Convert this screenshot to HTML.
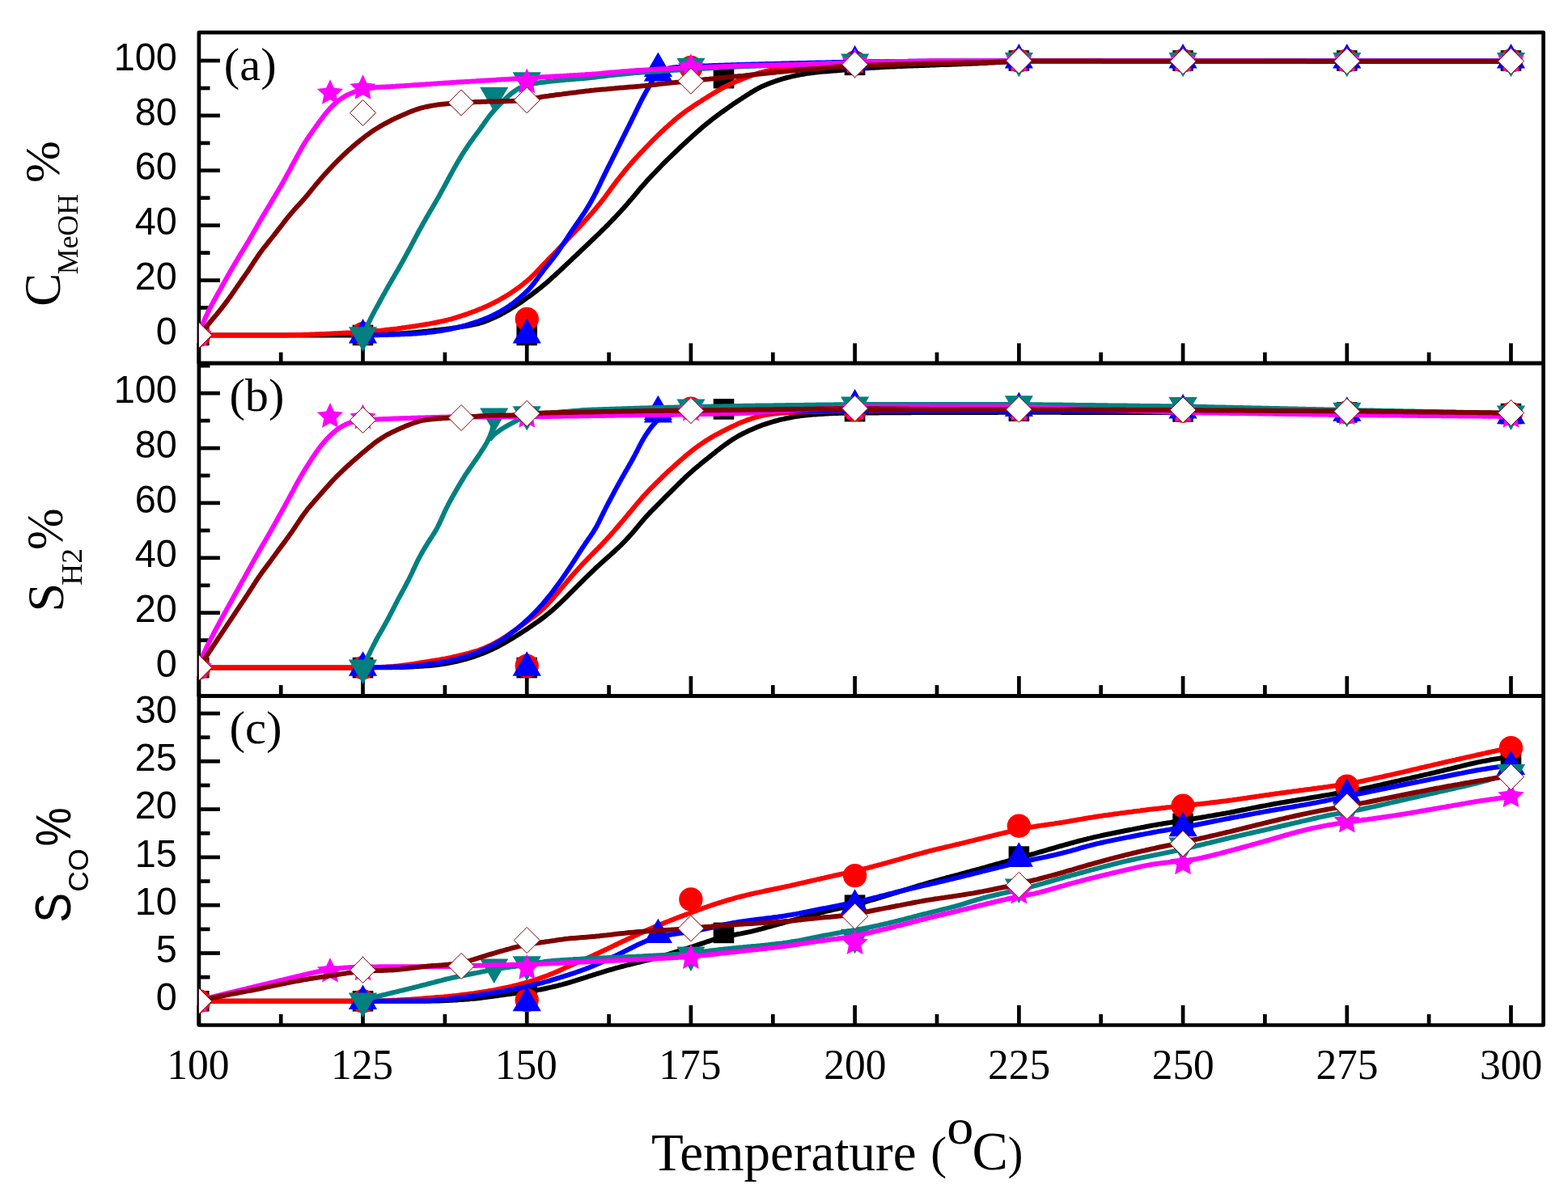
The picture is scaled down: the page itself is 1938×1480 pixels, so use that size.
<!DOCTYPE html>
<html><head><meta charset="utf-8"><title>Chart</title>
<style>html,body{margin:0;padding:0;background:#fff;width:1938px;height:1480px;overflow:hidden}svg{display:block}</style>
</head><body>
<svg width="1938" height="1480" viewBox="0 0 1938 1480">
<rect width="1938" height="1480" fill="#fff"/>
<defs>
<clipPath id="ca"><rect x="245.9" y="40.2" width="1661.7" height="408.8"/></clipPath>
<clipPath id="cb"><rect x="245.9" y="449.1" width="1661.7" height="411.6"/></clipPath>
<clipPath id="cc"><rect x="245.9" y="860.6" width="1661.7" height="406.9"/></clipPath>
</defs>
<rect x="245.9" y="40.2" width="1661.7" height="408.8" fill="none" stroke="#000" stroke-linejoin="round" stroke-width="4.7"/>
<line x1="245.8" y1="449.1" x2="245.8" y2="424.4" stroke="#000" stroke-width="4.7"/>
<line x1="347.2" y1="449.1" x2="347.2" y2="435.6" stroke="#000" stroke-width="4.7"/>
<line x1="448.5" y1="449.1" x2="448.5" y2="424.4" stroke="#000" stroke-width="4.7"/>
<line x1="549.9" y1="449.1" x2="549.9" y2="435.6" stroke="#000" stroke-width="4.7"/>
<line x1="651.2" y1="449.1" x2="651.2" y2="424.4" stroke="#000" stroke-width="4.7"/>
<line x1="752.6" y1="449.1" x2="752.6" y2="435.6" stroke="#000" stroke-width="4.7"/>
<line x1="853.9" y1="449.1" x2="853.9" y2="424.4" stroke="#000" stroke-width="4.7"/>
<line x1="955.3" y1="449.1" x2="955.3" y2="435.6" stroke="#000" stroke-width="4.7"/>
<line x1="1056.6" y1="449.1" x2="1056.6" y2="424.4" stroke="#000" stroke-width="4.7"/>
<line x1="1158" y1="449.1" x2="1158" y2="435.6" stroke="#000" stroke-width="4.7"/>
<line x1="1259.4" y1="449.1" x2="1259.4" y2="424.4" stroke="#000" stroke-width="4.7"/>
<line x1="1360.7" y1="449.1" x2="1360.7" y2="435.6" stroke="#000" stroke-width="4.7"/>
<line x1="1462.1" y1="449.1" x2="1462.1" y2="424.4" stroke="#000" stroke-width="4.7"/>
<line x1="1563.4" y1="449.1" x2="1563.4" y2="435.6" stroke="#000" stroke-width="4.7"/>
<line x1="1664.8" y1="449.1" x2="1664.8" y2="424.4" stroke="#000" stroke-width="4.7"/>
<line x1="1766.1" y1="449.1" x2="1766.1" y2="435.6" stroke="#000" stroke-width="4.7"/>
<line x1="1867.5" y1="449.1" x2="1867.5" y2="424.4" stroke="#000" stroke-width="4.7"/>
<line x1="245.9" y1="414.4" x2="271.9" y2="414.4" stroke="#000" stroke-width="4.7"/>
<line x1="245.9" y1="380.5" x2="259.5" y2="380.5" stroke="#000" stroke-width="4.7"/>
<line x1="245.9" y1="346.6" x2="271.9" y2="346.6" stroke="#000" stroke-width="4.7"/>
<line x1="245.9" y1="312.6" x2="259.5" y2="312.6" stroke="#000" stroke-width="4.7"/>
<line x1="245.9" y1="278.7" x2="271.9" y2="278.7" stroke="#000" stroke-width="4.7"/>
<line x1="245.9" y1="244.7" x2="259.5" y2="244.7" stroke="#000" stroke-width="4.7"/>
<line x1="245.9" y1="210.8" x2="271.9" y2="210.8" stroke="#000" stroke-width="4.7"/>
<line x1="245.9" y1="176.9" x2="259.5" y2="176.9" stroke="#000" stroke-width="4.7"/>
<line x1="245.9" y1="142.9" x2="271.9" y2="142.9" stroke="#000" stroke-width="4.7"/>
<line x1="245.9" y1="109" x2="259.5" y2="109" stroke="#000" stroke-width="4.7"/>
<line x1="245.9" y1="75" x2="271.9" y2="75" stroke="#000" stroke-width="4.7"/>
<rect x="245.9" y="449.1" width="1661.7" height="411.6" fill="none" stroke="#000" stroke-linejoin="round" stroke-width="4.7"/>
<line x1="245.8" y1="860.6" x2="245.8" y2="836" stroke="#000" stroke-width="4.7"/>
<line x1="347.2" y1="860.6" x2="347.2" y2="847.1" stroke="#000" stroke-width="4.7"/>
<line x1="448.5" y1="860.6" x2="448.5" y2="836" stroke="#000" stroke-width="4.7"/>
<line x1="549.9" y1="860.6" x2="549.9" y2="847.1" stroke="#000" stroke-width="4.7"/>
<line x1="651.2" y1="860.6" x2="651.2" y2="836" stroke="#000" stroke-width="4.7"/>
<line x1="752.6" y1="860.6" x2="752.6" y2="847.1" stroke="#000" stroke-width="4.7"/>
<line x1="853.9" y1="860.6" x2="853.9" y2="836" stroke="#000" stroke-width="4.7"/>
<line x1="955.3" y1="860.6" x2="955.3" y2="847.1" stroke="#000" stroke-width="4.7"/>
<line x1="1056.6" y1="860.6" x2="1056.6" y2="836" stroke="#000" stroke-width="4.7"/>
<line x1="1158" y1="860.6" x2="1158" y2="847.1" stroke="#000" stroke-width="4.7"/>
<line x1="1259.4" y1="860.6" x2="1259.4" y2="836" stroke="#000" stroke-width="4.7"/>
<line x1="1360.7" y1="860.6" x2="1360.7" y2="847.1" stroke="#000" stroke-width="4.7"/>
<line x1="1462.1" y1="860.6" x2="1462.1" y2="836" stroke="#000" stroke-width="4.7"/>
<line x1="1563.4" y1="860.6" x2="1563.4" y2="847.1" stroke="#000" stroke-width="4.7"/>
<line x1="1664.8" y1="860.6" x2="1664.8" y2="836" stroke="#000" stroke-width="4.7"/>
<line x1="1766.1" y1="860.6" x2="1766.1" y2="847.1" stroke="#000" stroke-width="4.7"/>
<line x1="1867.5" y1="860.6" x2="1867.5" y2="836" stroke="#000" stroke-width="4.7"/>
<line x1="245.9" y1="825.6" x2="271.9" y2="825.6" stroke="#000" stroke-width="4.7"/>
<line x1="245.9" y1="791.6" x2="259.5" y2="791.6" stroke="#000" stroke-width="4.7"/>
<line x1="245.9" y1="757.7" x2="271.9" y2="757.7" stroke="#000" stroke-width="4.7"/>
<line x1="245.9" y1="723.8" x2="259.5" y2="723.8" stroke="#000" stroke-width="4.7"/>
<line x1="245.9" y1="689.8" x2="271.9" y2="689.8" stroke="#000" stroke-width="4.7"/>
<line x1="245.9" y1="655.9" x2="259.5" y2="655.9" stroke="#000" stroke-width="4.7"/>
<line x1="245.9" y1="621.9" x2="271.9" y2="621.9" stroke="#000" stroke-width="4.7"/>
<line x1="245.9" y1="588" x2="259.5" y2="588" stroke="#000" stroke-width="4.7"/>
<line x1="245.9" y1="554.1" x2="271.9" y2="554.1" stroke="#000" stroke-width="4.7"/>
<line x1="245.9" y1="520.1" x2="259.5" y2="520.1" stroke="#000" stroke-width="4.7"/>
<line x1="245.9" y1="486.2" x2="271.9" y2="486.2" stroke="#000" stroke-width="4.7"/>
<line x1="245.9" y1="452.2" x2="259.5" y2="452.2" stroke="#000" stroke-width="4.7"/>
<rect x="245.9" y="860.6" width="1661.7" height="406.9" fill="none" stroke="#000" stroke-linejoin="round" stroke-width="4.7"/>
<line x1="245.8" y1="1267.5" x2="245.8" y2="1242.9" stroke="#000" stroke-width="4.7"/>
<line x1="347.2" y1="1267.5" x2="347.2" y2="1254" stroke="#000" stroke-width="4.7"/>
<line x1="448.5" y1="1267.5" x2="448.5" y2="1242.9" stroke="#000" stroke-width="4.7"/>
<line x1="549.9" y1="1267.5" x2="549.9" y2="1254" stroke="#000" stroke-width="4.7"/>
<line x1="651.2" y1="1267.5" x2="651.2" y2="1242.9" stroke="#000" stroke-width="4.7"/>
<line x1="752.6" y1="1267.5" x2="752.6" y2="1254" stroke="#000" stroke-width="4.7"/>
<line x1="853.9" y1="1267.5" x2="853.9" y2="1242.9" stroke="#000" stroke-width="4.7"/>
<line x1="955.3" y1="1267.5" x2="955.3" y2="1254" stroke="#000" stroke-width="4.7"/>
<line x1="1056.6" y1="1267.5" x2="1056.6" y2="1242.9" stroke="#000" stroke-width="4.7"/>
<line x1="1158" y1="1267.5" x2="1158" y2="1254" stroke="#000" stroke-width="4.7"/>
<line x1="1259.4" y1="1267.5" x2="1259.4" y2="1242.9" stroke="#000" stroke-width="4.7"/>
<line x1="1360.7" y1="1267.5" x2="1360.7" y2="1254" stroke="#000" stroke-width="4.7"/>
<line x1="1462.1" y1="1267.5" x2="1462.1" y2="1242.9" stroke="#000" stroke-width="4.7"/>
<line x1="1563.4" y1="1267.5" x2="1563.4" y2="1254" stroke="#000" stroke-width="4.7"/>
<line x1="1664.8" y1="1267.5" x2="1664.8" y2="1242.9" stroke="#000" stroke-width="4.7"/>
<line x1="1766.1" y1="1267.5" x2="1766.1" y2="1254" stroke="#000" stroke-width="4.7"/>
<line x1="1867.5" y1="1267.5" x2="1867.5" y2="1242.9" stroke="#000" stroke-width="4.7"/>
<line x1="245.9" y1="1237.8" x2="271.9" y2="1237.8" stroke="#000" stroke-width="4.7"/>
<line x1="245.9" y1="1208.2" x2="259.5" y2="1208.2" stroke="#000" stroke-width="4.7"/>
<line x1="245.9" y1="1178.5" x2="271.9" y2="1178.5" stroke="#000" stroke-width="4.7"/>
<line x1="245.9" y1="1148.9" x2="259.5" y2="1148.9" stroke="#000" stroke-width="4.7"/>
<line x1="245.9" y1="1119.2" x2="271.9" y2="1119.2" stroke="#000" stroke-width="4.7"/>
<line x1="245.9" y1="1089.6" x2="259.5" y2="1089.6" stroke="#000" stroke-width="4.7"/>
<line x1="245.9" y1="1059.9" x2="271.9" y2="1059.9" stroke="#000" stroke-width="4.7"/>
<line x1="245.9" y1="1030.3" x2="259.5" y2="1030.3" stroke="#000" stroke-width="4.7"/>
<line x1="245.9" y1="1000.6" x2="271.9" y2="1000.6" stroke="#000" stroke-width="4.7"/>
<line x1="245.9" y1="971" x2="259.5" y2="971" stroke="#000" stroke-width="4.7"/>
<line x1="245.9" y1="941.3" x2="271.9" y2="941.3" stroke="#000" stroke-width="4.7"/>
<line x1="245.9" y1="911.7" x2="259.5" y2="911.7" stroke="#000" stroke-width="4.7"/>
<line x1="245.9" y1="882.1" x2="271.9" y2="882.1" stroke="#000" stroke-width="4.7"/>
<g clip-path="url(#ca)">
<path d="M246 414.4L248.5 414.5 251 414.4 253.5 414.4 256 414.4 258.5 414.5 261 414.4 263.5 414.5 266 414.5 268.5 414.4 271 414.5 273.5 414.4 276 414.4 278.5 414.4 281 414.4 283.5 414.4 286 414.4 288.5 414.4 291 414.4 293.5 414.4 296 414.4 298.5 414.4 301 414.4 303.6 414.4 306.1 414.4 308.6 414.4 311.1 414.4 313.6 414.4 316.1 414.4 318.6 414.4 321.1 414.4 323.6 414.4 326.1 414.4 328.6 414.4 331.1 414.4 333.6 414.4 336.1 414.4 338.6 414.4 341.1 414.4 343.6 414.4 346.1 414.4 348.6 414.4 351.1 414.4 353.6 414.4 356.1 414.4 358.6 414.4 361.1 414.4 363.6 414.4 366.1 414.4 368.6 414.4 371.1 414.4 373.6 414.4 376.1 414.4 378.6 414.4 381.1 414.4 383.6 414.4 386.1 414.4 388.6 414.4 391.1 414.4 393.6 414.4 396.1 414.4 398.6 414.4 401.1 414.4 403.6 414.4 406.1 414.4 408.6 414.4 411.1 414.4 413.6 414.4 416.1 414.4 418.7 414.4 421.2 414.4 423.7 414.4 426.2 414.4 428.7 414.4 431.2 414.4 433.7 414.4 436.2 414.4 438.7 414.4 441.2 414.3 443.7 414.3 446.2 414.2 448.7 414.2 451.2 414.1 453.7 414 456.2 414 458.7 413.9 461.2 413.8 463.7 413.8 466.2 413.7 468.7 413.6 471.2 413.5 473.7 413.4 476.2 413.3 478.7 413.2 481.2 413.1 483.7 413 486.2 412.8 488.7 412.7 491.2 412.5 493.7 412.4 496.2 412.2 498.7 412.1 501.2 411.9 503.7 411.7 506.2 411.5 508.6 411.4 511.1 411.2 513.6 411 516.1 410.7 518.6 410.5 521.1 410.3 523.6 410 526.1 409.7 528.6 409.5 531.1 409.2 533.5 408.9 536 408.6 538.5 408.3 541 408.1 543.5 407.8 546 407.5 548.5 407.2 550.9 406.9 553.4 406.6 555.9 406.2 558.4 405.9 560.9 405.5 563.3 405.2 565.8 404.8 568.3 404.4 570.7 404 573.2 403.6 575.7 403.2 578.2 402.8 580.6 402.4 583.1 401.9 585.5 401.4 587.9 400.9 590.3 400.3 592.7 399.6 595.1 398.9 597.5 398.1 599.8 397.3 602.1 396.4 604.4 395.4 606.7 394.5 609 393.5 611.3 392.4 613.6 391.4 615.8 390.3 618 389.2 620.3 388 622.4 386.8 624.6 385.6 626.8 384.3 629 383.1 631.1 381.8 633.2 380.5 635.4 379.2 637.5 377.8 639.6 376.5 641.7 375.1 643.7 373.7 645.8 372.3 647.8 370.9 649.9 369.4 651.9 367.9 653.9 366.5 655.9 365 657.9 363.5 659.9 362 661.9 360.5 663.9 359 665.9 357.4 667.9 355.9 669.8 354.3 671.7 352.7 673.7 351.1 675.6 349.5 677.4 347.9 679.3 346.2 681.2 344.5 683 342.8 684.9 341.2 686.7 339.5 688.5 337.8 690.4 336.1 692.2 334.4 694.1 332.7 695.9 331 697.7 329.3 699.5 327.5 701.4 325.8 703.2 324.1 705 322.4 706.8 320.7 708.6 318.9 710.4 317.2 712.3 315.5 714.1 313.8 715.9 312.1 717.7 310.3 719.5 308.6 721.3 306.9 723.1 305.2 725 303.4 726.8 301.7 728.6 300 730.4 298.3 732.2 296.5 734 294.8 735.8 293.1 737.6 291.4 739.5 289.6 741.3 287.9 743 286.2 744.8 284.4 746.6 282.6 748.4 280.9 750.1 279.1 751.9 277.3 753.6 275.5 755.4 273.7 757.1 271.9 758.8 270.1 760.5 268.3 762.3 266.5 764 264.6 765.7 262.8 767.4 261 769.1 259.1 770.8 257.3 772.4 255.4 774.1 253.5 775.7 251.6 777.3 249.7 779 247.8 780.6 245.9 782.2 244 783.8 242.1 785.4 240.2 787 238.3 788.6 236.3 790.2 234.4 791.8 232.5 793.5 230.6 795.1 228.7 796.8 226.9 798.4 225 800.1 223.1 801.8 221.3 803.5 219.5 805.2 217.6 806.9 215.8 808.7 214 810.4 212.2 812.1 210.4 813.9 208.6 815.6 206.8 817.3 205 819.1 203.2 820.8 201.4 822.6 199.7 824.4 197.9 826.2 196.1 828 194.4 829.8 192.7 831.6 190.9 833.4 189.2 835.2 187.5 837 185.8 838.8 184 840.6 182.3 842.5 180.6 844.3 178.9 846.1 177.2 848 175.5 849.8 173.8 851.7 172.1 853.5 170.4 855.4 168.7 857.2 167.1 859.1 165.4 860.9 163.7 862.8 162.1 864.7 160.4 866.6 158.8 868.5 157.1 870.4 155.5 872.3 153.9 874.2 152.3 876.2 150.8 878.2 149.2 880.1 147.7 882.1 146.2 884.1 144.7 886.1 143.2 888.1 141.7 890.1 140.2 892.1 138.7 894.2 137.2 896.2 135.8 898.2 134.3 900.3 132.9 902.3 131.4 904.4 130 906.4 128.6 908.5 127.2 910.6 125.8 912.7 124.4 914.8 123 916.9 121.7 919 120.3 921.1 119 923.2 117.6 925.3 116.3 927.4 114.9 929.5 113.6 931.7 112.4 933.8 111.1 936 109.9 938.2 108.7 940.4 107.6 942.7 106.6 945 105.5 947.3 104.6 949.6 103.6 951.9 102.7 954.2 101.9 956.6 101 958.9 100.2 961.3 99.4 963.7 98.6 966.1 97.9 968.5 97.2 970.9 96.5 973.3 95.9 975.7 95.3 978.1 94.7 980.6 94.1 983 93.5 985.5 93 987.9 92.5 990.4 92.1 992.8 91.7 995.3 91.3 997.8 90.9 1000.2 90.5 1002.7 90.2 1005.2 89.9 1007.7 89.6 1010.2 89.3 1012.7 89.1 1015.1 88.8 1017.6 88.6 1020.1 88.4 1022.6 88.2 1025.1 87.9 1027.6 87.8 1030.1 87.6 1032.6 87.4 1035.1 87.2 1037.6 87 1040.1 86.8 1042.6 86.6 1045.1 86.4 1047.6 86.2 1050.1 86 1052.6 85.8 1055 85.6 1057.5 85.3 1060 85.1 1062.5 84.9 1065 84.7 1067.5 84.5 1070 84.3 1072.5 84.2 1075 84 1077.5 83.8 1080 83.7 1082.5 83.5 1085 83.4 1087.5 83.2 1090 83.1 1092.5 83 1095 82.8 1097.5 82.7 1100 82.6 1102.5 82.5 1105 82.4 1107.5 82.2 1110 82.1 1112.5 82 1115 81.9 1117.5 81.8 1120 81.7 1122.5 81.6 1125 81.5 1127.5 81.4 1130 81.3 1132.5 81.2 1135 81.2 1137.5 81.1 1140 81 1142.5 80.9 1145 80.8 1147.5 80.7 1150 80.6 1152.5 80.5 1155 80.4 1157.5 80.3 1160 80.2 1162.5 80.1 1165 80 1167.5 80 1170 79.9 1172.5 79.8 1175 79.7 1177.5 79.6 1180 79.5 1182.5 79.4 1185 79.3 1187.5 79.2 1190 79.1 1192.5 79 1195 78.9 1197.5 78.8 1200 78.7 1202.5 78.6 1205 78.5 1207.5 78.4 1210 78.2 1212.5 78.1 1215 78 1217.5 77.9 1220 77.8 1222.5 77.6 1225 77.5 1227.5 77.4 1230 77.2 1232.5 77.1 1235 77 1237.5 76.8 1240 76.7 1242.5 76.6 1245 76.4 1247.5 76.3 1250 76.2 1252.5 76.1 1255 76 1257.5 75.9 1260 75.8 1262.5 75.7 1265 75.7 1267.5 75.6 1270 75.6 1272.5 75.6 1275 75.6 1277.5 75.6 1280 75.6 1282.5 75.6 1285 75.6 1287.5 75.6 1290 75.6 1292.5 75.6 1295 75.6 1297.5 75.6 1300 75.6 1302.5 75.6 1305 75.6 1307.5 75.6 1310 75.6 1312.5 75.5 1315 75.5 1317.5 75.5 1320 75.5 1322.5 75.5 1325 75.5 1327.5 75.5 1330 75.5 1332.5 75.5 1335 75.5 1337.5 75.5 1340 75.5 1342.5 75.5 1345 75.5 1347.5 75.5 1350 75.5 1352.5 75.5 1355 75.5 1357.6 75.5 1360.1 75.5 1362.6 75.5 1365.1 75.5 1367.6 75.5 1370.1 75.5 1372.6 75.5 1375.1 75.5 1377.6 75.5 1380.1 75.5 1382.6 75.5 1385.1 75.5 1387.6 75.5 1390.1 75.5 1392.6 75.5 1395.1 75.5 1397.6 75.5 1400.1 75.5 1402.6 75.5 1405.1 75.5 1407.6 75.5 1410.1 75.5 1412.6 75.4 1415.1 75.4 1417.6 75.4 1420.1 75.4 1422.6 75.4 1425.1 75.4 1427.6 75.4 1430.1 75.4 1432.6 75.4 1435.1 75.4 1437.6 75.4 1440.1 75.4 1442.6 75.4 1445.1 75.4 1447.6 75.4 1450.1 75.4 1452.6 75.4 1455.1 75.4 1457.6 75.4 1460.1 75.4 1462.6 75.4 1465.1 75.4 1467.6 75.4 1470.1 75.4 1472.7 75.4 1475.2 75.4 1477.7 75.4 1480.2 75.4 1482.7 75.4 1485.2 75.4 1487.7 75.4 1490.2 75.4 1492.7 75.4 1495.2 75.4 1497.7 75.4 1500.2 75.4 1502.7 75.4 1505.2 75.4 1507.7 75.4 1510.2 75.4 1512.7 75.4 1515.2 75.4 1517.7 75.4 1520.2 75.4 1522.7 75.4 1525.2 75.4 1527.7 75.4 1530.2 75.4 1532.7 75.4 1535.2 75.4 1537.7 75.4 1540.2 75.4 1542.7 75.4 1545.2 75.4 1547.7 75.4 1550.2 75.4 1552.7 75.4 1555.2 75.4 1557.7 75.4 1560.2 75.4 1562.7 75.4 1565.2 75.5 1567.7 75.5 1570.2 75.5 1572.7 75.5 1575.2 75.5 1577.7 75.5 1580.2 75.5 1582.7 75.5 1585.3 75.5 1587.8 75.5 1590.3 75.5 1592.8 75.5 1595.3 75.5 1597.8 75.5 1600.3 75.5 1602.8 75.5 1605.3 75.5 1607.8 75.5 1610.3 75.5 1612.8 75.5 1615.3 75.5 1617.8 75.5 1620.3 75.5 1622.8 75.5 1625.3 75.5 1627.8 75.5 1630.3 75.5 1632.8 75.5 1635.3 75.5 1637.8 75.5 1640.3 75.5 1642.8 75.5 1645.3 75.5 1647.8 75.5 1650.3 75.5 1652.8 75.5 1655.3 75.5 1657.8 75.5 1660.3 75.5 1662.8 75.5 1665.3 75.5 1667.8 75.5 1670.3 75.5 1672.8 75.5 1675.3 75.5 1677.8 75.5 1680.3 75.5 1682.8 75.5 1685.3 75.5 1687.8 75.5 1690.3 75.5 1692.8 75.5 1695.3 75.5 1697.9 75.5 1700.4 75.5 1702.9 75.5 1705.4 75.5 1707.9 75.5 1710.4 75.5 1712.9 75.5 1715.4 75.5 1717.9 75.5 1720.4 75.5 1722.9 75.5 1725.4 75.5 1727.9 75.5 1730.4 75.5 1732.9 75.5 1735.4 75.5 1737.9 75.5 1740.4 75.5 1742.9 75.5 1745.4 75.5 1747.9 75.5 1750.4 75.5 1752.9 75.5 1755.4 75.5 1757.9 75.5 1760.4 75.5 1762.9 75.5 1765.4 75.5 1767.9 75.5 1770.4 75.5 1772.9 75.5 1775.4 75.5 1777.9 75.5 1780.4 75.5 1782.9 75.5 1785.4 75.5 1787.9 75.5 1790.4 75.5 1792.9 75.5 1795.4 75.5 1797.9 75.5 1800.4 75.5 1802.9 75.5 1805.4 75.5 1807.9 75.5 1810.4 75.5 1813 75.5 1815.5 75.5 1818 75.5 1820.5 75.5 1823 75.5 1825.5 75.5 1828 75.5 1830.5 75.5 1833 75.5 1835.5 75.5 1838 75.5 1840.5 75.5 1843 75.5 1845.5 75.5 1848 75.5 1850.5 75.5 1853 75.5 1855.5 75.5 1858 75.5 1860.5 75.5 1863 75.5 1865.5 75.5 1868 75.5" fill="none" stroke="#000000" stroke-width="6" stroke-linejoin="round" stroke-linecap="butt"/>
<rect x="233" y="401.6" width="25.6" height="25.6" fill="#000"/>
<rect x="435.7" y="401.6" width="25.6" height="25.6" fill="#000"/>
<rect x="638.4" y="401.6" width="25.6" height="25.6" fill="#000"/>
<rect x="881.7" y="83.8" width="25.6" height="25.6" fill="#000"/>
<rect x="1043.8" y="67.5" width="25.6" height="25.6" fill="#000"/>
<rect x="1246.6" y="62.2" width="25.6" height="25.6" fill="#000"/>
<rect x="1449.3" y="62.2" width="25.6" height="25.6" fill="#000"/>
<rect x="1652" y="62.2" width="25.6" height="25.6" fill="#000"/>
<rect x="1854.7" y="62.2" width="25.6" height="25.6" fill="#000"/>
<path d="M246 414.4L248.5 414.4 251 414.4 253.5 414.4 256 414.4 258.5 414.4 261 414.4 263.5 414.4 266 414.4 268.5 414.4 271 414.4 273.5 414.4 276 414.4 278.5 414.4 281 414.4 283.5 414.4 286 414.4 288.5 414.4 291 414.4 293.5 414.4 296 414.4 298.5 414.4 301 414.4 303.5 414.4 306 414.4 308.5 414.4 311 414.4 313.5 414.4 316 414.4 318.5 414.4 321 414.4 323.5 414.4 326 414.4 328.5 414.4 331 414.4 333.5 414.4 336 414.4 338.5 414.4 341 414.4 343.5 414.4 346 414.4 348.5 414.4 351 414.4 353.5 414.4 356 414.3 358.5 414.3 361 414.3 363.5 414.2 366 414.1 368.5 414.1 371 414 373.5 413.9 376 413.8 378.5 413.7 381 413.7 383.5 413.6 386 413.5 388.5 413.4 391 413.3 393.5 413.2 396 413.1 398.5 413 401 412.9 403.5 412.8 406 412.7 408.5 412.6 411 412.4 413.5 412.3 416 412.2 418.5 412.1 421 411.9 423.5 411.8 426 411.7 428.5 411.5 431 411.4 433.5 411.3 436 411.1 438.5 411 441 410.8 443.5 410.7 446 410.5 448.5 410.4 451 410.2 453.4 410.1 455.9 409.9 458.4 409.7 460.9 409.5 463.4 409.3 465.9 409.1 468.4 408.9 470.9 408.7 473.4 408.4 475.9 408.1 478.3 407.8 480.8 407.6 483.3 407.3 485.8 407 488.3 406.7 490.8 406.4 493.2 406 495.7 405.7 498.2 405.3 500.7 405 503.1 404.6 505.6 404.3 508.1 403.9 510.6 403.5 513 403.2 515.5 402.8 518 402.4 520.4 402 522.9 401.6 525.4 401.2 527.9 400.8 530.3 400.4 532.8 399.9 535.2 399.5 537.7 399 540.1 398.5 542.6 398 545 397.5 547.5 397 549.9 396.4 552.3 395.8 554.8 395.2 557.2 394.6 559.6 393.9 562 393.2 564.4 392.5 566.7 391.7 569.1 391 571.5 390.2 573.9 389.4 576.2 388.6 578.6 387.8 580.9 386.9 583.3 386 585.6 385.2 588 384.3 590.3 383.3 592.6 382.4 594.9 381.5 597.2 380.5 599.5 379.5 601.8 378.5 604.1 377.5 606.3 376.4 608.6 375.3 610.8 374.2 613 373 615.2 371.8 617.4 370.6 619.6 369.4 621.7 368.2 623.9 366.9 626 365.6 628.2 364.3 630.3 363 632.3 361.6 634.4 360.2 636.4 358.8 638.5 357.3 640.5 355.8 642.5 354.3 644.5 352.8 646.5 351.3 648.4 349.7 650.3 348.2 652.2 346.6 654.1 344.9 656 343.2 657.8 341.5 659.5 339.8 661.3 338 663 336.2 664.7 334.4 666.5 332.6 668.2 330.7 669.9 328.9 671.6 327.1 673.3 325.3 675.1 323.5 676.8 321.7 678.5 319.9 680.3 318.1 682 316.3 683.8 314.5 685.5 312.8 687.3 311 689 309.2 690.8 307.4 692.5 305.6 694.2 303.8 695.9 301.9 697.6 300.1 699.4 298.3 701.1 296.5 702.8 294.7 704.5 292.8 706.2 291 707.9 289.2 709.6 287.4 711.3 285.5 713.1 283.7 714.8 281.9 716.5 280.1 718.2 278.2 719.9 276.4 721.6 274.6 723.3 272.7 724.9 270.9 726.6 269 728.3 267.1 729.9 265.3 731.6 263.4 733.2 261.5 734.8 259.6 736.4 257.7 738 255.7 739.6 253.8 741.2 251.9 742.8 249.9 744.3 248 745.8 246 747.4 244 748.9 242 750.3 240 751.8 238 753.3 236 754.7 233.9 756.2 231.9 757.7 229.9 759.2 227.9 760.7 225.9 762.2 223.9 763.7 221.9 765.3 220 766.8 218 768.4 216 770 214.1 771.5 212.2 773.1 210.2 774.7 208.3 776.3 206.4 777.9 204.5 779.5 202.6 781.2 200.7 782.8 198.8 784.5 196.9 786.2 195.1 787.9 193.3 789.6 191.4 791.3 189.6 793 187.8 794.8 186 796.5 184.2 798.2 182.4 800 180.6 801.7 178.8 803.4 177 805.2 175.2 806.9 173.4 808.7 171.7 810.5 169.9 812.3 168.1 814 166.4 815.8 164.7 817.7 162.9 819.5 161.2 821.3 159.5 823.1 157.8 825 156.2 826.8 154.5 828.7 152.8 830.6 151.2 832.5 149.5 834.4 147.9 836.3 146.3 838.2 144.7 840.2 143.1 842.1 141.6 844.1 140.1 846.1 138.6 848.1 137.1 850.2 135.7 852.2 134.3 854.3 132.9 856.4 131.5 858.5 130.1 860.6 128.7 862.7 127.4 864.8 126 866.9 124.7 869 123.3 871.1 122 873.2 120.7 875.3 119.3 877.5 118 879.6 116.7 881.7 115.4 883.9 114.2 886 112.9 888.2 111.6 890.4 110.4 892.5 109.2 894.7 108 896.9 106.8 899.2 105.7 901.4 104.6 903.7 103.6 906 102.6 908.3 101.6 910.6 100.6 912.9 99.6 915.2 98.7 917.5 97.7 919.8 96.8 922.1 95.9 924.5 95 926.8 94.1 929.2 93.3 931.5 92.4 933.9 91.6 936.2 90.9 938.6 90.1 941 89.5 943.4 88.8 945.9 88.2 948.3 87.7 950.7 87.1 953.2 86.7 955.6 86.2 958.1 85.8 960.6 85.3 963 85 965.5 84.6 968 84.3 970.5 84.1 972.9 83.8 975.4 83.6 977.9 83.4 980.4 83.2 982.9 83 985.4 82.8 987.9 82.7 990.4 82.5 992.9 82.4 995.4 82.2 997.9 82.1 1000.4 81.9 1002.9 81.8 1005.4 81.7 1007.9 81.6 1010.4 81.4 1012.9 81.3 1015.4 81.2 1017.9 81.1 1020.4 80.9 1022.9 80.8 1025.3 80.7 1027.8 80.6 1030.3 80.4 1032.8 80.3 1035.3 80.2 1037.8 80.1 1040.3 80 1042.8 79.9 1045.3 79.8 1047.8 79.7 1050.3 79.6 1052.8 79.5 1055.3 79.4 1057.8 79.3 1060.3 79.2 1062.8 79.1 1065.3 79.1 1067.8 79 1070.3 78.9 1072.8 78.8 1075.3 78.7 1077.8 78.6 1080.3 78.5 1082.8 78.4 1085.3 78.3 1087.8 78.2 1090.3 78.2 1092.8 78.1 1095.3 78 1097.8 77.9 1100.3 77.8 1102.8 77.8 1105.3 77.7 1107.8 77.7 1110.3 77.6 1112.8 77.5 1115.3 77.5 1117.8 77.4 1120.3 77.4 1122.8 77.3 1125.3 77.3 1127.8 77.2 1130.3 77.2 1132.8 77.1 1135.3 77.1 1137.8 77 1140.3 77 1142.8 76.9 1145.3 76.9 1147.8 76.8 1150.3 76.8 1152.8 76.7 1155.3 76.7 1157.8 76.6 1160.3 76.6 1162.8 76.5 1165.3 76.5 1167.8 76.4 1170.3 76.4 1172.8 76.4 1175.3 76.3 1177.8 76.3 1180.3 76.2 1182.8 76.2 1185.3 76.2 1187.8 76.1 1190.3 76.1 1192.8 76.1 1195.3 76.1 1197.8 76 1200.3 76 1202.8 76 1205.3 76 1207.8 76 1210.3 75.9 1212.8 75.9 1215.3 75.9 1217.8 75.9 1220.3 75.8 1222.8 75.8 1225.3 75.8 1227.8 75.8 1230.3 75.8 1232.8 75.7 1235.3 75.7 1237.8 75.7 1240.3 75.7 1242.8 75.7 1245.3 75.6 1247.8 75.6 1250.3 75.6 1252.8 75.6 1255.3 75.6 1257.8 75.5 1260.3 75.5 1262.8 75.5 1265.3 75.5 1267.8 75.5 1270.3 75.5 1272.8 75.5 1275.3 75.5 1277.8 75.5 1280.3 75.5 1282.8 75.5 1285.3 75.5 1287.8 75.5 1290.3 75.5 1292.8 75.5 1295.3 75.5 1297.8 75.5 1300.3 75.5 1302.8 75.5 1305.3 75.5 1307.8 75.5 1310.4 75.5 1312.9 75.5 1315.4 75.5 1317.9 75.5 1320.4 75.5 1322.9 75.5 1325.4 75.5 1327.9 75.5 1330.4 75.5 1332.9 75.5 1335.4 75.5 1337.9 75.5 1340.4 75.5 1342.9 75.5 1345.4 75.5 1347.9 75.5 1350.4 75.5 1352.9 75.5 1355.4 75.5 1357.9 75.5 1360.4 75.5 1362.9 75.5 1365.4 75.5 1367.9 75.5 1370.4 75.5 1372.9 75.5 1375.4 75.5 1377.9 75.5 1380.4 75.5 1382.9 75.5 1385.4 75.5 1387.9 75.5 1390.4 75.5 1392.9 75.5 1395.4 75.5 1397.9 75.5 1400.4 75.5 1402.9 75.5 1405.4 75.5 1407.9 75.5 1410.4 75.5 1412.9 75.5 1415.4 75.5 1417.9 75.5 1420.4 75.5 1422.9 75.5 1425.4 75.5 1427.9 75.5 1430.4 75.5 1432.9 75.5 1435.4 75.5 1437.9 75.5 1440.4 75.5 1442.9 75.5 1445.4 75.5 1447.9 75.5 1450.4 75.5 1452.9 75.5 1455.4 75.5 1457.9 75.5 1460.4 75.5 1462.9 75.5 1465.4 75.5 1467.9 75.5 1470.4 75.5 1472.9 75.5 1475.4 75.5 1477.9 75.5 1480.4 75.5 1482.9 75.5 1485.4 75.5 1487.9 75.5 1490.4 75.5 1492.9 75.5 1495.4 75.5 1497.9 75.5 1500.4 75.5 1502.9 75.5 1505.4 75.5 1507.9 75.5 1510.4 75.5 1512.9 75.5 1515.4 75.5 1517.9 75.5 1520.4 75.5 1522.9 75.5 1525.4 75.5 1527.9 75.5 1530.4 75.5 1532.9 75.5 1535.4 75.5 1537.9 75.5 1540.4 75.5 1542.9 75.5 1545.4 75.5 1547.9 75.5 1550.4 75.5 1552.9 75.5 1555.4 75.5 1557.9 75.5 1560.4 75.5 1562.9 75.5 1565.4 75.5 1567.9 75.5 1570.4 75.5 1572.9 75.5 1575.4 75.5 1577.9 75.5 1580.4 75.5 1582.9 75.5 1585.4 75.5 1587.9 75.5 1590.4 75.5 1592.9 75.5 1595.4 75.5 1597.9 75.5 1600.4 75.5 1602.9 75.5 1605.4 75.5 1607.9 75.5 1610.4 75.5 1612.9 75.5 1615.4 75.5 1617.9 75.5 1620.4 75.5 1622.9 75.5 1625.4 75.5 1627.9 75.5 1630.4 75.5 1632.9 75.5 1635.4 75.5 1637.9 75.5 1640.4 75.5 1642.9 75.5 1645.4 75.5 1647.9 75.5 1650.4 75.5 1652.9 75.5 1655.4 75.5 1657.9 75.5 1660.4 75.5 1662.9 75.5 1665.4 75.5 1667.9 75.5 1670.4 75.5 1672.9 75.5 1675.4 75.5 1677.9 75.5 1680.4 75.5 1683 75.5 1685.5 75.5 1688 75.5 1690.5 75.5 1693 75.5 1695.5 75.5 1698 75.5 1700.5 75.5 1703 75.5 1705.5 75.5 1708 75.5 1710.5 75.5 1713 75.5 1715.5 75.5 1718 75.5 1720.5 75.5 1723 75.5 1725.5 75.5 1728 75.5 1730.5 75.5 1733 75.5 1735.5 75.5 1738 75.5 1740.5 75.5 1743 75.5 1745.5 75.5 1748 75.5 1750.5 75.5 1753 75.5 1755.5 75.5 1758 75.5 1760.5 75.5 1763 75.5 1765.5 75.5 1768 75.5 1770.5 75.5 1773 75.5 1775.5 75.5 1778 75.5 1780.5 75.5 1783 75.5 1785.5 75.5 1788 75.5 1790.5 75.5 1793 75.5 1795.5 75.5 1798 75.5 1800.5 75.5 1803 75.5 1805.5 75.5 1808 75.5 1810.5 75.5 1813 75.5 1815.5 75.5 1818 75.5 1820.5 75.5 1823 75.5 1825.5 75.5 1828 75.5 1830.5 75.5 1833 75.5 1835.5 75.5 1838 75.5 1840.5 75.5 1843 75.5 1845.5 75.5 1848 75.5 1850.5 75.5 1853 75.5 1855.5 75.5 1858 75.5 1860.5 75.5 1863 75.5 1865.5 75.5 1868 75.5" fill="none" stroke="#FF0000" stroke-width="6" stroke-linejoin="round" stroke-linecap="butt"/>
<circle cx="245.8" cy="414.4" r="14.7" fill="#F00"/>
<circle cx="448.5" cy="412.8" r="14.7" fill="#F00"/>
<circle cx="651.2" cy="394.4" r="14.7" fill="#F00"/>
<circle cx="853.9" cy="83.5" r="14.7" fill="#F00"/>
<circle cx="1056.6" cy="77.1" r="14.7" fill="#F00"/>
<circle cx="1259.4" cy="75" r="14.7" fill="#F00"/>
<circle cx="1462.1" cy="75" r="14.7" fill="#F00"/>
<circle cx="1664.8" cy="75" r="14.7" fill="#F00"/>
<circle cx="1867.5" cy="75" r="14.7" fill="#F00"/>
<path d="M448.7 414.4L451.2 414.4 453.7 414.4 456.2 414.4 458.7 414.4 461.2 414.3 463.7 414.3 466.2 414.2 468.7 414.2 471.2 414.1 473.7 414 476.2 414 478.7 413.9 481.2 413.8 483.7 413.7 486.2 413.7 488.7 413.6 491.2 413.5 493.7 413.4 496.3 413.3 498.8 413.2 501.3 413.1 503.8 413 506.3 412.9 508.8 412.7 511.3 412.6 513.7 412.4 516.2 412.2 518.7 412 521.2 411.8 523.7 411.6 526.2 411.4 528.7 411.1 531.2 410.8 533.7 410.5 536.2 410.2 538.6 409.9 541.1 409.5 543.6 409.2 546.1 408.8 548.5 408.3 551 407.9 553.4 407.5 555.9 407 558.3 406.5 560.8 405.9 563.2 405.4 565.7 404.8 568.1 404.2 570.5 403.6 572.9 402.9 575.3 402.3 577.8 401.6 580.2 400.9 582.5 400.1 584.9 399.4 587.3 398.6 589.7 397.8 592 397 594.4 396.1 596.7 395.2 599.1 394.3 601.4 393.4 603.7 392.4 605.9 391.4 608.2 390.4 610.4 389.3 612.7 388.1 614.9 387 617.1 385.8 619.3 384.6 621.4 383.3 623.6 382 625.7 380.7 627.8 379.4 629.9 378 631.9 376.5 633.9 375.1 635.9 373.5 637.8 372 639.7 370.4 641.7 368.8 643.6 367.2 645.4 365.5 647.3 363.9 649.1 362.2 650.9 360.4 652.7 358.7 654.4 356.9 656 355 657.6 353.1 659.2 351.2 660.7 349.2 662.2 347.2 663.7 345.2 665.2 343.2 666.6 341.1 668.1 339.1 669.6 337.1 671.1 335.1 672.7 333.1 674.2 331.2 675.8 329.2 677.3 327.3 678.9 325.3 680.4 323.4 682 321.4 683.5 319.4 685 317.4 686.5 315.4 688 313.4 689.5 311.4 690.9 309.3 692.3 307.3 693.7 305.2 695.1 303.1 696.5 301 697.9 299 699.3 296.9 700.7 294.8 702.1 292.7 703.4 290.6 704.8 288.5 706.2 286.4 707.6 284.3 709 282.3 710.4 280.2 711.8 278.1 713.2 276.1 714.7 274 716.1 272 717.5 269.9 718.9 267.8 720.3 265.8 721.7 263.7 723.1 261.6 724.4 259.5 725.7 257.3 727 255.2 728.3 253.1 729.6 250.9 730.8 248.7 732 246.5 733.2 244.3 734.4 242.1 735.5 239.9 736.7 237.7 737.8 235.4 738.9 233.2 740 230.9 741.1 228.7 742.1 226.4 743.2 224.2 744.3 221.9 745.4 219.7 746.5 217.4 747.6 215.2 748.7 212.9 749.8 210.7 750.9 208.4 752 206.2 753.2 203.9 754.3 201.7 755.4 199.5 756.5 197.2 757.6 195 758.8 192.7 759.9 190.5 761 188.3 762.1 186 763.2 183.8 764.3 181.6 765.5 179.3 766.6 177.1 767.7 174.8 768.8 172.6 769.9 170.4 771.1 168.1 772.2 165.9 773.3 163.6 774.4 161.4 775.5 159.2 776.7 156.9 777.8 154.7 778.9 152.4 780 150.2 781.1 147.9 782.2 145.7 783.3 143.5 784.4 141.2 785.5 138.9 786.6 136.7 787.7 134.4 788.8 132.2 789.9 129.9 791 127.7 792.1 125.5 793.3 123.2 794.4 121 795.6 118.8 796.8 116.6 798 114.4 799.2 112.3 800.4 110.1 801.7 107.9 802.9 105.7 804.1 103.5 805.3 101.4 806.6 99.2 807.9 97.2 809.3 95.2 810.8 93.3 812.4 91.6 814.1 90 816 88.6 817.9 87.4 820 86.4 822.2 85.6 824.5 84.9 826.8 84.4 829.3 83.9 831.7 83.6 834.2 83.3 836.6 83.1 839.1 82.9 841.6 82.7 844.1 82.6 846.6 82.4 849.1 82.3 851.6 82.2 854.1 82.1 856.6 82 859.1 81.9 861.6 81.8 864.1 81.7 866.6 81.6 869.1 81.6 871.6 81.5 874.1 81.4 876.6 81.3 879.1 81.2 881.6 81.1 884.1 81 886.6 80.9 889.1 80.8 891.6 80.8 894.1 80.7 896.7 80.6 899.2 80.5 901.7 80.4 904.2 80.3 906.7 80.3 909.2 80.2 911.7 80.1 914.2 80 916.7 79.9 919.2 79.9 921.7 79.8 924.2 79.7 926.7 79.7 929.2 79.6 931.7 79.5 934.2 79.5 936.7 79.4 939.2 79.3 941.7 79.3 944.2 79.2 946.7 79.1 949.2 79.1 951.7 79 954.2 78.9 956.7 78.9 959.2 78.8 961.7 78.7 964.2 78.7 966.7 78.6 969.2 78.5 971.7 78.5 974.2 78.4 976.7 78.3 979.2 78.3 981.7 78.2 984.2 78.2 986.7 78.1 989.2 78.1 991.8 78 994.3 77.9 996.8 77.9 999.3 77.8 1001.8 77.8 1004.3 77.7 1006.8 77.7 1009.3 77.6 1011.8 77.5 1014.3 77.5 1016.8 77.4 1019.3 77.4 1021.8 77.3 1024.3 77.3 1026.8 77.2 1029.3 77.1 1031.8 77.1 1034.3 77 1036.8 77 1039.3 76.9 1041.8 76.9 1044.3 76.8 1046.8 76.7 1049.3 76.7 1051.8 76.6 1054.3 76.6 1056.8 76.6 1059.3 76.5 1061.8 76.5 1064.3 76.4 1066.8 76.4 1069.3 76.4 1071.9 76.4 1074.4 76.3 1076.9 76.3 1079.4 76.3 1081.9 76.3 1084.4 76.2 1086.9 76.2 1089.4 76.2 1091.9 76.2 1094.4 76.1 1096.9 76.1 1099.4 76.1 1101.9 76.1 1104.4 76 1106.9 76 1109.4 76 1111.9 76 1114.4 75.9 1116.9 75.9 1119.4 75.9 1121.9 75.9 1124.4 75.8 1126.9 75.8 1129.4 75.8 1131.9 75.8 1134.4 75.7 1136.9 75.7 1139.4 75.7 1141.9 75.7 1144.5 75.7 1147 75.6 1149.5 75.6 1152 75.6 1154.5 75.6 1157 75.5 1159.5 75.5 1162 75.5 1164.5 75.5 1167 75.5 1169.5 75.5 1172 75.5 1174.5 75.5 1177 75.5 1179.5 75.5 1182 75.5 1184.5 75.5 1187 75.4 1189.5 75.4 1192 75.4 1194.5 75.4 1197 75.4 1199.5 75.4 1202 75.4 1204.5 75.4 1207 75.4 1209.5 75.4 1212 75.4 1214.6 75.4 1217.1 75.4 1219.6 75.4 1222.1 75.4 1224.6 75.4 1227.1 75.4 1229.6 75.4 1232.1 75.4 1234.6 75.4 1237.1 75.3 1239.6 75.3 1242.1 75.3 1244.6 75.3 1247.1 75.3 1249.6 75.3 1252.1 75.3 1254.6 75.3 1257.1 75.3 1259.6 75.3 1262.1 75.3 1264.6 75.3 1267.1 75.3 1269.6 75.3 1272.1 75.3 1274.6 75.3 1277.1 75.3 1279.6 75.3 1282.2 75.3 1284.7 75.3 1287.2 75.3 1289.7 75.3 1292.2 75.3 1294.7 75.3 1297.2 75.3 1299.7 75.3 1302.2 75.3 1304.7 75.3 1307.2 75.3 1309.7 75.3 1312.2 75.3 1314.7 75.3 1317.2 75.3 1319.7 75.3 1322.2 75.3 1324.7 75.3 1327.2 75.3 1329.7 75.3 1332.2 75.3 1334.7 75.3 1337.2 75.3 1339.7 75.3 1342.2 75.3 1344.7 75.3 1347.2 75.3 1349.7 75.3 1352.3 75.3 1354.8 75.3 1357.3 75.3 1359.8 75.3 1362.3 75.3 1364.8 75.3 1367.3 75.3 1369.8 75.3 1372.3 75.3 1374.8 75.3 1377.3 75.3 1379.8 75.3 1382.3 75.3 1384.8 75.3 1387.3 75.3 1389.8 75.3 1392.3 75.3 1394.8 75.3 1397.3 75.3 1399.8 75.3 1402.3 75.3 1404.8 75.3 1407.3 75.3 1409.8 75.3 1412.3 75.3 1414.8 75.3 1417.3 75.3 1419.9 75.3 1422.4 75.3 1424.9 75.3 1427.4 75.3 1429.9 75.3 1432.4 75.3 1434.9 75.3 1437.4 75.3 1439.9 75.3 1442.4 75.3 1444.9 75.3 1447.4 75.3 1449.9 75.3 1452.4 75.3 1454.9 75.3 1457.4 75.3 1459.9 75.3 1462.4 75.3 1464.9 75.3 1467.4 75.3 1469.9 75.3 1472.4 75.3 1474.9 75.3 1477.4 75.3 1479.9 75.3 1482.4 75.3 1484.9 75.3 1487.4 75.3 1490 75.3 1492.5 75.3 1495 75.3 1497.5 75.3 1500 75.3 1502.5 75.3 1505 75.3 1507.5 75.3 1510 75.3 1512.5 75.3 1515 75.3 1517.5 75.3 1520 75.3 1522.5 75.3 1525 75.3 1527.5 75.3 1530 75.3 1532.5 75.3 1535 75.3 1537.5 75.3 1540 75.3 1542.5 75.3 1545 75.3 1547.5 75.3 1550 75.3 1552.5 75.3 1555 75.3 1557.6 75.3 1560.1 75.3 1562.6 75.3 1565.1 75.4 1567.6 75.4 1570.1 75.4 1572.6 75.4 1575.1 75.4 1577.6 75.4 1580.1 75.4 1582.6 75.4 1585.1 75.4 1587.6 75.4 1590.1 75.4 1592.6 75.4 1595.1 75.4 1597.6 75.4 1600.1 75.4 1602.6 75.4 1605.1 75.4 1607.6 75.4 1610.1 75.4 1612.6 75.4 1615.1 75.4 1617.6 75.4 1620.1 75.4 1622.6 75.4 1625.1 75.4 1627.7 75.4 1630.2 75.4 1632.7 75.4 1635.2 75.4 1637.7 75.4 1640.2 75.4 1642.7 75.4 1645.2 75.4 1647.7 75.4 1650.2 75.4 1652.7 75.4 1655.2 75.4 1657.7 75.4 1660.2 75.4 1662.7 75.4 1665.2 75.4 1667.7 75.4 1670.2 75.4 1672.7 75.4 1675.2 75.4 1677.7 75.4 1680.2 75.4 1682.7 75.4 1685.2 75.4 1687.7 75.4 1690.2 75.4 1692.7 75.4 1695.2 75.4 1697.8 75.4 1700.3 75.4 1702.8 75.4 1705.3 75.4 1707.8 75.4 1710.3 75.4 1712.8 75.4 1715.3 75.4 1717.8 75.4 1720.3 75.4 1722.8 75.4 1725.3 75.4 1727.8 75.4 1730.3 75.4 1732.8 75.4 1735.3 75.4 1737.8 75.4 1740.3 75.4 1742.8 75.4 1745.3 75.4 1747.8 75.4 1750.3 75.4 1752.8 75.4 1755.3 75.4 1757.8 75.4 1760.3 75.4 1762.8 75.4 1765.4 75.4 1767.9 75.4 1770.4 75.4 1772.9 75.4 1775.4 75.4 1777.9 75.4 1780.4 75.4 1782.9 75.4 1785.4 75.4 1787.9 75.4 1790.4 75.4 1792.9 75.4 1795.4 75.4 1797.9 75.4 1800.4 75.4 1802.9 75.4 1805.4 75.4 1807.9 75.4 1810.4 75.4 1812.9 75.4 1815.4 75.4 1817.9 75.4 1820.4 75.4 1822.9 75.4 1825.4 75.4 1827.9 75.4 1830.4 75.4 1832.9 75.4 1835.5 75.4 1838 75.4 1840.5 75.4 1843 75.4 1845.5 75.4 1848 75.4 1850.5 75.4 1853 75.4 1855.5 75.4 1858 75.4 1860.5 75.4 1863 75.4 1865.5 75.4 1868 75.4" fill="none" stroke="#0000FF" stroke-width="6" stroke-linejoin="round" stroke-linecap="butt"/>
<polygon points="448.5,394.1 466.1,424.6 430.9,424.6" fill="#00F"/>
<polygon points="651.2,394.1 668.8,424.6 633.6,424.6" fill="#00F"/>
<polygon points="813.4,70 831,100.5 795.8,100.5" fill="#00F"/>
<polygon points="813.4,64.6 831,95 795.8,95" fill="#00F"/>
<polygon points="1056.6,56.1 1074.2,86.6 1039.1,86.6" fill="#00F"/>
<polygon points="1259.4,54.1 1276.9,84.5 1241.8,84.5" fill="#00F"/>
<polygon points="1462.1,54.1 1479.7,84.5 1444.5,84.5" fill="#00F"/>
<polygon points="1664.8,54.1 1682.4,84.5 1647.2,84.5" fill="#00F"/>
<polygon points="1867.5,54.1 1885.1,84.5 1849.9,84.5" fill="#00F"/>
<path d="M448.7 414.4L449.7 412.2 450.7 409.9 451.8 407.6 452.8 405.3 453.8 403 454.8 400.8 455.9 398.5 457 396.3 458.1 394 459.2 391.8 460.3 389.6 461.5 387.3 462.7 385.1 463.9 382.9 465.1 380.7 466.3 378.5 467.5 376.4 468.7 374.2 469.9 372 471.1 369.8 472.3 367.6 473.5 365.4 474.8 363.2 476 361.1 477.2 358.9 478.4 356.7 479.6 354.5 480.9 352.3 482.1 350.2 483.4 348 484.6 345.8 485.9 343.7 487.1 341.5 488.4 339.3 489.6 337.2 490.9 335 492.2 332.9 493.4 330.7 494.6 328.5 495.9 326.3 497.1 324.2 498.3 322 499.5 319.8 500.7 317.6 501.9 315.4 503.1 313.2 504.3 311 505.5 308.8 506.7 306.6 507.9 304.4 509 302.2 510.2 300 511.4 297.8 512.5 295.6 513.7 293.4 514.9 291.1 516.1 288.9 517.2 286.7 518.4 284.5 519.6 282.4 520.9 280.2 522.1 278 523.3 275.8 524.5 273.6 525.8 271.5 527 269.3 528.3 267.1 529.5 265 530.8 262.8 532 260.6 533.3 258.5 534.6 256.3 535.8 254.2 537.1 252 538.4 249.9 539.6 247.7 540.9 245.5 542.1 243.4 543.3 241.2 544.5 239 545.7 236.8 546.9 234.6 548.1 232.4 549.3 230.2 550.5 228 551.7 225.8 552.9 223.6 554 221.4 555.2 219.2 556.4 217 557.6 214.8 558.8 212.6 560 210.4 561.2 208.2 562.5 206 563.7 203.9 564.9 201.7 566.2 199.5 567.4 197.4 568.7 195.2 570 193.1 571.3 191 572.7 188.8 574 186.8 575.4 184.7 576.8 182.6 578.2 180.5 579.6 178.5 581 176.4 582.5 174.4 584 172.4 585.4 170.3 586.9 168.3 588.4 166.3 589.9 164.3 591.4 162.3 592.9 160.3 594.3 158.3 595.8 156.2 597.2 154.2 598.6 152.1 600.1 150.1 601.5 148.1 603 146 604.5 144 606 142.1 607.6 140.1 609.2 138.2 610.8 136.4 612.5 134.5 614.2 132.7 615.9 130.9 617.7 129.1 619.4 127.4 621.2 125.6 623 123.8 624.8 122.1 626.6 120.4 628.4 118.7 630.3 117.1 632.2 115.5 634.2 114 636.2 112.5 638.2 111.2 640.3 109.9 642.5 108.7 644.7 107.7 646.9 106.8 649.2 106 651.6 105.2 654 104.6 656.4 104.1 658.8 103.6 661.3 103.1 663.7 102.7 666.2 102.3 668.7 102 671.2 101.7 673.6 101.4 676.1 101.1 678.6 100.8 681.1 100.5 683.6 100.3 686.1 100 688.5 99.7 691 99.5 693.5 99.3 696 99 698.5 98.8 701 98.6 703.5 98.4 706 98.2 708.5 98 711 97.8 713.5 97.6 715.9 97.4 718.4 97.1 720.9 96.9 723.4 96.7 725.9 96.5 728.4 96.2 730.9 96 733.4 95.7 735.9 95.4 738.3 95.1 740.8 94.8 743.3 94.5 745.8 94.2 748.3 93.9 750.8 93.6 753.2 93.3 755.7 93 758.2 92.8 760.7 92.5 763.2 92.2 765.7 92 768.2 91.7 770.6 91.5 773.1 91.3 775.6 91 778.1 90.8 780.6 90.6 783.1 90.3 785.6 90.1 788.1 89.9 790.6 89.7 793.1 89.5 795.5 89.3 798 89.1 800.5 88.9 803 88.7 805.5 88.5 808 88.4 810.5 88.2 813 88 815.5 87.9 818 87.7 820.5 87.6 823 87.4 825.5 87.3 828 87.1 830.5 87 833 86.8 835.5 86.7 838 86.6 840.5 86.4 843 86.3 845.5 86.1 848 86 850.4 85.8 852.9 85.7 855.4 85.5 857.9 85.4 860.4 85.3 862.9 85.1 865.4 85 867.9 84.8 870.4 84.7 872.9 84.6 875.4 84.4 877.9 84.3 880.4 84.1 882.9 84 885.4 83.9 887.9 83.7 890.4 83.6 892.9 83.5 895.4 83.3 897.9 83.2 900.4 83.1 902.9 82.9 905.4 82.8 907.9 82.7 910.4 82.5 912.9 82.4 915.4 82.3 917.9 82.2 920.4 82.1 922.9 82 925.4 81.9 927.9 81.8 930.4 81.8 932.9 81.7 935.4 81.6 937.9 81.5 940.4 81.4 942.9 81.3 945.4 81.2 947.9 81.2 950.4 81.1 952.9 81 955.4 80.9 957.9 80.8 960.4 80.7 962.8 80.7 965.3 80.6 967.8 80.5 970.3 80.4 972.8 80.3 975.3 80.2 977.8 80.2 980.3 80.1 982.8 80 985.3 79.9 987.8 79.8 990.3 79.7 992.8 79.7 995.3 79.6 997.8 79.5 1000.3 79.4 1002.8 79.3 1005.3 79.2 1007.8 79.2 1010.3 79.1 1012.8 79 1015.3 78.9 1017.8 78.8 1020.3 78.7 1022.8 78.6 1025.3 78.6 1027.8 78.5 1030.3 78.4 1032.8 78.3 1035.3 78.2 1037.8 78.1 1040.3 78.1 1042.8 78 1045.3 77.9 1047.8 77.8 1050.3 77.7 1052.8 77.7 1055.3 77.6 1057.8 77.5 1060.3 77.5 1062.8 77.4 1065.3 77.4 1067.8 77.3 1070.3 77.3 1072.8 77.2 1075.3 77.2 1077.8 77.1 1080.3 77.1 1082.8 77 1085.3 77 1087.8 76.9 1090.3 76.9 1092.8 76.8 1095.3 76.8 1097.8 76.7 1100.3 76.7 1102.8 76.7 1105.3 76.6 1107.8 76.6 1110.3 76.5 1112.8 76.5 1115.3 76.4 1117.8 76.4 1120.3 76.3 1122.8 76.3 1125.3 76.2 1127.8 76.2 1130.3 76.1 1132.8 76.1 1135.3 76.1 1137.8 76 1140.3 76 1142.8 75.9 1145.3 75.9 1147.8 75.8 1150.3 75.8 1152.8 75.7 1155.3 75.7 1157.8 75.7 1160.3 75.7 1162.8 75.6 1165.3 75.6 1167.8 75.6 1170.3 75.6 1172.8 75.6 1175.3 75.6 1177.8 75.5 1180.3 75.5 1182.8 75.5 1185.3 75.5 1187.8 75.5 1190.3 75.5 1192.8 75.5 1195.3 75.5 1197.8 75.5 1200.3 75.5 1202.8 75.5 1205.3 75.5 1207.8 75.5 1210.3 75.4 1212.8 75.4 1215.3 75.4 1217.8 75.4 1220.3 75.4 1222.8 75.4 1225.3 75.4 1227.8 75.4 1230.3 75.4 1232.8 75.4 1235.3 75.4 1237.8 75.4 1240.3 75.4 1242.8 75.4 1245.3 75.3 1247.8 75.3 1250.3 75.3 1252.8 75.3 1255.4 75.3 1257.9 75.3 1260.4 75.3 1262.9 75.3 1265.4 75.3 1267.9 75.3 1270.4 75.3 1272.9 75.3 1275.4 75.3 1277.9 75.3 1280.4 75.3 1282.9 75.3 1285.4 75.3 1287.9 75.3 1290.4 75.3 1292.9 75.3 1295.4 75.3 1297.9 75.3 1300.4 75.3 1302.9 75.3 1305.4 75.3 1307.9 75.3 1310.4 75.3 1312.9 75.3 1315.4 75.3 1317.9 75.3 1320.4 75.3 1322.9 75.3 1325.4 75.3 1327.9 75.3 1330.4 75.3 1332.9 75.3 1335.4 75.3 1337.9 75.3 1340.4 75.3 1342.9 75.3 1345.4 75.3 1347.9 75.3 1350.4 75.3 1352.9 75.3 1355.4 75.3 1357.9 75.3 1360.4 75.3 1362.9 75.3 1365.4 75.3 1367.9 75.3 1370.4 75.3 1372.9 75.3 1375.4 75.3 1377.9 75.3 1380.4 75.3 1382.9 75.3 1385.4 75.3 1387.9 75.3 1390.4 75.3 1392.9 75.3 1395.4 75.3 1397.9 75.3 1400.4 75.3 1402.9 75.3 1405.4 75.3 1407.9 75.3 1410.4 75.3 1412.9 75.3 1415.4 75.3 1417.9 75.3 1420.4 75.3 1422.9 75.3 1425.4 75.3 1427.9 75.3 1430.4 75.3 1432.9 75.3 1435.4 75.3 1437.9 75.3 1440.4 75.3 1442.9 75.3 1445.4 75.3 1447.9 75.3 1450.4 75.3 1452.9 75.3 1455.4 75.3 1457.9 75.3 1460.4 75.3 1462.9 75.3 1465.4 75.3 1467.9 75.3 1470.4 75.3 1472.9 75.3 1475.4 75.3 1477.9 75.3 1480.4 75.3 1482.9 75.3 1485.4 75.3 1487.9 75.3 1490.4 75.3 1492.9 75.3 1495.4 75.3 1497.9 75.3 1500.4 75.3 1502.9 75.3 1505.4 75.3 1507.9 75.3 1510.4 75.3 1512.9 75.3 1515.4 75.3 1517.9 75.3 1520.4 75.3 1522.9 75.3 1525.4 75.3 1527.9 75.3 1530.4 75.3 1532.9 75.3 1535.4 75.3 1537.9 75.3 1540.4 75.3 1542.9 75.3 1545.4 75.3 1547.9 75.3 1550.4 75.3 1552.9 75.3 1555.4 75.3 1557.9 75.3 1560.4 75.3 1562.9 75.3 1565.4 75.4 1567.9 75.4 1570.4 75.4 1572.9 75.4 1575.4 75.4 1577.9 75.4 1580.4 75.4 1582.9 75.4 1585.4 75.4 1587.9 75.4 1590.4 75.4 1592.9 75.4 1595.4 75.4 1597.9 75.4 1600.4 75.4 1602.9 75.4 1605.4 75.4 1607.9 75.4 1610.4 75.4 1612.9 75.4 1615.4 75.4 1617.9 75.4 1620.4 75.4 1622.9 75.4 1625.4 75.4 1627.9 75.4 1630.4 75.4 1632.9 75.4 1635.4 75.4 1637.9 75.4 1640.4 75.4 1642.9 75.4 1645.4 75.4 1647.9 75.4 1650.4 75.4 1652.9 75.4 1655.4 75.4 1657.9 75.4 1660.4 75.4 1662.9 75.4 1665.5 75.4 1668 75.4 1670.5 75.4 1673 75.4 1675.5 75.4 1678 75.4 1680.5 75.4 1683 75.4 1685.5 75.4 1688 75.4 1690.5 75.4 1693 75.4 1695.5 75.4 1698 75.4 1700.5 75.4 1703 75.4 1705.5 75.4 1708 75.4 1710.5 75.4 1713 75.4 1715.5 75.4 1718 75.4 1720.5 75.4 1723 75.4 1725.5 75.4 1728 75.4 1730.5 75.4 1733 75.4 1735.5 75.4 1738 75.4 1740.5 75.4 1743 75.4 1745.5 75.4 1748 75.4 1750.5 75.4 1753 75.4 1755.5 75.4 1758 75.4 1760.5 75.4 1763 75.4 1765.5 75.4 1768 75.4 1770.5 75.4 1773 75.4 1775.5 75.4 1778 75.4 1780.5 75.4 1783 75.4 1785.5 75.4 1788 75.4 1790.5 75.4 1793 75.4 1795.5 75.4 1798 75.4 1800.5 75.4 1803 75.4 1805.5 75.4 1808 75.4 1810.5 75.4 1813 75.4 1815.5 75.4 1818 75.4 1820.5 75.4 1823 75.4 1825.5 75.4 1828 75.4 1830.5 75.4 1833 75.4 1835.5 75.4 1838 75.4 1840.5 75.4 1843 75.4 1845.5 75.4 1848 75.4 1850.5 75.4 1853 75.4 1855.5 75.4 1858 75.4 1860.5 75.4 1863 75.4 1865.5 75.4 1868 75.4" fill="none" stroke="#008080" stroke-width="6" stroke-linejoin="round" stroke-linecap="butt"/>
<polygon points="448.5,434.8 466.1,404.3 430.9,404.3" fill="#008080"/>
<polygon points="610.7,138.1 628.3,107.7 593.1,107.7" fill="#008080"/>
<polygon points="651.2,119.8 668.8,89.3 633.6,89.3" fill="#008080"/>
<polygon points="853.9,102.1 871.5,71.7 836.4,71.7" fill="#008080"/>
<polygon points="1056.6,97 1074.2,66.6 1039.1,66.6" fill="#008080"/>
<polygon points="1259.4,95.3 1276.9,64.9 1241.8,64.9" fill="#008080"/>
<polygon points="1462.1,95.3 1479.7,64.9 1444.5,64.9" fill="#008080"/>
<polygon points="1664.8,95.3 1682.4,64.9 1647.2,64.9" fill="#008080"/>
<polygon points="1867.5,95.3 1885.1,64.9 1849.9,64.9" fill="#008080"/>
<path d="M246 414.4L246.8 412.1 247.5 409.7 248.3 407.3 249.1 404.9 249.9 402.6 250.8 400.3 251.8 397.9 252.7 395.6 253.7 393.3 254.7 391.1 255.8 388.8 256.8 386.5 257.9 384.3 259 382 260.2 379.8 261.3 377.6 262.5 375.4 263.7 373.2 264.9 371 266.1 368.8 267.3 366.6 268.5 364.4 269.7 362.3 271 360.1 272.2 357.9 273.4 355.7 274.6 353.5 275.8 351.3 277 349.1 278.3 347 279.5 344.8 280.7 342.6 281.9 340.4 283.2 338.2 284.4 336.1 285.7 333.9 286.9 331.7 288.2 329.6 289.4 327.4 290.7 325.3 292 323.1 293.3 321 294.6 318.8 295.9 316.7 297.1 314.5 298.5 312.4 299.8 310.3 301.1 308.1 302.4 306 303.7 303.9 305 301.7 306.3 299.6 307.6 297.5 308.8 295.3 310.1 293.1 311.3 291 312.6 288.8 313.8 286.6 315 284.5 316.3 282.3 317.5 280.1 318.7 277.9 320 275.7 321.2 273.6 322.5 271.4 323.7 269.3 325 267.1 326.3 264.9 327.6 262.8 328.8 260.6 330.1 258.5 331.4 256.4 332.7 254.2 334 252.1 335.3 249.9 336.6 247.8 337.8 245.6 339.1 243.5 340.4 241.3 341.7 239.2 343 237 344.2 234.9 345.5 232.7 346.8 230.6 348 228.4 349.3 226.2 350.5 224.1 351.7 221.9 352.9 219.7 354.1 217.5 355.3 215.3 356.5 213.1 357.7 210.9 358.9 208.7 360 206.5 361.2 204.3 362.4 202.1 363.6 199.9 364.8 197.7 366 195.5 367.2 193.3 368.4 191.1 369.6 188.9 370.8 186.7 372 184.5 373.3 182.4 374.5 180.2 375.8 178.1 377.1 175.9 378.5 173.8 379.8 171.7 381.2 169.7 382.6 167.6 384.1 165.5 385.5 163.5 386.9 161.5 388.4 159.4 389.8 157.4 391.3 155.3 392.8 153.3 394.2 151.3 395.7 149.3 397.2 147.3 398.7 145.3 400.2 143.3 401.7 141.3 403.3 139.4 404.9 137.5 406.6 135.6 408.2 133.7 410 131.9 411.7 130.2 413.5 128.5 415.4 126.8 417.3 125.2 419.2 123.7 421.2 122.3 423.3 120.9 425.4 119.6 427.5 118.4 429.7 117.2 432 116.2 434.2 115.2 436.5 114.3 438.9 113.4 441.2 112.7 443.6 111.9 446 111.3 448.4 110.7 450.9 110.1 453.3 109.6 455.8 109.2 458.2 108.8 460.7 108.5 463.2 108.2 465.7 108 468.1 107.8 470.6 107.7 473.1 107.5 475.6 107.4 478.1 107.3 480.6 107.2 483.1 107.1 485.6 106.9 488.1 106.8 490.6 106.6 493.1 106.5 495.6 106.3 498.1 106.2 500.6 106 503.1 105.8 505.6 105.7 508.1 105.5 510.6 105.3 513.1 105.1 515.6 105 518.1 104.8 520.6 104.6 523.1 104.4 525.6 104.3 528 104.1 530.5 103.9 533 103.7 535.5 103.6 538 103.4 540.5 103.2 543 103 545.5 102.9 548 102.7 550.5 102.5 553 102.4 555.5 102.2 558 102.1 560.5 101.9 563 101.8 565.5 101.6 568 101.5 570.5 101.3 573 101.2 575.5 101 578 100.9 580.5 100.7 583 100.6 585.5 100.4 588 100.3 590.5 100.1 593 100 595.4 99.8 597.9 99.7 600.4 99.5 602.9 99.4 605.4 99.2 607.9 99.1 610.4 98.9 612.9 98.8 615.4 98.6 617.9 98.5 620.4 98.3 622.9 98.2 625.4 98 627.9 97.9 630.4 97.7 632.9 97.6 635.4 97.4 637.9 97.3 640.4 97.1 642.9 97 645.4 96.8 647.9 96.7 650.4 96.5 652.9 96.4 655.4 96.2 657.9 96.1 660.4 95.9 662.9 95.8 665.4 95.6 667.9 95.5 670.4 95.3 672.9 95.2 675.3 95 677.8 94.9 680.3 94.7 682.8 94.6 685.3 94.4 687.8 94.3 690.3 94.2 692.8 94 695.3 93.9 697.8 93.7 700.3 93.6 702.8 93.4 705.3 93.3 707.8 93.2 710.3 93 712.8 92.9 715.3 92.7 717.8 92.6 720.3 92.4 722.8 92.3 725.3 92.1 727.8 91.9 730.3 91.8 732.8 91.6 735.3 91.4 737.8 91.2 740.3 91 742.7 90.7 745.2 90.5 747.7 90.3 750.2 90.1 752.7 89.8 755.2 89.6 757.7 89.4 760.2 89.2 762.7 89 765.2 88.8 767.7 88.5 770.2 88.3 772.6 88.2 775.1 88 777.6 87.8 780.1 87.6 782.6 87.5 785.1 87.3 787.6 87.1 790.1 87 792.6 86.8 795.1 86.7 797.6 86.5 800.1 86.4 802.6 86.2 805.1 86.1 807.6 85.9 810.1 85.7 812.6 85.6 815.1 85.5 817.6 85.3 820.1 85.2 822.6 85.1 825.1 84.9 827.6 84.8 830.1 84.7 832.6 84.6 835.1 84.5 837.6 84.4 840.1 84.3 842.6 84.2 845.1 84.1 847.6 84 850.1 83.9 852.6 83.8 855.1 83.7 857.6 83.6 860.1 83.6 862.6 83.5 865.1 83.4 867.6 83.3 870.1 83.2 872.6 83.1 875.1 83 877.6 82.8 880.1 82.7 882.6 82.6 885.1 82.5 887.6 82.4 890.1 82.3 892.6 82.2 895.1 82.1 897.6 82 900.1 81.9 902.6 81.8 905.1 81.7 907.6 81.6 910.1 81.5 912.6 81.4 915.1 81.3 917.6 81.2 920.1 81.2 922.6 81.1 925.1 81 927.6 81 930.1 80.9 932.6 80.9 935.1 80.8 937.6 80.8 940.1 80.7 942.6 80.7 945.1 80.6 947.6 80.6 950.1 80.5 952.6 80.5 955.1 80.4 957.6 80.4 960.1 80.3 962.6 80.3 965.1 80.2 967.6 80.2 970.1 80.1 972.6 80.1 975.1 80 977.6 79.9 980.1 79.9 982.6 79.8 985.1 79.7 987.6 79.7 990.1 79.6 992.6 79.5 995.1 79.4 997.6 79.4 1000.1 79.3 1002.6 79.2 1005.1 79.1 1007.6 79.1 1010.1 79 1012.6 78.9 1015.1 78.8 1017.6 78.8 1020.1 78.7 1022.6 78.6 1025.1 78.5 1027.6 78.4 1030.1 78.4 1032.6 78.3 1035.1 78.2 1037.6 78.1 1040.1 78.1 1042.6 78 1045.1 77.9 1047.6 77.8 1050.1 77.8 1052.6 77.7 1055.1 77.6 1057.6 77.6 1060.1 77.5 1062.6 77.4 1065.1 77.3 1067.6 77.3 1070.1 77.2 1072.6 77.1 1075.1 77 1077.6 77 1080.1 76.9 1082.6 76.8 1085.1 76.7 1087.6 76.7 1090.1 76.6 1092.6 76.5 1095.1 76.5 1097.6 76.4 1100.1 76.3 1102.6 76.3 1105.1 76.2 1107.6 76.1 1110.1 76.1 1112.6 76 1115.1 76 1117.6 75.9 1120.1 75.9 1122.6 75.8 1125.1 75.8 1127.6 75.7 1130.1 75.7 1132.6 75.7 1135.1 75.6 1137.6 75.6 1140.1 75.5 1142.6 75.5 1145.1 75.4 1147.6 75.4 1150.1 75.3 1152.6 75.3 1155.1 75.3 1157.6 75.3 1160.1 75.2 1162.6 75.2 1165.1 75.2 1167.6 75.2 1170.1 75.2 1172.6 75.2 1175.1 75.2 1177.6 75.2 1180.1 75.2 1182.6 75.2 1185.1 75.2 1187.6 75.2 1190.1 75.2 1192.6 75.2 1195.1 75.2 1197.6 75.2 1200.1 75.2 1202.6 75.2 1205.1 75.2 1207.6 75.2 1210.1 75.2 1212.6 75.2 1215.1 75.2 1217.6 75.2 1220.1 75.2 1222.6 75.2 1225.1 75.2 1227.6 75.2 1230.1 75.2 1232.6 75.2 1235.1 75.2 1237.6 75.2 1240.2 75.2 1242.7 75.2 1245.2 75.2 1247.7 75.2 1250.2 75.2 1252.7 75.2 1255.2 75.2 1257.7 75.2 1260.2 75.2 1262.7 75.2 1265.2 75.2 1267.7 75.2 1270.2 75.2 1272.7 75.2 1275.2 75.2 1277.7 75.2 1280.2 75.2 1282.7 75.2 1285.2 75.2 1287.7 75.2 1290.2 75.2 1292.7 75.2 1295.2 75.2 1297.7 75.2 1300.2 75.2 1302.7 75.2 1305.2 75.2 1307.7 75.2 1310.2 75.2 1312.7 75.2 1315.2 75.2 1317.7 75.2 1320.2 75.2 1322.7 75.2 1325.2 75.2 1327.7 75.2 1330.2 75.2 1332.7 75.2 1335.2 75.2 1337.7 75.2 1340.2 75.2 1342.7 75.2 1345.2 75.2 1347.7 75.2 1350.2 75.2 1352.7 75.2 1355.2 75.2 1357.7 75.2 1360.2 75.2 1362.7 75.3 1365.2 75.3 1367.7 75.3 1370.2 75.3 1372.7 75.3 1375.2 75.3 1377.7 75.3 1380.2 75.3 1382.7 75.3 1385.2 75.3 1387.7 75.3 1390.2 75.3 1392.7 75.3 1395.2 75.3 1397.7 75.3 1400.2 75.3 1402.7 75.3 1405.2 75.3 1407.7 75.3 1410.2 75.3 1412.7 75.3 1415.2 75.3 1417.7 75.3 1420.3 75.3 1422.8 75.3 1425.3 75.3 1427.8 75.3 1430.3 75.3 1432.8 75.3 1435.3 75.3 1437.8 75.3 1440.3 75.3 1442.8 75.3 1445.3 75.3 1447.8 75.3 1450.3 75.3 1452.8 75.3 1455.3 75.3 1457.8 75.3 1460.3 75.3 1462.8 75.3 1465.3 75.3 1467.8 75.3 1470.3 75.3 1472.8 75.3 1475.3 75.3 1477.8 75.3 1480.3 75.3 1482.8 75.3 1485.3 75.3 1487.8 75.3 1490.3 75.3 1492.8 75.3 1495.3 75.3 1497.8 75.3 1500.3 75.3 1502.8 75.3 1505.3 75.3 1507.8 75.3 1510.3 75.3 1512.8 75.3 1515.3 75.3 1517.8 75.3 1520.3 75.3 1522.8 75.3 1525.3 75.3 1527.8 75.3 1530.3 75.3 1532.8 75.3 1535.3 75.3 1537.8 75.3 1540.3 75.3 1542.8 75.3 1545.3 75.3 1547.8 75.3 1550.3 75.3 1552.8 75.3 1555.3 75.3 1557.8 75.3 1560.3 75.3 1562.8 75.3 1565.3 75.4 1567.8 75.4 1570.3 75.4 1572.8 75.4 1575.3 75.4 1577.8 75.4 1580.3 75.4 1582.8 75.4 1585.3 75.4 1587.8 75.4 1590.3 75.4 1592.8 75.4 1595.3 75.4 1597.8 75.4 1600.4 75.4 1602.9 75.4 1605.4 75.4 1607.9 75.4 1610.4 75.4 1612.9 75.4 1615.4 75.4 1617.9 75.4 1620.4 75.4 1622.9 75.4 1625.4 75.4 1627.9 75.4 1630.4 75.4 1632.9 75.4 1635.4 75.4 1637.9 75.4 1640.4 75.4 1642.9 75.4 1645.4 75.4 1647.9 75.4 1650.4 75.4 1652.9 75.4 1655.4 75.4 1657.9 75.4 1660.4 75.4 1662.9 75.4 1665.4 75.4 1667.9 75.4 1670.4 75.4 1672.9 75.4 1675.4 75.4 1677.9 75.4 1680.4 75.4 1682.9 75.4 1685.4 75.4 1687.9 75.4 1690.4 75.4 1692.9 75.4 1695.4 75.4 1697.9 75.4 1700.4 75.4 1702.9 75.4 1705.4 75.4 1707.9 75.4 1710.4 75.4 1712.9 75.4 1715.4 75.4 1717.9 75.4 1720.4 75.4 1722.9 75.4 1725.4 75.4 1727.9 75.4 1730.4 75.4 1732.9 75.4 1735.4 75.4 1737.9 75.4 1740.4 75.4 1742.9 75.4 1745.4 75.4 1747.9 75.4 1750.4 75.4 1752.9 75.4 1755.4 75.4 1757.9 75.4 1760.4 75.4 1762.9 75.4 1765.4 75.4 1767.9 75.4 1770.4 75.4 1772.9 75.4 1775.4 75.4 1777.9 75.4 1780.5 75.4 1783 75.4 1785.5 75.4 1788 75.4 1790.5 75.4 1793 75.4 1795.5 75.4 1798 75.4 1800.5 75.4 1803 75.4 1805.5 75.4 1808 75.4 1810.5 75.4 1813 75.4 1815.5 75.4 1818 75.4 1820.5 75.4 1823 75.4 1825.5 75.4 1828 75.4 1830.5 75.4 1833 75.4 1835.5 75.4 1838 75.4 1840.5 75.4 1843 75.4 1845.5 75.4 1848 75.4 1850.5 75.4 1853 75.4 1855.5 75.4 1858 75.4 1860.5 75.4 1863 75.4 1865.5 75.4 1868 75.4" fill="none" stroke="#FF00FF" stroke-width="6" stroke-linejoin="round" stroke-linecap="butt"/>
<polygon points="245.8,397.6 250.6,407.8 261.9,409.2 253.6,417 255.7,428.1 245.8,422.6 235.9,428.1 238,417 229.7,409.2 241,407.8" fill="#F0F"/>
<polygon points="408,98.2 412.8,108.5 424,109.9 415.8,117.6 417.9,128.8 408,123.3 398,128.8 400.2,117.6 391.9,109.9 403.2,108.5" fill="#F0F"/>
<polygon points="448.5,92.1 453.3,102.4 464.6,103.8 456.3,111.5 458.4,122.7 448.5,117.2 438.6,122.7 440.7,111.5 432.4,103.8 443.7,102.4" fill="#F0F"/>
<polygon points="651.2,84.6 656,94.9 667.3,96.3 659,104.1 661.2,115.2 651.2,109.7 641.3,115.2 643.4,104.1 635.2,96.3 646.4,94.9" fill="#F0F"/>
<polygon points="853.9,66.3 858.8,76.6 870,78 861.7,85.7 863.9,96.9 853.9,91.4 844,96.9 846.1,85.7 837.9,78 849.1,76.6" fill="#F0F"/>
<polygon points="1056.6,59.8 1061.5,70.1 1072.7,71.5 1064.4,79.3 1066.6,90.4 1056.6,84.9 1046.7,90.4 1048.9,79.3 1040.6,71.5 1051.8,70.1" fill="#F0F"/>
<polygon points="1259.4,58.1 1264.2,68.4 1275.4,69.8 1267.2,77.6 1269.3,88.7 1259.4,83.2 1249.4,88.7 1251.6,77.6 1243.3,69.8 1254.5,68.4" fill="#F0F"/>
<polygon points="1462.1,58.1 1466.9,68.4 1478.1,69.8 1469.9,77.6 1472,88.7 1462.1,83.2 1452.1,88.7 1454.3,77.6 1446,69.8 1457.3,68.4" fill="#F0F"/>
<polygon points="1664.8,58.1 1669.6,68.4 1680.9,69.8 1672.6,77.6 1674.7,88.7 1664.8,83.2 1654.9,88.7 1657,77.6 1648.7,69.8 1660,68.4" fill="#F0F"/>
<polygon points="1867.5,58.1 1872.3,68.4 1883.6,69.8 1875.3,77.6 1877.4,88.7 1867.5,83.2 1857.6,88.7 1859.7,77.6 1851.4,69.8 1862.7,68.4" fill="#F0F"/>
<path d="M246 414.4L247.6 412.5 249.2 410.6 250.8 408.7 252.4 406.8 254 404.9 255.7 403 257.3 401.1 258.9 399.2 260.5 397.3 262.1 395.3 263.7 393.4 265.4 391.5 267 389.6 268.6 387.7 270.1 385.8 271.7 383.8 273.3 381.9 274.8 379.9 276.4 377.9 277.9 375.9 279.4 373.9 280.9 371.9 282.4 369.9 283.8 367.9 285.3 365.9 286.7 363.8 288.1 361.7 289.5 359.7 290.9 357.6 292.3 355.6 293.7 353.5 295.2 351.4 296.6 349.4 298 347.3 299.4 345.3 300.9 343.2 302.3 341.2 303.7 339.1 305.1 337.1 306.6 335 308 332.9 309.3 330.8 310.7 328.8 312.1 326.7 313.4 324.6 314.8 322.5 316.2 320.4 317.6 318.3 319 316.2 320.4 314.2 321.8 312.2 323.3 310.2 324.8 308.2 326.4 306.2 327.9 304.3 329.5 302.3 331 300.4 332.6 298.4 334.2 296.4 335.7 294.5 337.3 292.5 338.8 290.6 340.3 288.6 341.9 286.6 343.4 284.6 344.9 282.6 346.5 280.7 348 278.7 349.5 276.7 351 274.7 352.6 272.8 354.1 270.8 355.7 268.9 357.3 266.9 358.9 265 360.5 263.1 362.1 261.2 363.8 259.3 365.4 257.5 367.1 255.6 368.8 253.8 370.5 251.9 372.2 250.1 373.8 248.2 375.5 246.4 377.1 244.5 378.8 242.6 380.4 240.7 381.9 238.7 383.5 236.8 385.1 234.8 386.7 232.9 388.2 231 389.8 229 391.4 227.1 393 225.2 394.7 223.3 396.3 221.4 397.9 219.5 399.6 217.6 401.2 215.8 402.9 213.9 404.6 212.1 406.3 210.2 408 208.4 409.7 206.6 411.4 204.8 413.1 203 414.9 201.2 416.7 199.4 418.4 197.6 420.2 195.9 422 194.1 423.8 192.4 425.6 190.7 427.4 189 429.2 187.3 431.1 185.6 433 183.9 434.8 182.3 436.7 180.6 438.6 179 440.5 177.4 442.4 175.8 444.4 174.2 446.3 172.6 448.3 171.1 450.3 169.5 452.2 168 454.3 166.6 456.3 165.1 458.3 163.6 460.4 162.2 462.4 160.8 464.5 159.5 466.6 158.2 468.8 156.9 470.9 155.6 473.1 154.4 475.3 153.2 477.5 152 479.7 150.8 481.9 149.7 484.1 148.5 486.4 147.4 488.6 146.3 490.9 145.3 493.2 144.2 495.4 143.2 497.7 142.2 500 141.2 502.3 140.3 504.6 139.3 506.9 138.3 509.3 137.4 511.6 136.5 513.9 135.7 516.3 134.9 518.6 134.1 521 133.4 523.4 132.8 525.9 132.2 528.3 131.7 530.7 131.2 533.2 130.8 535.7 130.4 538.1 130 540.6 129.6 543.1 129.3 545.5 129 548 128.7 550.5 128.4 553 128.2 555.5 128 558 127.8 560.5 127.6 563 127.5 565.5 127.3 568 127.1 570.5 127 572.9 126.9 575.4 126.7 577.9 126.6 580.4 126.5 582.9 126.4 585.4 126.3 587.9 126.1 590.4 126 592.9 125.9 595.4 125.8 597.9 125.8 600.4 125.7 602.9 125.6 605.4 125.6 607.9 125.5 610.4 125.4 612.9 125.4 615.4 125.4 617.9 125.3 620.4 125.3 622.9 125.2 625.4 125.2 627.9 125.1 630.4 125 632.9 124.9 635.4 124.8 637.9 124.7 640.4 124.5 642.9 124.3 645.4 124 647.8 123.7 650.3 123.4 652.8 123 655.2 122.6 657.7 122.1 660.1 121.7 662.6 121.2 665 120.7 667.5 120.3 669.9 119.8 672.4 119.4 674.9 119 677.3 118.7 679.8 118.3 682.3 118 684.8 117.7 687.2 117.3 689.7 117 692.2 116.7 694.7 116.4 697.2 116 699.6 115.7 702.1 115.4 704.6 115.1 707.1 114.8 709.6 114.5 712 114.2 714.5 113.8 717 113.5 719.5 113.2 722 112.9 724.5 112.6 726.9 112.4 729.4 112.1 731.9 111.8 734.4 111.6 736.9 111.3 739.4 111.1 741.9 110.8 744.4 110.6 746.8 110.4 749.3 110.2 751.8 109.9 754.3 109.7 756.8 109.5 759.3 109.3 761.8 109 764.3 108.8 766.8 108.6 769.3 108.4 771.7 108.2 774.2 108 776.7 107.8 779.2 107.6 781.7 107.4 784.2 107.2 786.7 107 789.2 106.8 791.7 106.6 794.2 106.3 796.7 106.1 799.1 105.8 801.6 105.6 804.1 105.3 806.6 105 809.1 104.7 811.6 104.4 814 104.1 816.5 103.8 819 103.5 821.5 103.3 824 103 826.5 102.7 829 102.5 831.4 102.2 833.9 102 836.4 101.7 838.9 101.5 841.4 101.2 843.9 101 846.4 100.8 848.9 100.5 851.4 100.3 853.8 100 856.3 99.8 858.8 99.5 861.3 99.3 863.8 99 866.3 98.7 868.8 98.5 871.2 98.2 873.7 97.9 876.2 97.7 878.7 97.4 881.2 97.2 883.7 96.9 886.2 96.7 888.7 96.4 891.2 96.2 893.6 96 896.1 95.7 898.6 95.5 901.1 95.3 903.6 95.1 906.1 94.8 908.6 94.6 911.1 94.4 913.6 94.1 916 93.9 918.5 93.7 921 93.4 923.5 93.1 926 92.9 928.5 92.6 931 92.3 933.5 92.1 935.9 91.8 938.4 91.5 940.9 91.3 943.4 91 945.9 90.7 948.4 90.5 950.9 90.2 953.3 89.9 955.8 89.7 958.3 89.4 960.8 89.1 963.3 88.9 965.8 88.7 968.3 88.4 970.8 88.2 973.2 88 975.7 87.7 978.2 87.5 980.7 87.3 983.2 87.1 985.7 86.9 988.2 86.6 990.7 86.4 993.2 86.2 995.7 86 998.2 85.8 1000.6 85.6 1003.1 85.3 1005.6 85.1 1008.1 84.9 1010.6 84.7 1013.1 84.4 1015.6 84.2 1018.1 84 1020.6 83.7 1023.1 83.5 1025.5 83.3 1028 83 1030.5 82.8 1033 82.6 1035.5 82.4 1038 82.2 1040.5 82 1043 81.9 1045.5 81.8 1048 81.6 1050.5 81.5 1053 81.4 1055.5 81.3 1058 81.2 1060.5 81.2 1063 81.1 1065.5 81 1068 80.9 1070.5 80.8 1073 80.7 1075.5 80.6 1078 80.6 1080.5 80.5 1083 80.4 1085.5 80.3 1088 80.2 1090.5 80.2 1093 80.1 1095.5 80 1098 79.9 1100.5 79.8 1103 79.8 1105.4 79.7 1107.9 79.6 1110.4 79.5 1112.9 79.4 1115.4 79.4 1117.9 79.3 1120.4 79.2 1122.9 79.1 1125.4 79 1127.9 79 1130.4 78.9 1132.9 78.8 1135.4 78.7 1137.9 78.7 1140.4 78.6 1142.9 78.5 1145.4 78.4 1147.9 78.4 1150.4 78.3 1152.9 78.2 1155.4 78.2 1157.9 78.1 1160.4 78.1 1162.9 78 1165.4 78 1167.9 78 1170.4 77.9 1172.9 77.9 1175.4 77.9 1177.9 77.8 1180.4 77.8 1182.9 77.8 1185.4 77.7 1187.9 77.7 1190.4 77.7 1192.9 77.6 1195.4 77.6 1197.9 77.6 1200.4 77.5 1202.9 77.5 1205.4 77.5 1207.9 77.4 1210.4 77.4 1212.9 77.4 1215.4 77.3 1217.9 77.2 1220.4 77.2 1222.9 77.1 1225.4 77 1227.9 76.9 1230.4 76.8 1232.9 76.7 1235.4 76.6 1237.9 76.5 1240.4 76.4 1242.9 76.3 1245.4 76.2 1247.9 76.1 1250.4 76 1252.9 75.9 1255.4 75.9 1257.9 75.8 1260.4 75.7 1262.9 75.7 1265.4 75.7 1267.9 75.6 1270.4 75.6 1272.9 75.6 1275.4 75.6 1277.9 75.6 1280.4 75.6 1282.9 75.6 1285.4 75.6 1287.9 75.6 1290.4 75.6 1292.9 75.6 1295.4 75.6 1297.9 75.6 1300.4 75.6 1302.9 75.6 1305.4 75.6 1307.9 75.6 1310.4 75.6 1312.9 75.6 1315.4 75.6 1317.9 75.6 1320.4 75.6 1322.9 75.6 1325.4 75.6 1327.9 75.6 1330.4 75.6 1332.9 75.6 1335.4 75.6 1337.9 75.6 1340.4 75.6 1342.9 75.6 1345.4 75.6 1347.9 75.6 1350.4 75.6 1352.9 75.6 1355.4 75.6 1357.9 75.6 1360.4 75.6 1362.9 75.7 1365.4 75.7 1367.9 75.7 1370.4 75.7 1372.9 75.7 1375.4 75.7 1377.9 75.7 1380.4 75.7 1382.9 75.7 1385.4 75.7 1387.9 75.7 1390.4 75.7 1392.9 75.7 1395.4 75.7 1397.9 75.7 1400.4 75.7 1402.9 75.7 1405.4 75.7 1407.9 75.7 1410.4 75.7 1412.9 75.7 1415.4 75.7 1417.9 75.7 1420.4 75.7 1422.9 75.7 1425.4 75.7 1427.9 75.7 1430.4 75.7 1432.9 75.7 1435.4 75.7 1437.9 75.7 1440.4 75.7 1442.9 75.7 1445.4 75.7 1447.9 75.7 1450.4 75.7 1452.9 75.7 1455.4 75.7 1457.9 75.7 1460.4 75.7 1462.9 75.7 1465.4 75.7 1467.9 75.7 1470.4 75.7 1472.9 75.7 1475.4 75.7 1477.9 75.7 1480.4 75.7 1482.9 75.7 1485.4 75.7 1487.9 75.7 1490.4 75.7 1492.9 75.7 1495.4 75.7 1497.9 75.7 1500.4 75.7 1502.9 75.7 1505.4 75.7 1507.9 75.7 1510.4 75.7 1512.9 75.8 1515.4 75.8 1517.9 75.8 1520.4 75.8 1522.9 75.8 1525.4 75.8 1527.9 75.8 1530.4 75.8 1532.9 75.8 1535.4 75.8 1537.9 75.8 1540.4 75.8 1543 75.8 1545.5 75.8 1548 75.8 1550.5 75.8 1553 75.8 1555.5 75.8 1558 75.8 1560.5 75.8 1563 75.8 1565.5 75.8 1568 75.8 1570.5 75.8 1573 75.8 1575.5 75.8 1578 75.8 1580.5 75.8 1583 75.8 1585.5 75.8 1588 75.8 1590.5 75.8 1593 75.8 1595.5 75.8 1598 75.8 1600.5 75.8 1603 75.8 1605.5 75.8 1608 75.8 1610.5 75.8 1613 75.8 1615.5 75.9 1618 75.9 1620.5 75.9 1623 75.9 1625.5 75.9 1628 75.9 1630.5 75.9 1633 75.9 1635.5 75.9 1638 75.9 1640.5 75.9 1643 75.9 1645.5 75.9 1648 75.9 1650.5 75.9 1653 75.9 1655.5 75.9 1658 75.9 1660.5 75.9 1663 75.9 1665.5 75.9 1668 75.9 1670.5 75.9 1673 75.9 1675.5 75.9 1678 75.9 1680.5 75.9 1683 75.9 1685.5 75.9 1688 75.9 1690.5 75.9 1693 75.9 1695.5 75.9 1698 75.9 1700.5 75.9 1703 75.9 1705.5 75.9 1708 75.9 1710.5 75.9 1713 75.9 1715.5 75.9 1718 75.9 1720.5 75.9 1723 75.9 1725.5 75.9 1728 75.9 1730.5 75.9 1733 75.9 1735.5 75.9 1738 75.9 1740.5 75.9 1743 75.9 1745.5 75.9 1748 75.9 1750.5 75.9 1753 75.9 1755.5 75.9 1758 75.9 1760.5 75.9 1763 75.9 1765.5 75.9 1768 75.9 1770.5 75.9 1773 75.9 1775.5 75.9 1778 75.9 1780.5 75.9 1783 75.9 1785.5 75.9 1788 75.9 1790.5 75.9 1793 75.9 1795.5 75.9 1798 75.9 1800.5 75.9 1803 75.9 1805.5 75.9 1808 75.9 1810.5 75.9 1813 75.9 1815.5 75.9 1818 75.9 1820.5 75.9 1823 75.9 1825.5 75.9 1828 75.9 1830.5 75.9 1833 75.9 1835.5 75.9 1838 75.9 1840.5 75.9 1843 75.9 1845.5 75.9 1848 75.9 1850.5 75.9 1853 75.9 1855.5 75.9 1858 75.9 1860.5 75.9 1863 75.9 1865.5 75.9 1868 75.9" fill="none" stroke="#800000" stroke-width="6" stroke-linejoin="round" stroke-linecap="butt"/>
<polygon points="245.8,398.4 261.8,414.4 245.8,430.4 229.8,414.4" fill="#fff" stroke="#800000" stroke-width="1.0"/>
<polygon points="448.5,123.5 464.5,139.5 448.5,155.5 432.5,139.5" fill="#fff" stroke="#800000" stroke-width="1.0"/>
<polygon points="570.1,111 586.1,127 570.1,143 554.1,127" fill="#fff" stroke="#800000" stroke-width="1.0"/>
<polygon points="651.2,107.8 667.2,123.8 651.2,139.8 635.2,123.8" fill="#fff" stroke="#800000" stroke-width="1.0"/>
<polygon points="853.9,84.2 869.9,100.2 853.9,116.2 837.9,100.2" fill="#fff" stroke="#800000" stroke-width="1.0"/>
<polygon points="1056.6,63.8 1072.6,79.8 1056.6,95.8 1040.6,79.8" fill="#fff" stroke="#800000" stroke-width="1.0"/>
<polygon points="1259.4,59 1275.4,75 1259.4,91 1243.4,75" fill="#fff" stroke="#800000" stroke-width="1.0"/>
<polygon points="1462.1,59.7 1478.1,75.7 1462.1,91.7 1446.1,75.7" fill="#fff" stroke="#800000" stroke-width="1.0"/>
<polygon points="1664.8,59.7 1680.8,75.7 1664.8,91.7 1648.8,75.7" fill="#fff" stroke="#800000" stroke-width="1.0"/>
<polygon points="1867.5,59.7 1883.5,75.7 1867.5,91.7 1851.5,75.7" fill="#fff" stroke="#800000" stroke-width="1.0"/>
</g>
<g clip-path="url(#cb)">
<path d="M246 825.6L248.5 825.6 251 825.6 253.5 825.6 256 825.6 258.5 825.6 261 825.6 263.5 825.6 266 825.6 268.5 825.6 271 825.6 273.5 825.6 276 825.6 278.5 825.6 281 825.6 283.5 825.6 286 825.6 288.5 825.6 291 825.6 293.5 825.6 296 825.6 298.5 825.6 301 825.6 303.5 825.6 306 825.6 308.5 825.6 311 825.6 313.5 825.6 316 825.6 318.5 825.6 321 825.6 323.5 825.6 326 825.6 328.5 825.6 331 825.6 333.5 825.6 336 825.6 338.5 825.6 341 825.6 343.5 825.6 346 825.6 348.5 825.6 351 825.6 353.5 825.6 356 825.6 358.5 825.6 361 825.6 363.5 825.6 366 825.6 368.5 825.6 371 825.6 373.5 825.6 376 825.6 378.5 825.6 381 825.6 383.5 825.6 386 825.6 388.5 825.6 391 825.6 393.5 825.6 396 825.6 398.5 825.6 401 825.6 403.6 825.6 406.1 825.6 408.6 825.6 411.1 825.6 413.6 825.6 416.1 825.6 418.6 825.6 421.1 825.6 423.6 825.6 426.1 825.6 428.6 825.6 431.1 825.6 433.6 825.6 436.1 825.6 438.6 825.5 441.1 825.5 443.6 825.5 446.1 825.5 448.6 825.5 451.1 825.5 453.6 825.4 456.1 825.4 458.6 825.4 461.1 825.4 463.6 825.3 466.1 825.3 468.6 825.3 471.1 825.3 473.6 825.3 476.1 825.2 478.6 825.2 481.1 825.2 483.6 825.2 486.1 825.1 488.6 825.1 491.1 825 493.6 825 496.1 824.9 498.6 824.9 501.1 824.8 503.6 824.7 506.1 824.6 508.6 824.4 511.1 824.3 513.6 824.1 516.1 824 518.5 823.8 521 823.7 523.5 823.5 526 823.3 528.5 823.2 531 823 533.5 822.8 536 822.5 538.5 822.3 541 822 543.4 821.6 545.9 821.3 548.4 820.9 550.8 820.5 553.3 820 555.7 819.6 558.2 819.1 560.6 818.6 563.1 818.1 565.5 817.5 567.9 816.9 570.4 816.3 572.8 815.6 575.2 815 577.6 814.3 580 813.6 582.4 812.9 584.8 812.1 587.1 811.3 589.5 810.5 591.8 809.7 594.2 808.8 596.5 807.9 598.8 807 601.1 806 603.4 805 605.7 804 608 803 610.2 801.9 612.5 800.8 614.7 799.7 616.9 798.6 619.1 797.4 621.3 796.2 623.5 795 625.7 793.7 627.8 792.5 630 791.2 632.1 789.9 634.3 788.6 636.4 787.3 638.5 786 640.7 784.7 642.8 783.3 644.9 782 647 780.6 649 779.3 651.1 777.9 653.2 776.5 655.3 775.1 657.3 773.7 659.4 772.3 661.5 770.8 663.5 769.4 665.6 768 667.6 766.5 669.6 765 671.6 763.5 673.6 762 675.5 760.4 677.4 758.9 679.4 757.3 681.3 755.6 683.2 754 685 752.4 686.9 750.7 688.7 749 690.6 747.3 692.4 745.6 694.2 743.9 696 742.1 697.8 740.4 699.6 738.6 701.4 736.9 703.1 735.1 704.9 733.3 706.7 731.6 708.4 729.8 710.2 728 712 726.3 713.7 724.5 715.5 722.7 717.3 721 719.1 719.2 720.8 717.4 722.6 715.7 724.4 713.9 726.2 712.2 728 710.4 729.8 708.7 731.6 707 733.4 705.3 735.2 703.5 737 701.8 738.9 700.1 740.7 698.4 742.5 696.7 744.4 695 746.2 693.4 748.1 691.7 750 690 751.8 688.4 753.7 686.7 755.6 685.1 757.4 683.4 759.3 681.7 761.1 680 763 678.3 764.8 676.6 766.6 674.9 768.4 673.1 770.1 671.3 771.8 669.6 773.6 667.7 775.3 665.9 777 664.1 778.6 662.2 780.3 660.4 782 658.5 783.6 656.6 785.2 654.7 786.8 652.8 788.4 650.9 790 648.9 791.6 647 793.2 645.1 794.8 643.2 796.4 641.3 798.1 639.4 799.8 637.6 801.5 635.8 803.2 633.9 804.9 632.1 806.7 630.4 808.4 628.6 810.2 626.8 812 625 813.7 623.3 815.5 621.5 817.3 619.7 819 618 820.8 616.2 822.6 614.4 824.3 612.7 826.1 610.9 827.9 609.1 829.6 607.4 831.4 605.6 833.2 603.8 835 602 836.7 600.3 838.5 598.5 840.3 596.8 842.1 595 843.9 593.3 845.7 591.5 847.5 589.8 849.3 588.1 851.1 586.4 853 584.7 854.9 583.1 856.7 581.4 858.6 579.8 860.5 578.2 862.4 576.6 864.4 575 866.3 573.4 868.2 571.8 870.2 570.2 872.1 568.7 874.1 567.1 876 565.5 878 564 879.9 562.4 881.9 560.8 883.8 559.3 885.8 557.7 887.8 556.2 889.7 554.6 891.7 553.1 893.7 551.6 895.7 550.1 897.7 548.7 899.8 547.2 901.9 545.8 903.9 544.5 906 543.1 908.1 541.8 910.3 540.5 912.4 539.2 914.6 538 916.8 536.8 919 535.7 921.3 534.6 923.5 533.5 925.8 532.4 928 531.4 930.3 530.4 932.6 529.4 934.9 528.4 937.2 527.5 939.6 526.6 941.9 525.7 944.3 524.9 946.6 524.1 949 523.3 951.4 522.6 953.8 521.9 956.2 521.2 958.6 520.5 961 519.9 963.4 519.2 965.8 518.6 968.3 518.1 970.7 517.5 973.2 517 975.6 516.5 978.1 516 980.5 515.6 983 515.1 985.4 514.7 987.9 514.4 990.4 514 992.9 513.7 995.3 513.4 997.8 513.2 1000.3 513 1002.8 512.8 1005.3 512.6 1007.8 512.4 1010.3 512.2 1012.8 512.1 1015.3 511.9 1017.8 511.7 1020.3 511.6 1022.8 511.5 1025.3 511.3 1027.8 511.2 1030.3 511.1 1032.7 511 1035.2 510.9 1037.7 510.8 1040.2 510.7 1042.7 510.7 1045.2 510.6 1047.7 510.6 1050.2 510.6 1052.7 510.5 1055.2 510.5 1057.7 510.5 1060.2 510.5 1062.7 510.5 1065.2 510.5 1067.7 510.5 1070.2 510.4 1072.8 510.4 1075.3 510.4 1077.8 510.4 1080.3 510.4 1082.8 510.4 1085.3 510.4 1087.8 510.3 1090.3 510.3 1092.8 510.3 1095.3 510.3 1097.8 510.3 1100.3 510.3 1102.8 510.3 1105.3 510.3 1107.8 510.2 1110.3 510.2 1112.8 510.2 1115.3 510.2 1117.8 510.2 1120.3 510.2 1122.8 510.2 1125.3 510.2 1127.8 510.1 1130.3 510.1 1132.8 510.1 1135.3 510.1 1137.8 510.1 1140.3 510.1 1142.8 510.1 1145.3 510.1 1147.8 510 1150.3 510 1152.8 510 1155.3 510 1157.8 510 1160.3 510 1162.8 510 1165.3 510 1167.8 510 1170.3 510 1172.8 510 1175.3 510 1177.8 510 1180.3 510 1182.8 509.9 1185.3 509.9 1187.8 509.9 1190.3 509.9 1192.8 509.9 1195.3 509.9 1197.8 509.9 1200.3 509.9 1202.8 509.9 1205.3 509.9 1207.8 509.9 1210.3 509.9 1212.8 509.9 1215.3 509.9 1217.8 509.9 1220.3 509.9 1222.8 509.9 1225.3 509.9 1227.8 509.9 1230.3 509.9 1232.8 509.9 1235.3 509.8 1237.8 509.8 1240.3 509.8 1242.8 509.8 1245.3 509.8 1247.8 509.8 1250.3 509.8 1252.8 509.8 1255.3 509.8 1257.8 509.8 1260.3 509.8 1262.8 509.8 1265.3 509.8 1267.8 509.8 1270.3 509.8 1272.8 509.8 1275.3 509.8 1277.8 509.8 1280.3 509.8 1282.8 509.8 1285.3 509.8 1287.8 509.8 1290.3 509.8 1292.8 509.8 1295.3 509.8 1297.8 509.8 1300.3 509.8 1302.8 509.8 1305.3 509.8 1307.8 509.8 1310.3 509.8 1312.8 509.9 1315.3 509.9 1317.8 509.9 1320.3 509.9 1322.8 509.9 1325.3 509.9 1327.8 509.9 1330.3 509.9 1332.8 509.9 1335.3 509.9 1337.8 509.9 1340.3 509.9 1342.8 509.9 1345.3 509.9 1347.8 509.9 1350.3 509.9 1352.8 509.9 1355.3 509.9 1357.8 509.9 1360.3 509.9 1362.8 509.9 1365.3 509.9 1367.8 509.9 1370.3 509.9 1372.8 509.9 1375.3 509.9 1377.8 509.9 1380.3 509.9 1382.8 509.9 1385.3 509.9 1387.8 509.9 1390.4 509.9 1392.9 509.9 1395.4 509.9 1397.9 509.9 1400.4 509.9 1402.9 509.9 1405.4 509.9 1407.9 509.9 1410.4 509.9 1412.9 510 1415.4 510 1417.9 510 1420.4 510 1422.9 510 1425.4 510 1427.9 510 1430.4 510 1432.9 510 1435.4 510 1437.9 510 1440.4 510 1442.9 510 1445.4 510 1447.9 510 1450.4 510 1452.9 510 1455.4 510 1457.9 510 1460.4 510 1462.9 510 1465.4 510 1467.9 510 1470.4 510 1472.9 510 1475.4 510 1477.9 510 1480.4 510 1482.9 510.1 1485.4 510.1 1487.9 510.1 1490.4 510.1 1492.9 510.1 1495.4 510.1 1497.9 510.1 1500.4 510.1 1502.9 510.1 1505.4 510.1 1507.9 510.1 1510.4 510.1 1512.9 510.1 1515.4 510.1 1517.9 510.1 1520.4 510.1 1522.9 510.1 1525.4 510.2 1527.9 510.2 1530.4 510.2 1532.9 510.2 1535.4 510.2 1537.9 510.2 1540.4 510.2 1542.9 510.2 1545.4 510.2 1547.9 510.2 1550.4 510.2 1552.9 510.2 1555.4 510.2 1557.9 510.2 1560.4 510.2 1562.9 510.2 1565.4 510.3 1567.9 510.3 1570.4 510.3 1572.9 510.3 1575.4 510.3 1577.9 510.3 1580.4 510.3 1582.9 510.3 1585.4 510.3 1587.9 510.3 1590.4 510.3 1592.9 510.3 1595.4 510.3 1597.9 510.3 1600.4 510.3 1602.9 510.3 1605.4 510.4 1607.9 510.4 1610.4 510.4 1612.9 510.4 1615.4 510.4 1617.9 510.4 1620.4 510.4 1622.9 510.4 1625.4 510.4 1627.9 510.4 1630.4 510.4 1632.9 510.4 1635.4 510.4 1637.9 510.4 1640.4 510.4 1642.9 510.4 1645.4 510.5 1647.9 510.5 1650.4 510.5 1652.9 510.5 1655.4 510.5 1657.9 510.5 1660.4 510.5 1662.9 510.5 1665.4 510.5 1667.9 510.5 1670.4 510.5 1672.9 510.5 1675.4 510.6 1677.9 510.6 1680.4 510.6 1682.9 510.6 1685.4 510.6 1687.9 510.6 1690.4 510.6 1692.9 510.6 1695.4 510.6 1697.9 510.7 1700.4 510.7 1702.9 510.7 1705.5 510.7 1708 510.7 1710.5 510.7 1713 510.7 1715.5 510.7 1718 510.8 1720.5 510.8 1723 510.8 1725.5 510.8 1728 510.8 1730.5 510.8 1733 510.8 1735.5 510.8 1738 510.9 1740.5 510.9 1743 510.9 1745.5 510.9 1748 510.9 1750.5 510.9 1753 510.9 1755.5 510.9 1758 511 1760.5 511 1763 511 1765.5 511 1768 511 1770.5 511 1773 511 1775.5 511 1778 511.1 1780.5 511.1 1783 511.1 1785.5 511.1 1788 511.1 1790.5 511.1 1793 511.1 1795.5 511.1 1798 511.2 1800.5 511.2 1803 511.2 1805.5 511.2 1808 511.2 1810.5 511.2 1813 511.2 1815.5 511.2 1818 511.3 1820.5 511.3 1823 511.3 1825.5 511.3 1828 511.3 1830.5 511.3 1833 511.3 1835.5 511.3 1838 511.4 1840.5 511.4 1843 511.4 1845.5 511.4 1848 511.4 1850.5 511.4 1853 511.4 1855.5 511.4 1858 511.5 1860.5 511.5 1863 511.5 1865.5 511.5 1868 511.5" fill="none" stroke="#000000" stroke-width="6" stroke-linejoin="round" stroke-linecap="butt"/>
<rect x="233" y="812.8" width="25.6" height="25.6" fill="#000"/>
<rect x="435.7" y="812.8" width="25.6" height="25.6" fill="#000"/>
<rect x="638.4" y="812.8" width="25.6" height="25.6" fill="#000"/>
<rect x="881.7" y="493.1" width="25.6" height="25.6" fill="#000"/>
<rect x="1043.8" y="495.8" width="25.6" height="25.6" fill="#000"/>
<rect x="1246.6" y="495.4" width="25.6" height="25.6" fill="#000"/>
<rect x="1449.3" y="496.1" width="25.6" height="25.6" fill="#000"/>
<rect x="1652" y="497.1" width="25.6" height="25.6" fill="#000"/>
<rect x="1854.7" y="498.8" width="25.6" height="25.6" fill="#000"/>
<path d="M246 825.6L248.5 825.6 251 825.6 253.5 825.6 256 825.6 258.5 825.6 261 825.6 263.5 825.6 266 825.6 268.5 825.6 271 825.6 273.5 825.6 276 825.6 278.5 825.6 281 825.6 283.5 825.6 286 825.6 288.5 825.6 291 825.6 293.5 825.6 296 825.6 298.5 825.6 301 825.6 303.5 825.6 306 825.6 308.5 825.6 311 825.6 313.5 825.6 316 825.6 318.6 825.6 321.1 825.6 323.6 825.6 326.1 825.6 328.6 825.6 331.1 825.6 333.6 825.6 336.1 825.6 338.6 825.6 341.1 825.6 343.6 825.6 346.1 825.6 348.6 825.6 351.1 825.6 353.6 825.6 356.1 825.6 358.6 825.6 361.1 825.6 363.6 825.6 366.1 825.6 368.6 825.6 371.1 825.6 373.6 825.6 376.1 825.6 378.6 825.6 381.1 825.6 383.6 825.6 386.1 825.6 388.6 825.6 391.1 825.6 393.6 825.6 396.1 825.6 398.6 825.6 401.1 825.6 403.6 825.6 406.1 825.6 408.6 825.6 411.1 825.6 413.6 825.6 416.1 825.6 418.6 825.6 421.1 825.6 423.6 825.6 426.1 825.6 428.6 825.6 431.1 825.6 433.6 825.5 436.1 825.5 438.6 825.5 441.1 825.5 443.6 825.5 446.1 825.4 448.6 825.4 451.1 825.3 453.6 825.3 456.1 825.3 458.6 825.2 461.1 825.2 463.6 825.1 466.1 825 468.6 825 471.1 824.9 473.6 824.8 476.1 824.7 478.6 824.5 481.1 824.4 483.6 824.2 486.1 824 488.6 823.7 491.1 823.5 493.6 823.2 496.1 822.9 498.5 822.6 501 822.3 503.5 821.9 506 821.6 508.4 821.2 510.9 820.9 513.4 820.5 515.9 820.1 518.3 819.7 520.8 819.3 523.3 818.9 525.7 818.5 528.2 818.1 530.7 817.7 533.2 817.3 535.6 816.9 538.1 816.5 540.6 816.1 543 815.7 545.5 815.2 548 814.8 550.4 814.4 552.9 813.9 555.3 813.4 557.8 812.9 560.2 812.3 562.6 811.8 565.1 811.2 567.5 810.6 569.9 810 572.4 809.4 574.8 808.8 577.2 808.2 579.6 807.6 582 806.9 584.4 806.2 586.8 805.5 589.2 804.8 591.6 804 593.9 803.1 596.2 802.2 598.5 801.3 600.8 800.3 603.1 799.2 605.3 798.2 607.6 797.1 609.8 796 612 794.8 614.2 793.7 616.4 792.4 618.6 791.2 620.7 789.9 622.8 788.5 624.9 787.2 627 785.8 629 784.4 631.1 783 633.1 781.5 635.2 780.1 637.2 778.6 639.3 777.2 641.3 775.7 643.3 774.3 645.3 772.8 647.4 771.3 649.4 769.8 651.4 768.3 653.4 766.9 655.4 765.4 657.4 763.9 659.4 762.4 661.4 760.8 663.4 759.3 665.3 757.8 667.2 756.2 669.1 754.5 671 752.9 672.8 751.2 674.6 749.4 676.3 747.6 678 745.8 679.7 744 681.3 742.1 683 740.2 684.6 738.3 686.2 736.4 687.9 734.5 689.5 732.6 691.1 730.7 692.7 728.8 694.3 726.9 695.9 725 697.6 723.1 699.2 721.2 700.8 719.2 702.4 717.3 704 715.4 705.6 713.5 707.3 711.6 708.9 709.7 710.6 707.9 712.2 706 713.9 704.2 715.6 702.3 717.3 700.5 719 698.6 720.7 696.8 722.4 695 724.2 693.2 725.9 691.4 727.6 689.6 729.4 687.8 731.1 686 732.9 684.2 734.6 682.4 736.4 680.6 738.1 678.9 739.9 677.1 741.6 675.3 743.4 673.5 745.1 671.7 746.8 669.9 748.5 668.1 750.2 666.2 751.9 664.4 753.6 662.5 755.3 660.7 756.9 658.8 758.6 656.9 760.2 655 761.9 653.1 763.5 651.2 765.1 649.3 766.7 647.4 768.4 645.5 770 643.6 771.6 641.7 773.2 639.8 774.8 637.9 776.4 635.9 778 634 779.6 632.1 781.2 630.2 782.8 628.3 784.4 626.3 786 624.4 787.6 622.5 789.2 620.6 790.9 618.7 792.5 616.8 794.1 614.9 795.8 613.1 797.5 611.2 799.2 609.4 800.9 607.5 802.6 605.7 804.4 603.9 806.1 602.2 807.9 600.4 809.6 598.6 811.4 596.8 813.2 595.1 815 593.3 816.8 591.6 818.5 589.8 820.3 588.1 822.2 586.4 824 584.6 825.8 582.9 827.6 581.2 829.5 579.6 831.3 577.9 833.2 576.2 835 574.5 836.9 572.9 838.8 571.2 840.7 569.5 842.5 567.9 844.4 566.2 846.3 564.6 848.2 563 850.2 561.4 852.1 559.8 854 558.3 856 556.7 858 555.2 860 553.7 862 552.2 864 550.7 866.1 549.3 868.1 547.9 870.2 546.5 872.3 545.1 874.4 543.8 876.5 542.5 878.7 541.2 880.8 539.9 883 538.7 885.2 537.5 887.4 536.3 889.6 535.1 891.8 533.9 894 532.8 896.3 531.7 898.5 530.5 900.7 529.4 903 528.3 905.2 527.2 907.5 526.2 909.8 525.1 912 524.1 914.3 523.1 916.6 522.1 918.9 521.2 921.3 520.3 923.6 519.4 926 518.6 928.3 517.7 930.7 517 933.1 516.2 935.4 515.5 937.8 514.9 940.3 514.3 942.7 513.7 945.1 513.3 947.6 512.9 950.1 512.5 952.5 512.1 955 511.8 957.5 511.5 960 511.3 962.5 511 964.9 510.8 967.4 510.6 969.9 510.4 972.4 510.3 974.9 510.1 977.4 510 979.9 509.9 982.4 509.7 984.9 509.6 987.4 509.5 989.9 509.4 992.4 509.3 994.9 509.3 997.4 509.2 999.9 509.1 1002.4 509 1004.9 509 1007.4 508.9 1009.9 508.8 1012.4 508.7 1014.9 508.7 1017.4 508.6 1019.9 508.5 1022.4 508.5 1024.9 508.4 1027.4 508.3 1029.9 508.3 1032.4 508.2 1034.9 508.2 1037.4 508.1 1039.9 508.1 1042.4 508 1044.9 508 1047.4 508 1049.9 508 1052.4 507.9 1054.9 507.9 1057.4 507.9 1059.9 507.9 1062.4 507.9 1064.9 507.9 1067.5 507.9 1070 507.9 1072.5 507.9 1075 507.8 1077.5 507.8 1080 507.8 1082.5 507.8 1085 507.8 1087.5 507.8 1090 507.8 1092.5 507.8 1095 507.8 1097.5 507.8 1100 507.7 1102.5 507.7 1105 507.7 1107.5 507.7 1110 507.7 1112.5 507.7 1115 507.7 1117.5 507.7 1120 507.7 1122.5 507.6 1125 507.6 1127.5 507.6 1130 507.6 1132.5 507.6 1135 507.6 1137.5 507.6 1140 507.6 1142.5 507.6 1145 507.5 1147.5 507.5 1150 507.5 1152.5 507.5 1155 507.5 1157.5 507.5 1160 507.5 1162.5 507.5 1165 507.5 1167.5 507.5 1170 507.5 1172.5 507.5 1175 507.5 1177.5 507.5 1180 507.5 1182.5 507.5 1185 507.5 1187.5 507.5 1190 507.5 1192.5 507.5 1195 507.5 1197.5 507.5 1200 507.5 1202.5 507.5 1205 507.5 1207.5 507.5 1210 507.5 1212.6 507.5 1215.1 507.5 1217.6 507.5 1220.1 507.5 1222.6 507.5 1225.1 507.5 1227.6 507.5 1230.1 507.5 1232.6 507.5 1235.1 507.5 1237.6 507.5 1240.1 507.5 1242.6 507.5 1245.1 507.5 1247.6 507.5 1250.1 507.5 1252.6 507.5 1255.1 507.5 1257.6 507.5 1260.1 507.5 1262.6 507.5 1265.1 507.5 1267.6 507.5 1270.1 507.5 1272.6 507.6 1275.1 507.6 1277.6 507.6 1280.1 507.6 1282.6 507.6 1285.1 507.6 1287.6 507.6 1290.1 507.6 1292.6 507.6 1295.1 507.6 1297.6 507.6 1300.1 507.7 1302.6 507.7 1305.1 507.7 1307.6 507.7 1310.1 507.7 1312.6 507.7 1315.1 507.7 1317.6 507.7 1320.1 507.7 1322.6 507.7 1325.1 507.8 1327.6 507.8 1330.1 507.8 1332.6 507.8 1335.1 507.8 1337.6 507.8 1340.1 507.8 1342.6 507.8 1345.1 507.8 1347.6 507.8 1350.1 507.9 1352.6 507.9 1355.2 507.9 1357.7 507.9 1360.2 507.9 1362.7 507.9 1365.2 507.9 1367.7 507.9 1370.2 507.9 1372.7 507.9 1375.2 508 1377.7 508 1380.2 508 1382.7 508 1385.2 508 1387.7 508 1390.2 508 1392.7 508 1395.2 508 1397.7 508 1400.2 508.1 1402.7 508.1 1405.2 508.1 1407.7 508.1 1410.2 508.1 1412.7 508.1 1415.2 508.1 1417.7 508.1 1420.2 508.1 1422.7 508.1 1425.2 508.2 1427.7 508.2 1430.2 508.2 1432.7 508.2 1435.2 508.2 1437.7 508.2 1440.2 508.2 1442.7 508.2 1445.2 508.2 1447.7 508.2 1450.2 508.3 1452.7 508.3 1455.2 508.3 1457.7 508.3 1460.2 508.3 1462.7 508.3 1465.2 508.3 1467.7 508.3 1470.2 508.4 1472.7 508.4 1475.2 508.4 1477.7 508.4 1480.2 508.4 1482.7 508.4 1485.2 508.4 1487.7 508.5 1490.2 508.5 1492.7 508.5 1495.2 508.5 1497.7 508.5 1500.3 508.5 1502.8 508.5 1505.3 508.6 1507.8 508.6 1510.3 508.6 1512.8 508.6 1515.3 508.6 1517.8 508.6 1520.3 508.6 1522.8 508.7 1525.3 508.7 1527.8 508.7 1530.3 508.7 1532.8 508.7 1535.3 508.7 1537.8 508.7 1540.3 508.8 1542.8 508.8 1545.3 508.8 1547.8 508.8 1550.3 508.8 1552.8 508.8 1555.3 508.9 1557.8 508.9 1560.3 508.9 1562.8 508.9 1565.3 508.9 1567.8 508.9 1570.3 508.9 1572.8 509 1575.3 509 1577.8 509 1580.3 509 1582.8 509 1585.3 509 1587.8 509 1590.3 509.1 1592.8 509.1 1595.3 509.1 1597.8 509.1 1600.3 509.1 1602.8 509.1 1605.3 509.1 1607.8 509.2 1610.3 509.2 1612.8 509.2 1615.3 509.2 1617.8 509.2 1620.3 509.2 1622.8 509.3 1625.3 509.3 1627.8 509.3 1630.3 509.3 1632.8 509.3 1635.3 509.3 1637.8 509.3 1640.3 509.4 1642.8 509.4 1645.3 509.4 1647.9 509.4 1650.4 509.4 1652.9 509.4 1655.4 509.4 1657.9 509.5 1660.4 509.5 1662.9 509.5 1665.4 509.5 1667.9 509.5 1670.4 509.5 1672.9 509.6 1675.4 509.6 1677.9 509.6 1680.4 509.6 1682.9 509.6 1685.4 509.6 1687.9 509.6 1690.4 509.7 1692.9 509.7 1695.4 509.7 1697.9 509.7 1700.4 509.7 1702.9 509.7 1705.4 509.8 1707.9 509.8 1710.4 509.8 1712.9 509.8 1715.4 509.8 1717.9 509.8 1720.4 509.9 1722.9 509.9 1725.4 509.9 1727.9 509.9 1730.4 509.9 1732.9 509.9 1735.4 510 1737.9 510 1740.4 510 1742.9 510 1745.4 510 1747.9 510 1750.4 510 1752.9 510.1 1755.4 510.1 1757.9 510.1 1760.4 510.1 1762.9 510.1 1765.4 510.1 1767.9 510.2 1770.4 510.2 1772.9 510.2 1775.4 510.2 1777.9 510.2 1780.4 510.2 1782.9 510.3 1785.4 510.3 1787.9 510.3 1790.4 510.3 1792.9 510.3 1795.5 510.3 1798 510.4 1800.5 510.4 1803 510.4 1805.5 510.4 1808 510.4 1810.5 510.4 1813 510.4 1815.5 510.5 1818 510.5 1820.5 510.5 1823 510.5 1825.5 510.5 1828 510.5 1830.5 510.6 1833 510.6 1835.5 510.6 1838 510.6 1840.5 510.6 1843 510.6 1845.5 510.7 1848 510.7 1850.5 510.7 1853 510.7 1855.5 510.7 1858 510.7 1860.5 510.8 1863 510.8 1865.5 510.8 1868 510.8" fill="none" stroke="#FF0000" stroke-width="6" stroke-linejoin="round" stroke-linecap="butt"/>
<circle cx="245.8" cy="825.6" r="14.7" fill="#F00"/>
<circle cx="448.5" cy="825.6" r="14.7" fill="#F00"/>
<circle cx="651.2" cy="823.5" r="14.7" fill="#F00"/>
<circle cx="853.9" cy="505.2" r="14.7" fill="#F00"/>
<circle cx="1056.6" cy="506.5" r="14.7" fill="#F00"/>
<circle cx="1259.4" cy="506.5" r="14.7" fill="#F00"/>
<circle cx="1462.1" cy="508.2" r="14.7" fill="#F00"/>
<circle cx="1664.8" cy="509.9" r="14.7" fill="#F00"/>
<circle cx="1867.5" cy="511.6" r="14.7" fill="#F00"/>
<path d="M448.7 825.6L451.2 825.5 453.7 825.4 456.2 825.3 458.7 825.3 461.2 825.2 463.7 825.1 466.2 825.1 468.7 825 471.2 825 473.7 824.9 476.2 824.9 478.7 824.8 481.2 824.8 483.7 824.7 486.2 824.7 488.7 824.6 491.2 824.6 493.7 824.5 496.2 824.5 498.7 824.4 501.2 824.3 503.7 824.1 506.2 824 508.7 823.8 511.2 823.5 513.7 823.3 516.2 823 518.7 822.8 521.2 822.5 523.7 822.2 526.1 821.9 528.6 821.6 531.1 821.3 533.6 821 536.1 820.6 538.5 820.3 541 819.9 543.5 819.5 545.9 819 548.4 818.5 550.8 818 553.3 817.5 555.7 817 558.2 816.4 560.6 815.8 563 815.2 565.5 814.6 567.9 813.9 570.3 813.3 572.7 812.6 575.1 811.8 577.5 811.1 579.8 810.3 582.2 809.5 584.6 808.7 586.9 807.8 589.3 807 591.6 806.1 593.9 805.1 596.2 804.1 598.4 803.1 600.7 802 603 800.9 605.2 799.8 607.4 798.7 609.6 797.5 611.8 796.3 614 795.1 616.1 793.8 618.3 792.5 620.4 791.2 622.4 789.8 624.5 788.3 626.5 786.9 628.5 785.4 630.5 783.9 632.5 782.4 634.5 780.9 636.5 779.4 638.5 777.8 640.4 776.2 642.3 774.6 644.2 773 646.1 771.4 648 769.7 649.8 768 651.7 766.3 653.5 764.6 655.3 762.9 657.1 761.2 658.9 759.4 660.7 757.6 662.4 755.8 664.1 754 665.8 752.2 667.5 750.3 669.2 748.5 670.8 746.6 672.4 744.7 674 742.8 675.6 740.8 677.2 738.9 678.8 737 680.4 735 681.9 733 683.4 731.1 684.9 729.1 686.4 727.1 687.9 725 689.4 723 690.9 721 692.3 719 693.8 716.9 695.2 714.9 696.6 712.8 698.1 710.8 699.5 708.7 700.9 706.6 702.3 704.5 703.7 702.5 705 700.4 706.4 698.3 707.8 696.2 709.2 694.1 710.5 692 711.9 689.9 713.2 687.8 714.6 685.7 715.9 683.5 717.3 681.4 718.6 679.3 720 677.2 721.4 675.2 722.8 673.1 724.2 671 725.6 669 727 666.9 728.5 664.9 729.9 662.8 731.3 660.7 732.7 658.7 734 656.6 735.3 654.4 736.6 652.3 737.8 650.1 738.9 647.9 740.1 645.7 741.2 643.4 742.3 641.2 743.4 638.9 744.5 636.7 745.6 634.4 746.7 632.2 747.8 630 748.9 627.7 750.1 625.5 751.2 623.3 752.4 621 753.6 618.8 754.7 616.6 755.9 614.4 757.1 612.2 758.3 610 759.4 607.8 760.6 605.6 761.8 603.4 763 601.2 764.2 599 765.5 596.8 766.7 594.6 767.9 592.4 769.1 590.3 770.4 588.1 771.6 585.9 772.8 583.7 774.1 581.6 775.3 579.4 776.6 577.2 777.8 575.1 779.1 572.9 780.3 570.7 781.5 568.5 782.7 566.3 783.9 564.1 785.1 561.9 786.2 559.7 787.4 557.5 788.5 555.2 789.6 553 790.8 550.8 791.9 548.6 793.1 546.4 794.3 544.2 795.6 542 796.9 539.9 798.2 537.8 799.6 535.7 801 533.7 802.5 531.6 803.9 529.6 805.4 527.6 807 525.7 808.6 523.9 810.3 522.1 812.1 520.4 814 518.9 815.9 517.5 817.9 516.3 820.1 515.3 822.3 514.4 824.6 513.7 826.9 513.1 829.3 512.7 831.7 512.4 834.2 512.1 836.7 512 839.2 511.8 841.7 511.7 844.2 511.6 846.7 511.6 849.2 511.5 851.7 511.4 854.2 511.4 856.7 511.3 859.2 511.3 861.7 511.2 864.2 511.2 866.7 511.1 869.2 511 871.7 511 874.2 510.9 876.7 510.9 879.2 510.8 881.7 510.7 884.2 510.7 886.7 510.6 889.2 510.6 891.7 510.5 894.2 510.5 896.7 510.4 899.2 510.3 901.7 510.3 904.2 510.2 906.7 510.2 909.2 510.1 911.7 510.1 914.2 510 916.7 509.9 919.2 509.9 921.7 509.8 924.2 509.8 926.7 509.7 929.2 509.7 931.7 509.6 934.3 509.6 936.8 509.5 939.3 509.5 941.8 509.4 944.3 509.4 946.8 509.3 949.3 509.3 951.8 509.2 954.3 509.2 956.8 509.1 959.3 509.1 961.8 509 964.3 508.9 966.8 508.9 969.3 508.8 971.8 508.8 974.3 508.7 976.8 508.7 979.3 508.6 981.8 508.6 984.3 508.5 986.8 508.5 989.3 508.4 991.8 508.4 994.3 508.3 996.8 508.3 999.3 508.2 1001.8 508.2 1004.3 508.1 1006.8 508.1 1009.3 508 1011.8 507.9 1014.3 507.9 1016.8 507.8 1019.4 507.8 1021.9 507.7 1024.4 507.7 1026.9 507.6 1029.4 507.6 1031.9 507.5 1034.4 507.5 1036.9 507.4 1039.4 507.4 1041.9 507.3 1044.4 507.3 1046.9 507.2 1049.4 507.2 1051.9 507.1 1054.4 507.1 1056.9 507.1 1059.4 507.1 1061.9 507.1 1064.4 507.1 1066.9 507.1 1069.4 507.1 1071.9 507.1 1074.4 507.1 1076.9 507.1 1079.4 507.1 1081.9 507.1 1084.4 507.1 1086.9 507.1 1089.4 507.2 1091.9 507.2 1094.4 507.2 1097 507.2 1099.5 507.2 1102 507.2 1104.5 507.2 1107 507.2 1109.5 507.3 1112 507.3 1114.5 507.3 1117 507.3 1119.5 507.3 1122 507.3 1124.5 507.3 1127 507.3 1129.5 507.4 1132 507.4 1134.5 507.4 1137 507.4 1139.5 507.4 1142 507.4 1144.5 507.4 1147 507.4 1149.5 507.5 1152 507.5 1154.5 507.5 1157 507.5 1159.5 507.5 1162 507.5 1164.5 507.5 1167 507.5 1169.6 507.6 1172.1 507.6 1174.6 507.6 1177.1 507.6 1179.6 507.6 1182.1 507.6 1184.6 507.6 1187.1 507.6 1189.6 507.7 1192.1 507.7 1194.6 507.7 1197.1 507.7 1199.6 507.7 1202.1 507.7 1204.6 507.7 1207.1 507.7 1209.6 507.8 1212.1 507.8 1214.6 507.8 1217.1 507.8 1219.6 507.8 1222.1 507.8 1224.6 507.8 1227.1 507.8 1229.6 507.9 1232.1 507.9 1234.6 507.9 1237.1 507.9 1239.6 507.9 1242.2 507.9 1244.7 507.9 1247.2 507.9 1249.7 508 1252.2 508 1254.7 508 1257.2 508 1259.7 508 1262.2 508 1264.7 508 1267.2 508.1 1269.7 508.1 1272.2 508.1 1274.7 508.1 1277.2 508.1 1279.7 508.1 1282.2 508.2 1284.7 508.2 1287.2 508.2 1289.7 508.2 1292.2 508.2 1294.7 508.3 1297.2 508.3 1299.7 508.3 1302.2 508.3 1304.7 508.3 1307.2 508.4 1309.7 508.4 1312.2 508.4 1314.8 508.4 1317.3 508.4 1319.8 508.4 1322.3 508.5 1324.8 508.5 1327.3 508.5 1329.8 508.5 1332.3 508.5 1334.8 508.6 1337.3 508.6 1339.8 508.6 1342.3 508.6 1344.8 508.6 1347.3 508.6 1349.8 508.7 1352.3 508.7 1354.8 508.7 1357.3 508.7 1359.8 508.7 1362.3 508.8 1364.8 508.8 1367.3 508.8 1369.8 508.8 1372.3 508.8 1374.8 508.9 1377.3 508.9 1379.8 508.9 1382.3 508.9 1384.8 508.9 1387.4 508.9 1389.9 509 1392.4 509 1394.9 509 1397.4 509 1399.9 509 1402.4 509.1 1404.9 509.1 1407.4 509.1 1409.9 509.1 1412.4 509.1 1414.9 509.2 1417.4 509.2 1419.9 509.2 1422.4 509.2 1424.9 509.2 1427.4 509.2 1429.9 509.3 1432.4 509.3 1434.9 509.3 1437.4 509.3 1439.9 509.3 1442.4 509.4 1444.9 509.4 1447.4 509.4 1449.9 509.4 1452.4 509.4 1454.9 509.5 1457.4 509.5 1459.9 509.5 1462.5 509.5 1465 509.5 1467.5 509.6 1470 509.6 1472.5 509.6 1475 509.6 1477.5 509.7 1480 509.7 1482.5 509.7 1485 509.7 1487.5 509.8 1490 509.8 1492.5 509.8 1495 509.8 1497.5 509.8 1500 509.9 1502.5 509.9 1505 509.9 1507.5 509.9 1510 510 1512.5 510 1515 510 1517.5 510 1520 510.1 1522.5 510.1 1525 510.1 1527.5 510.1 1530 510.2 1532.5 510.2 1535.1 510.2 1537.6 510.2 1540.1 510.3 1542.6 510.3 1545.1 510.3 1547.6 510.3 1550.1 510.4 1552.6 510.4 1555.1 510.4 1557.6 510.4 1560.1 510.5 1562.6 510.5 1565.1 510.5 1567.6 510.5 1570.1 510.6 1572.6 510.6 1575.1 510.6 1577.6 510.6 1580.1 510.7 1582.6 510.7 1585.1 510.7 1587.6 510.7 1590.1 510.8 1592.6 510.8 1595.1 510.8 1597.6 510.8 1600.1 510.9 1602.6 510.9 1605.1 510.9 1607.6 510.9 1610.2 511 1612.7 511 1615.2 511 1617.7 511 1620.2 511.1 1622.7 511.1 1625.2 511.1 1627.7 511.1 1630.2 511.2 1632.7 511.2 1635.2 511.2 1637.7 511.2 1640.2 511.3 1642.7 511.3 1645.2 511.3 1647.7 511.3 1650.2 511.4 1652.7 511.4 1655.2 511.4 1657.7 511.4 1660.2 511.5 1662.7 511.5 1665.2 511.5 1667.7 511.5 1670.2 511.6 1672.7 511.6 1675.2 511.6 1677.7 511.6 1680.2 511.7 1682.8 511.7 1685.3 511.7 1687.8 511.7 1690.3 511.7 1692.8 511.8 1695.3 511.8 1697.8 511.8 1700.3 511.8 1702.8 511.9 1705.3 511.9 1707.8 511.9 1710.3 511.9 1712.8 512 1715.3 512 1717.8 512 1720.3 512 1722.8 512.1 1725.3 512.1 1727.8 512.1 1730.3 512.1 1732.8 512.2 1735.3 512.2 1737.8 512.2 1740.3 512.2 1742.8 512.3 1745.3 512.3 1747.8 512.3 1750.3 512.3 1752.8 512.4 1755.3 512.4 1757.9 512.4 1760.4 512.4 1762.9 512.5 1765.4 512.5 1767.9 512.5 1770.4 512.5 1772.9 512.6 1775.4 512.6 1777.9 512.6 1780.4 512.6 1782.9 512.7 1785.4 512.7 1787.9 512.7 1790.4 512.7 1792.9 512.8 1795.4 512.8 1797.9 512.8 1800.4 512.8 1802.9 512.9 1805.4 512.9 1807.9 512.9 1810.4 512.9 1812.9 513 1815.4 513 1817.9 513 1820.4 513 1822.9 513.1 1825.4 513.1 1827.9 513.1 1830.4 513.1 1833 513.2 1835.5 513.2 1838 513.2 1840.5 513.2 1843 513.3 1845.5 513.3 1848 513.3 1850.5 513.3 1853 513.4 1855.5 513.4 1858 513.4 1860.5 513.4 1863 513.5 1865.5 513.5 1868 513.5" fill="none" stroke="#0000FF" stroke-width="6" stroke-linejoin="round" stroke-linecap="butt"/>
<polygon points="448.5,805.3 466.1,835.7 430.9,835.7" fill="#00F"/>
<polygon points="651.2,805.3 668.8,835.7 633.6,835.7" fill="#00F"/>
<polygon points="813.4,492 831,522.5 795.8,522.5" fill="#00F"/>
<polygon points="813.4,488.8 831,519.2 795.8,519.2" fill="#00F"/>
<polygon points="1056.6,481.1 1074.2,511.6 1039.1,511.6" fill="#00F"/>
<polygon points="1259.4,484.5 1276.9,515 1241.8,515" fill="#00F"/>
<polygon points="1462.1,486.9 1479.7,517.4 1444.5,517.4" fill="#00F"/>
<polygon points="1664.8,490.3 1682.4,520.8 1647.2,520.8" fill="#00F"/>
<polygon points="1867.5,493.7 1885.1,524.2 1849.9,524.2" fill="#00F"/>
<path d="M448.7 825.6L449.7 823.3 450.7 821 451.7 818.7 452.8 816.4 453.8 814.1 454.9 811.8 455.9 809.5 457 807.3 458.1 805 459.2 802.7 460.3 800.5 461.4 798.2 462.6 796 463.7 793.8 464.9 791.5 466.1 789.3 467.3 787.1 468.5 784.9 469.8 782.8 471 780.6 472.3 778.4 473.5 776.2 474.8 774 476 771.8 477.2 769.6 478.4 767.4 479.6 765.2 480.8 763 481.9 760.7 483.1 758.5 484.2 756.3 485.4 754 486.5 751.8 487.7 749.6 488.8 747.3 490 745.1 491.1 742.9 492.3 740.6 493.5 738.4 494.7 736.2 495.9 734 497.1 731.8 498.3 729.6 499.5 727.4 500.7 725.2 501.9 722.9 503 720.7 504.2 718.5 505.3 716.2 506.4 714 507.5 711.7 508.6 709.5 509.7 707.2 510.7 704.9 511.8 702.6 512.8 700.4 513.9 698.1 515 695.8 516.1 693.6 517.2 691.3 518.4 689.1 519.6 686.9 520.8 684.7 522 682.5 523.3 680.3 524.6 678.2 525.8 676 527.2 673.9 528.5 671.7 529.8 669.6 531.2 667.5 532.6 665.4 533.9 663.3 535.3 661.2 536.6 659.1 537.9 656.9 539.2 654.8 540.4 652.6 541.5 650.4 542.6 648.1 543.7 645.9 544.7 643.6 545.8 641.3 546.8 639 547.8 636.7 548.8 634.4 549.9 632.1 551 629.9 552.1 627.6 553.3 625.4 554.4 623.2 555.6 620.9 556.8 618.7 558 616.5 559.2 614.3 560.5 612.1 561.7 610 562.9 607.8 564.2 605.6 565.5 603.4 566.7 601.2 568 599.1 569.3 596.9 570.6 594.8 571.9 592.6 573.2 590.5 574.5 588.3 575.9 586.2 577.3 584.1 578.7 582 580.1 580 581.5 577.9 582.9 575.8 584.4 573.8 585.8 571.7 587.2 569.6 588.7 567.6 590.1 565.5 591.5 563.4 592.9 561.3 594.3 559.2 595.6 557.1 597 555 598.3 552.9 599.6 550.7 600.9 548.6 602.1 546.4 603.2 544.1 604.3 541.9 605.3 539.6 606.2 537.3 607.1 535 607.9 532.6 608.6 530.2 609.2 527.8 609.8 525.4 610.3 522.9 610.9 520.5 611.4 518" fill="none" stroke="#008080" stroke-width="6" stroke-linejoin="round" stroke-linecap="butt"/>
<path d="M605 544L606.5 542 608.1 540 609.8 538.2 611.6 536.6 613.5 535.1 615.5 533.6 617.5 532.2 619.6 530.8 621.7 529.5 623.8 528.2 626 527 628.2 525.7 630.3 524.5 632.5 523.3 634.7 522.1 636.9 520.9 639.1 519.8 641.3 518.6 643.5 517.5 645.7 516.4 648 515.4 650.3 514.6 652.6 513.8 654.9 513.2 657.3 512.6 659.7 512.2 662.2 511.9 664.6 511.6 667.1 511.4 669.6 511.2 672.1 511 674.6 510.8 677.1 510.6 679.6 510.4 682.1 510.3 684.6 510.1 687.1 509.9 689.6 509.7 692 509.5 694.5 509.3 697 509.1 699.5 508.9 702 508.7 704.5 508.5 707 508.3 709.5 508.1 712 507.9 714.5 507.7 717 507.5 719.5 507.3 722 507.1 724.5 507 727 506.8 729.5 506.7 732 506.6 734.5 506.5 737 506.4 739.5 506.3 742 506.2 744.5 506.2 747 506.1 749.5 506 752 505.9 754.5 505.8 757 505.7 759.5 505.7 762 505.6 764.5 505.5 767 505.4 769.5 505.3 772 505.2 774.5 505.2 777 505.1 779.5 505 782 504.9 784.5 504.8 787 504.7 789.5 504.7 792 504.6 794.5 504.5 797 504.4 799.5 504.4 802 504.3 804.5 504.3 807 504.2 809.5 504.1 812 504.1 814.5 504 817 504 819.5 503.9 822 503.9 824.5 503.8 827 503.8 829.5 503.7 832 503.7 834.5 503.6 837 503.5 839.5 503.5 842 503.4 844.5 503.4 847 503.3 849.5 503.3 852 503.2 854.6 503.2 857.1 503.1 859.6 503.1 862.1 503 864.6 503 867.1 502.9 869.6 502.8 872.1 502.8 874.6 502.7 877.1 502.7 879.6 502.6 882.1 502.6 884.6 502.5 887.1 502.5 889.6 502.4 892.1 502.4 894.6 502.3 897.1 502.3 899.6 502.2 902.1 502.2 904.6 502.1 907.1 502.1 909.6 502 912.1 502 914.6 501.9 917.1 501.9 919.6 501.8 922.1 501.8 924.6 501.8 927.1 501.7 929.6 501.7 932.1 501.7 934.6 501.6 937.1 501.6 939.6 501.6 942.1 501.5 944.6 501.5 947.1 501.5 949.6 501.4 952.1 501.4 954.6 501.4 957.1 501.3 959.6 501.3 962.1 501.3 964.7 501.2 967.2 501.2 969.7 501.2 972.2 501.1 974.7 501.1 977.2 501.1 979.7 501 982.2 501 984.7 501 987.2 500.9 989.7 500.9 992.2 500.9 994.7 500.8 997.2 500.8 999.7 500.8 1002.2 500.7 1004.7 500.7 1007.2 500.7 1009.7 500.6 1012.2 500.6 1014.7 500.6 1017.2 500.5 1019.7 500.5 1022.2 500.5 1024.7 500.4 1027.2 500.4 1029.7 500.4 1032.2 500.3 1034.7 500.3 1037.2 500.3 1039.7 500.2 1042.2 500.2 1044.7 500.2 1047.2 500.1 1049.7 500.1 1052.2 500.1 1054.7 500.1 1057.2 500 1059.7 500 1062.2 500 1064.7 500 1067.3 500 1069.8 500 1072.3 500 1074.8 500 1077.3 500 1079.8 500 1082.3 500 1084.8 500 1087.3 500 1089.8 500 1092.3 500 1094.8 500 1097.3 500 1099.8 500 1102.3 500 1104.8 500 1107.3 500 1109.8 500 1112.3 500 1114.8 500 1117.3 500 1119.8 500 1122.3 500 1124.8 500 1127.3 500 1129.8 500 1132.3 500 1134.8 500 1137.3 500 1139.8 500 1142.3 500 1144.8 500 1147.3 500 1149.8 500 1152.3 500 1154.8 500 1157.3 500 1159.8 500 1162.4 500 1164.9 500 1167.4 500 1169.9 500 1172.4 500 1174.9 500 1177.4 500 1179.9 500 1182.4 500 1184.9 500 1187.4 500 1189.9 500 1192.4 500 1194.9 500 1197.4 500 1199.9 500 1202.4 500 1204.9 500 1207.4 500 1209.9 500 1212.4 500 1214.9 500 1217.4 500 1219.9 500 1222.4 500 1224.9 500 1227.4 500 1229.9 500 1232.4 500 1234.9 500 1237.4 500 1239.9 500 1242.4 500 1244.9 500 1247.4 500 1249.9 500 1252.4 500 1255 500 1257.5 500 1260 500 1262.5 500.1 1265 500.1 1267.5 500.1 1270 500.1 1272.5 500.2 1275 500.2 1277.5 500.2 1280 500.2 1282.5 500.3 1285 500.3 1287.5 500.3 1290 500.4 1292.5 500.4 1295 500.4 1297.5 500.5 1300 500.5 1302.5 500.5 1305 500.6 1307.5 500.6 1310 500.6 1312.5 500.6 1315 500.7 1317.5 500.7 1320 500.7 1322.5 500.8 1325 500.8 1327.5 500.8 1330 500.9 1332.5 500.9 1335 500.9 1337.5 501 1340 501 1342.5 501 1345 501.1 1347.5 501.1 1350 501.1 1352.5 501.1 1355.1 501.2 1357.6 501.2 1360.1 501.2 1362.6 501.3 1365.1 501.3 1367.6 501.3 1370.1 501.4 1372.6 501.4 1375.1 501.4 1377.6 501.5 1380.1 501.5 1382.6 501.5 1385.1 501.5 1387.6 501.6 1390.1 501.6 1392.6 501.6 1395.1 501.7 1397.6 501.7 1400.1 501.7 1402.6 501.8 1405.1 501.8 1407.6 501.8 1410.1 501.9 1412.6 501.9 1415.1 501.9 1417.6 502 1420.1 502 1422.6 502 1425.1 502 1427.6 502.1 1430.1 502.1 1432.6 502.1 1435.1 502.2 1437.6 502.2 1440.1 502.2 1442.6 502.3 1445.1 502.3 1447.6 502.3 1450.1 502.4 1452.6 502.4 1455.1 502.4 1457.7 502.5 1460.2 502.5 1462.7 502.5 1465.2 502.6 1467.7 502.6 1470.2 502.7 1472.7 502.7 1475.2 502.8 1477.7 502.8 1480.2 502.9 1482.7 503 1485.2 503 1487.7 503.1 1490.2 503.1 1492.7 503.2 1495.2 503.2 1497.7 503.3 1500.2 503.3 1502.7 503.4 1505.2 503.5 1507.7 503.5 1510.2 503.6 1512.7 503.6 1515.2 503.7 1517.7 503.7 1520.2 503.8 1522.7 503.8 1525.2 503.9 1527.7 504 1530.2 504 1532.7 504.1 1535.2 504.1 1537.7 504.2 1540.2 504.2 1542.7 504.3 1545.2 504.3 1547.7 504.4 1550.2 504.5 1552.7 504.5 1555.2 504.6 1557.7 504.6 1560.2 504.7 1562.7 504.7 1565.2 504.8 1567.7 504.8 1570.2 504.9 1572.7 505 1575.2 505 1577.8 505.1 1580.3 505.1 1582.8 505.2 1585.3 505.2 1587.8 505.3 1590.3 505.3 1592.8 505.4 1595.3 505.5 1597.8 505.5 1600.3 505.6 1602.8 505.6 1605.3 505.7 1607.8 505.7 1610.3 505.8 1612.8 505.8 1615.3 505.9 1617.8 506 1620.3 506 1622.8 506.1 1625.3 506.1 1627.8 506.2 1630.3 506.2 1632.8 506.3 1635.3 506.3 1637.8 506.4 1640.3 506.5 1642.8 506.5 1645.3 506.6 1647.8 506.6 1650.3 506.7 1652.8 506.7 1655.3 506.8 1657.8 506.8 1660.3 506.9 1662.8 506.9 1665.3 507 1667.8 507 1670.3 507.1 1672.8 507.2 1675.3 507.2 1677.8 507.3 1680.3 507.3 1682.8 507.4 1685.3 507.4 1687.8 507.5 1690.3 507.5 1692.8 507.5 1695.3 507.6 1697.9 507.6 1700.4 507.7 1702.9 507.7 1705.4 507.8 1707.9 507.8 1710.4 507.9 1712.9 507.9 1715.4 508 1717.9 508 1720.4 508.1 1722.9 508.1 1725.4 508.2 1727.9 508.2 1730.4 508.3 1732.9 508.3 1735.4 508.4 1737.9 508.4 1740.4 508.5 1742.9 508.5 1745.4 508.6 1747.9 508.6 1750.4 508.7 1752.9 508.7 1755.4 508.8 1757.9 508.8 1760.4 508.9 1762.9 508.9 1765.4 509 1767.9 509 1770.4 509.1 1772.9 509.1 1775.4 509.2 1777.9 509.2 1780.4 509.3 1782.9 509.3 1785.4 509.4 1787.9 509.4 1790.4 509.5 1792.9 509.5 1795.4 509.6 1797.9 509.6 1800.4 509.7 1802.9 509.7 1805.4 509.8 1807.9 509.8 1810.4 509.9 1813 509.9 1815.5 510 1818 510 1820.5 510.1 1823 510.1 1825.5 510.2 1828 510.2 1830.5 510.3 1833 510.3 1835.5 510.4 1838 510.4 1840.5 510.5 1843 510.5 1845.5 510.6 1848 510.6 1850.5 510.7 1853 510.7 1855.5 510.8 1858 510.8 1860.5 510.9 1863 510.9 1865.5 511 1868 511" fill="none" stroke="#008080" stroke-width="6" stroke-linejoin="round" stroke-linecap="butt"/>
<polygon points="448.5,845.9 466.1,815.4 430.9,815.4" fill="#008080"/>
<polygon points="610.7,535 628.3,504.5 593.1,504.5" fill="#008080"/>
<polygon points="651.2,532.6 668.8,502.2 633.6,502.2" fill="#008080"/>
<polygon points="853.9,523.9 871.5,493.5 836.4,493.5" fill="#008080"/>
<polygon points="1056.6,521.1 1074.2,490.6 1039.1,490.6" fill="#008080"/>
<polygon points="1259.4,519.7 1276.9,489.3 1241.8,489.3" fill="#008080"/>
<polygon points="1462.1,521.4 1479.7,491 1444.5,491" fill="#008080"/>
<polygon points="1664.8,528.2 1682.4,497.7 1647.2,497.7" fill="#008080"/>
<polygon points="1867.5,531.9 1885.1,501.5 1849.9,501.5" fill="#008080"/>
<path d="M246 825.6L246.7 823.2 247.4 820.8 248.1 818.4 248.9 816 249.7 813.6 250.6 811.3 251.5 809 252.5 806.7 253.5 804.4 254.5 802.1 255.6 799.9 256.7 797.6 257.8 795.4 258.9 793.1 260 790.9 261.2 788.7 262.4 786.5 263.5 784.3 264.7 782 265.8 779.8 267 777.6 268.2 775.4 269.4 773.2 270.6 771 271.7 768.8 272.9 766.6 274.1 764.4 275.3 762.2 276.6 760 277.8 757.8 279 755.6 280.2 753.4 281.4 751.3 282.6 749.1 283.8 746.9 285.1 744.7 286.3 742.5 287.5 740.3 288.7 738.1 289.9 735.9 291.1 733.8 292.3 731.6 293.6 729.4 294.8 727.2 296 725 297.2 722.8 298.4 720.6 299.6 718.4 300.9 716.3 302.1 714.1 303.3 711.9 304.5 709.7 305.7 707.5 306.9 705.3 308.2 703.1 309.4 700.9 310.6 698.8 311.8 696.6 313 694.4 314.2 692.2 315.5 690 316.7 687.8 317.9 685.6 319.1 683.5 320.4 681.3 321.6 679.1 322.9 676.9 324.1 674.8 325.4 672.6 326.6 670.4 327.9 668.3 329.1 666.1 330.4 664 331.7 661.8 332.9 659.6 334.1 657.4 335.4 655.3 336.6 653.1 337.8 650.9 339.1 648.7 340.3 646.5 341.5 644.4 342.7 642.2 343.9 640 345.1 637.8 346.4 635.6 347.6 633.4 348.8 631.2 350 629 351.2 626.9 352.4 624.7 353.6 622.5 354.8 620.3 356 618.1 357.2 615.9 358.4 613.7 359.6 611.5 360.8 609.3 362 607.1 363.2 604.9 364.3 602.7 365.5 600.5 366.7 598.2 367.9 596.1 369.1 593.9 370.3 591.7 371.6 589.5 372.8 587.4 374.1 585.2 375.4 583.1 376.7 580.9 378 578.8 379.4 576.7 380.7 574.6 382.1 572.5 383.4 570.3 384.8 568.2 386.1 566.2 387.5 564.1 388.9 562 390.3 559.9 391.8 557.9 393.2 555.8 394.7 553.8 396.2 551.9 397.8 549.9 399.4 548 401 546.1 402.6 544.2 404.3 542.4 406.1 540.6 407.8 538.8 409.6 537.1 411.5 535.4 413.4 533.8 415.3 532.2 417.2 530.7 419.3 529.3 421.3 528 423.4 526.7 425.6 525.6 427.8 524.5 430.1 523.6 432.4 522.7 434.8 522 437.2 521.4 439.6 520.9 442 520.4 444.5 520 446.9 519.7 449.4 519.5 451.9 519.3 454.4 519.1 456.9 519 459.4 518.8 461.9 518.7 464.4 518.6 466.9 518.5 469.4 518.3 471.9 518.2 474.4 518.1 476.9 518 479.4 517.9 481.9 517.8 484.4 517.7 486.9 517.6 489.4 517.5 491.9 517.4 494.4 517.3 496.9 517.2 499.4 517.2 501.9 517.1 504.4 517 506.9 516.9 509.4 516.8 511.9 516.8 514.4 516.7 516.9 516.6 519.4 516.5 521.9 516.5 524.4 516.4 526.9 516.3 529.4 516.2 531.9 516.2 534.4 516.1 536.9 516 539.4 515.9 541.9 515.9 544.4 515.8 546.9 515.8 549.4 515.7 551.9 515.7 554.4 515.6 556.9 515.6 559.4 515.6 562 515.6 564.5 515.5 567 515.5 569.5 515.5 572 515.5 574.5 515.5 577 515.5 579.5 515.5 582 515.4 584.5 515.4 587 515.4 589.5 515.4 592 515.4 594.5 515.4 597 515.4 599.5 515.4 602 515.3 604.5 515.3 607 515.3 609.5 515.3 612 515.3 614.5 515.3 617 515.3 619.5 515.3 622 515.2 624.5 515.2 627 515.2 629.5 515.2 632 515.2 634.5 515.2 637 515.2 639.5 515.2 642 515.1 644.5 515.1 647 515.1 649.5 515.1 652.1 515.1 654.6 515.1 657.1 515.1 659.6 515.1 662.1 515 664.6 515 667.1 515 669.6 515 672.1 515 674.6 514.9 677.1 514.9 679.6 514.9 682.1 514.8 684.6 514.8 687.1 514.8 689.6 514.7 692.1 514.7 694.6 514.7 697.1 514.6 699.6 514.6 702.1 514.5 704.6 514.5 707.1 514.5 709.6 514.4 712.1 514.4 714.6 514.4 717.1 514.3 719.6 514.3 722.1 514.2 724.6 514.2 727.1 514.2 729.6 514.1 732.1 514.1 734.6 514 737.1 514 739.6 514 742.1 513.9 744.6 513.9 747.1 513.9 749.7 513.8 752.2 513.8 754.7 513.7 757.2 513.7 759.7 513.7 762.2 513.6 764.7 513.6 767.2 513.6 769.7 513.5 772.2 513.5 774.7 513.4 777.2 513.4 779.7 513.4 782.2 513.3 784.7 513.3 787.2 513.2 789.7 513.2 792.2 513.2 794.7 513.1 797.2 513.1 799.7 513.1 802.2 513 804.7 513 807.2 512.9 809.7 512.9 812.2 512.9 814.7 512.8 817.2 512.8 819.7 512.7 822.2 512.7 824.7 512.7 827.2 512.6 829.7 512.6 832.2 512.5 834.7 512.5 837.2 512.5 839.7 512.4 842.2 512.4 844.7 512.3 847.3 512.3 849.8 512.3 852.3 512.2 854.8 512.2 857.3 512.1 859.8 512.1 862.3 512.1 864.8 512 867.3 512 869.8 511.9 872.3 511.9 874.8 511.9 877.3 511.8 879.8 511.8 882.3 511.8 884.8 511.7 887.3 511.7 889.8 511.6 892.3 511.6 894.8 511.6 897.3 511.5 899.8 511.5 902.3 511.4 904.8 511.4 907.3 511.3 909.8 511.2 912.3 511.2 914.8 511.1 917.3 511 919.8 510.9 922.3 510.7 924.8 510.6 927.3 510.5 929.8 510.3 932.3 510.2 934.8 510 937.3 509.9 939.8 509.8 942.3 509.6 944.8 509.5 947.3 509.3 949.8 509.2 952.3 509 954.8 508.9 957.3 508.8 959.8 508.6 962.3 508.5 964.8 508.3 967.3 508.2 969.8 508 972.3 507.9 974.8 507.7 977.3 507.6 979.8 507.5 982.3 507.3 984.8 507.2 987.3 507 989.8 506.9 992.3 506.7 994.8 506.6 997.3 506.4 999.8 506.3 1002.3 506.2 1004.8 506 1007.3 505.9 1009.8 505.7 1012.3 505.6 1014.8 505.4 1017.3 505.3 1019.8 505.1 1022.3 505 1024.8 504.9 1027.3 504.7 1029.8 504.6 1032.3 504.4 1034.8 504.3 1037.3 504.1 1039.7 504 1042.2 503.9 1044.7 503.7 1047.2 503.6 1049.7 503.5 1052.2 503.4 1054.7 503.3 1057.2 503.2 1059.7 503.1 1062.2 503.1 1064.8 503.1 1067.3 503 1069.8 503 1072.3 503 1074.8 503 1077.3 503 1079.8 503 1082.3 503 1084.8 503 1087.3 503 1089.8 503 1092.3 503 1094.8 503 1097.3 503 1099.8 503 1102.3 503 1104.8 503 1107.3 503 1109.8 503 1112.3 503 1114.8 503 1117.3 503 1119.8 503 1122.3 503 1124.8 503 1127.3 503 1129.8 503 1132.3 503 1134.8 503 1137.3 503 1139.8 503 1142.3 503 1144.8 503 1147.3 503 1149.8 503 1152.3 503 1154.9 503 1157.4 503 1159.9 503 1162.4 503 1164.9 503 1167.4 503 1169.9 503 1172.4 503 1174.9 503 1177.4 503 1179.9 503 1182.4 503 1184.9 503 1187.4 503 1189.9 503 1192.4 503 1194.9 503 1197.4 503 1199.9 503 1202.4 503 1204.9 503 1207.4 503 1209.9 503 1212.4 503 1214.9 503 1217.4 503 1219.9 503 1222.4 503 1224.9 503 1227.4 503 1229.9 503 1232.4 503 1234.9 503 1237.4 503 1239.9 503 1242.4 503 1245 503 1247.5 503 1250 503 1252.5 503 1255 503.1 1257.5 503.1 1260 503.1 1262.5 503.2 1265 503.2 1267.5 503.3 1270 503.4 1272.5 503.4 1275 503.5 1277.5 503.6 1280 503.7 1282.5 503.8 1285 503.9 1287.5 504 1290 504 1292.5 504.1 1295 504.2 1297.5 504.3 1300 504.4 1302.5 504.5 1305 504.6 1307.5 504.6 1310 504.7 1312.5 504.8 1315 504.9 1317.5 505 1320 505.1 1322.5 505.2 1325 505.3 1327.5 505.3 1330 505.4 1332.5 505.5 1335 505.6 1337.5 505.7 1340 505.8 1342.5 505.9 1345 505.9 1347.5 506 1350 506.1 1352.5 506.2 1355 506.3 1357.5 506.4 1360 506.5 1362.5 506.6 1365 506.6 1367.5 506.7 1370 506.8 1372.5 506.9 1375 507 1377.5 507.1 1380 507.2 1382.5 507.2 1385 507.3 1387.5 507.4 1390 507.5 1392.5 507.6 1395 507.7 1397.5 507.8 1400 507.9 1402.5 507.9 1405 508 1407.5 508.1 1410 508.2 1412.5 508.3 1415.1 508.4 1417.6 508.5 1420.1 508.5 1422.6 508.6 1425.1 508.7 1427.6 508.8 1430.1 508.9 1432.6 509 1435.1 509.1 1437.6 509.2 1440.1 509.2 1442.6 509.3 1445.1 509.4 1447.6 509.5 1450.1 509.6 1452.6 509.7 1455.1 509.7 1457.6 509.8 1460.1 509.9 1462.6 509.9 1465.1 510 1467.6 510.1 1470.1 510.1 1472.6 510.1 1475.1 510.2 1477.6 510.2 1480.1 510.3 1482.6 510.3 1485.1 510.3 1487.6 510.4 1490.1 510.4 1492.6 510.5 1495.1 510.5 1497.6 510.5 1500.1 510.6 1502.6 510.6 1505.1 510.6 1507.6 510.7 1510.1 510.7 1512.6 510.7 1515.1 510.8 1517.6 510.8 1520.1 510.9 1522.6 510.9 1525.1 510.9 1527.6 511 1530.1 511 1532.6 511 1535.1 511.1 1537.7 511.1 1540.2 511.2 1542.7 511.2 1545.2 511.2 1547.7 511.3 1550.2 511.3 1552.7 511.3 1555.2 511.4 1557.7 511.4 1560.2 511.5 1562.7 511.5 1565.2 511.5 1567.7 511.6 1570.2 511.6 1572.7 511.6 1575.2 511.7 1577.7 511.7 1580.2 511.7 1582.7 511.8 1585.2 511.8 1587.7 511.9 1590.2 511.9 1592.7 511.9 1595.2 512 1597.7 512 1600.2 512 1602.7 512.1 1605.2 512.1 1607.7 512.2 1610.2 512.2 1612.7 512.2 1615.2 512.3 1617.7 512.3 1620.2 512.3 1622.7 512.4 1625.2 512.4 1627.7 512.4 1630.2 512.5 1632.7 512.5 1635.3 512.6 1637.8 512.6 1640.3 512.6 1642.8 512.7 1645.3 512.7 1647.8 512.7 1650.3 512.8 1652.8 512.8 1655.3 512.9 1657.8 512.9 1660.3 512.9 1662.8 513 1665.3 513 1667.8 513 1670.3 513 1672.8 513.1 1675.3 513.1 1677.8 513.1 1680.3 513.1 1682.8 513.2 1685.3 513.2 1687.8 513.2 1690.3 513.2 1692.8 513.3 1695.3 513.3 1697.8 513.3 1700.3 513.3 1702.8 513.4 1705.3 513.4 1707.8 513.4 1710.3 513.4 1712.8 513.5 1715.3 513.5 1717.8 513.5 1720.3 513.5 1722.8 513.6 1725.3 513.6 1727.8 513.6 1730.4 513.6 1732.9 513.7 1735.4 513.7 1737.9 513.7 1740.4 513.7 1742.9 513.8 1745.4 513.8 1747.9 513.8 1750.4 513.8 1752.9 513.9 1755.4 513.9 1757.9 513.9 1760.4 513.9 1762.9 514 1765.4 514 1767.9 514 1770.4 514 1772.9 514.1 1775.4 514.1 1777.9 514.1 1780.4 514.1 1782.9 514.2 1785.4 514.2 1787.9 514.2 1790.4 514.2 1792.9 514.3 1795.4 514.3 1797.9 514.3 1800.4 514.3 1802.9 514.4 1805.4 514.4 1807.9 514.4 1810.4 514.4 1812.9 514.5 1815.4 514.5 1817.9 514.5 1820.4 514.5 1823 514.6 1825.5 514.6 1828 514.6 1830.5 514.6 1833 514.7 1835.5 514.7 1838 514.7 1840.5 514.7 1843 514.8 1845.5 514.8 1848 514.8 1850.5 514.8 1853 514.9 1855.5 514.9 1858 514.9 1860.5 514.9 1863 515 1865.5 515 1868 515" fill="none" stroke="#FF00FF" stroke-width="6" stroke-linejoin="round" stroke-linecap="butt"/>
<polygon points="245.8,808.7 250.6,818.9 261.9,820.3 253.6,828.1 255.7,839.2 245.8,833.8 235.9,839.2 238,828.1 229.7,820.3 241,818.9" fill="#F0F"/>
<polygon points="408,498.1 412.8,508.4 424,509.8 415.8,517.6 417.9,528.7 408,523.2 398,528.7 400.2,517.6 391.9,509.8 403.2,508.4" fill="#F0F"/>
<polygon points="448.5,499.8 453.3,510.1 464.6,511.5 456.3,519.2 458.4,530.4 448.5,524.9 438.6,530.4 440.7,519.2 432.4,511.5 443.7,510.1" fill="#F0F"/>
<polygon points="651.2,498.1 656,508.4 667.3,509.8 659,517.6 661.2,528.7 651.2,523.2 641.3,528.7 643.4,517.6 635.2,509.8 646.4,508.4" fill="#F0F"/>
<polygon points="853.9,490 858.8,500.2 870,501.7 861.7,509.4 863.9,520.5 853.9,515.1 844,520.5 846.1,509.4 837.9,501.7 849.1,500.2" fill="#F0F"/>
<polygon points="1056.6,487.9 1061.5,498.2 1072.7,499.6 1064.4,507.4 1066.6,518.5 1056.6,513 1046.7,518.5 1048.9,507.4 1040.6,499.6 1051.8,498.2" fill="#F0F"/>
<polygon points="1259.4,489.6 1264.2,499.9 1275.4,501.3 1267.2,509.1 1269.3,520.2 1259.4,514.7 1249.4,520.2 1251.6,509.1 1243.3,501.3 1254.5,499.9" fill="#F0F"/>
<polygon points="1462.1,491.3 1466.9,501.6 1478.1,503 1469.9,510.8 1472,521.9 1462.1,516.4 1452.1,521.9 1454.3,510.8 1446,503 1457.3,501.6" fill="#F0F"/>
<polygon points="1664.8,494.7 1669.6,505 1680.9,506.4 1672.6,514.2 1674.7,525.3 1664.8,519.8 1654.9,525.3 1657,514.2 1648.7,506.4 1660,505" fill="#F0F"/>
<polygon points="1867.5,498.1 1872.3,508.4 1883.6,509.8 1875.3,517.6 1877.4,528.7 1867.5,523.2 1857.6,528.7 1859.7,517.6 1851.4,509.8 1862.7,508.4" fill="#F0F"/>
<path d="M246 825.6L247.3 823.5 248.7 821.3 250 819.2 251.4 817.1 252.7 815 254.1 812.9 255.5 810.8 256.9 808.8 258.2 806.7 259.6 804.6 261 802.5 262.4 800.4 263.8 798.3 265.2 796.2 266.6 794.2 267.9 792.1 269.3 790 270.7 787.9 272.1 785.8 273.5 783.8 274.9 781.7 276.3 779.6 277.7 777.5 279.1 775.4 280.4 773.3 281.8 771.3 283.2 769.2 284.6 767.1 286 765 287.4 762.9 288.8 760.8 290.2 758.8 291.5 756.7 292.9 754.6 294.3 752.5 295.7 750.4 297.1 748.3 298.5 746.3 299.9 744.2 301.3 742.1 302.6 740 304 737.9 305.4 735.8 306.8 733.7 308.1 731.6 309.5 729.5 310.8 727.4 312.2 725.3 313.5 723.2 314.9 721.1 316.2 719 317.6 716.9 319 714.8 320.4 712.8 321.8 710.7 323.2 708.7 324.7 706.6 326.2 704.6 327.7 702.6 329.2 700.6 330.7 698.6 332.2 696.6 333.7 694.6 335.1 692.6 336.6 690.5 338.1 688.5 339.6 686.5 341 684.5 342.5 682.5 344 680.4 345.5 678.4 347 676.4 348.5 674.4 350 672.4 351.5 670.4 353 668.4 354.4 666.4 355.9 664.4 357.4 662.3 358.8 660.3 360.3 658.2 361.7 656.2 363.1 654.1 364.5 652 365.9 649.9 367.2 647.9 368.6 645.8 370 643.7 371.4 641.6 372.8 639.5 374.2 637.5 375.7 635.5 377.2 633.5 378.7 631.5 380.2 629.5 381.8 627.6 383.4 625.7 385 623.8 386.7 621.9 388.3 620 390 618.1 391.6 616.2 393.3 614.3 394.9 612.5 396.6 610.6 398.2 608.7 399.9 606.8 401.5 605 403.2 603.1 404.9 601.2 406.5 599.4 408.2 597.5 409.9 595.6 411.6 593.8 413.3 592 415 590.2 416.8 588.4 418.6 586.6 420.4 584.9 422.2 583.2 424 581.4 425.8 579.7 427.6 578 429.5 576.3 431.3 574.6 433.2 573 435 571.3 436.9 569.6 438.8 568 440.7 566.3 442.6 564.7 444.4 563.1 446.3 561.4 448.2 559.8 450.2 558.2 452.1 556.6 454 555 455.9 553.4 457.9 551.8 459.8 550.3 461.8 548.7 463.8 547.2 465.8 545.7 467.8 544.3 469.9 542.9 472 541.5 474.1 540.2 476.2 538.9 478.4 537.7 480.6 536.5 482.8 535.4 485 534.2 487.3 533.2 489.6 532.1 491.8 531.1 494.1 530 496.4 529 498.7 528.1 501 527.1 503.3 526.1 505.6 525.2 507.9 524.3 510.3 523.4 512.6 522.5 515 521.8 517.3 521.1 519.7 520.4 522.1 519.9 524.6 519.5 527 519.1 529.5 518.8 532 518.5 534.5 518.2 536.9 518 539.4 517.8 541.9 517.6 544.4 517.4 546.9 517.2 549.4 517.1 551.9 516.9 554.4 516.8 556.9 516.6 559.4 516.5 561.9 516.4 564.4 516.3 566.9 516.2 569.4 516 571.9 515.9 574.4 515.8 576.9 515.6 579.4 515.4 581.9 515.2 584.4 515 586.9 514.9 589.4 514.7 591.9 514.5 594.4 514.3 596.9 514.2 599.4 514.1 601.9 513.9 604.4 513.9 606.9 513.8 609.4 513.7 611.9 513.7 614.4 513.7 616.9 513.6 619.4 513.6 621.9 513.6 624.4 513.6 626.9 513.5 629.4 513.5 631.9 513.4 634.4 513.3 636.9 513.2 639.4 513 641.9 512.8 644.3 512.6 646.8 512.4 649.3 512.2 651.8 512 654.3 511.8 656.8 511.5 659.3 511.3 661.8 511.1 664.3 511 666.8 510.8 669.3 510.7 671.8 510.6 674.3 510.5 676.8 510.4 679.3 510.4 681.8 510.3 684.3 510.3 686.8 510.2 689.3 510.2 691.8 510.1 694.3 510.1 696.8 510 699.3 510 701.8 509.9 704.3 509.9 706.8 509.8 709.3 509.8 711.8 509.7 714.3 509.7 716.8 509.6 719.3 509.6 721.8 509.6 724.3 509.5 726.8 509.5 729.3 509.4 731.8 509.4 734.3 509.3 736.8 509.3 739.3 509.2 741.8 509.2 744.3 509.1 746.8 509.1 749.3 509 751.8 509 754.3 508.9 756.9 508.9 759.4 508.8 761.9 508.8 764.4 508.7 766.9 508.7 769.4 508.6 771.9 508.6 774.4 508.5 776.9 508.5 779.4 508.4 781.9 508.4 784.4 508.3 786.9 508.3 789.4 508.3 791.9 508.2 794.4 508.2 796.9 508.1 799.4 508.1 801.9 508.1 804.4 508 806.9 508 809.4 508 811.9 507.9 814.4 507.9 816.9 507.9 819.4 507.9 821.9 507.8 824.4 507.8 826.9 507.8 829.4 507.8 831.9 507.7 834.4 507.7 836.9 507.7 839.4 507.7 841.9 507.6 844.4 507.6 846.9 507.6 849.4 507.6 851.9 507.5 854.4 507.5 856.9 507.5 859.5 507.5 862 507.4 864.5 507.4 867 507.4 869.5 507.4 872 507.3 874.5 507.3 877 507.3 879.5 507.3 882 507.2 884.5 507.2 887 507.2 889.5 507.2 892 507.1 894.5 507.1 897 507.1 899.5 507 902 507 904.5 507 907 507 909.5 506.9 912 506.9 914.5 506.9 917 506.9 919.5 506.8 922 506.8 924.5 506.8 927 506.7 929.5 506.7 932 506.7 934.5 506.6 937 506.6 939.5 506.6 942 506.5 944.5 506.5 947 506.5 949.5 506.4 952 506.4 954.5 506.4 957.1 506.3 959.6 506.3 962.1 506.3 964.6 506.2 967.1 506.2 969.6 506.2 972.1 506.1 974.6 506.1 977.1 506.1 979.6 506 982.1 506 984.6 506 987.1 505.9 989.6 505.9 992.1 505.9 994.6 505.8 997.1 505.8 999.6 505.8 1002.1 505.7 1004.6 505.7 1007.1 505.7 1009.6 505.6 1012.1 505.6 1014.6 505.6 1017.1 505.5 1019.6 505.5 1022.1 505.5 1024.6 505.4 1027.1 505.4 1029.6 505.4 1032.1 505.3 1034.6 505.3 1037.1 505.3 1039.6 505.2 1042.1 505.2 1044.6 505.2 1047.1 505.1 1049.6 505.1 1052.1 505.1 1054.6 505.1 1057.1 505.1 1059.7 505.1 1062.2 505.1 1064.7 505.1 1067.2 505.1 1069.7 505.2 1072.2 505.2 1074.7 505.2 1077.2 505.3 1079.7 505.3 1082.2 505.3 1084.7 505.3 1087.2 505.4 1089.7 505.4 1092.2 505.4 1094.7 505.5 1097.2 505.5 1099.7 505.5 1102.2 505.6 1104.7 505.6 1107.2 505.6 1109.7 505.7 1112.2 505.7 1114.7 505.7 1117.2 505.8 1119.7 505.8 1122.2 505.8 1124.7 505.9 1127.2 505.9 1129.7 505.9 1132.2 505.9 1134.7 506 1137.2 506 1139.7 506 1142.2 506.1 1144.7 506.1 1147.2 506.1 1149.7 506.2 1152.2 506.2 1154.7 506.2 1157.3 506.2 1159.8 506.2 1162.3 506.2 1164.8 506.2 1167.3 506.2 1169.8 506.2 1172.3 506.2 1174.8 506.2 1177.3 506.2 1179.8 506.2 1182.3 506.2 1184.8 506.2 1187.3 506.2 1189.8 506.2 1192.3 506.2 1194.8 506.2 1197.3 506.2 1199.8 506.2 1202.3 506.2 1204.8 506.2 1207.3 506.2 1209.8 506.2 1212.3 506.2 1214.8 506.2 1217.3 506.2 1219.8 506.2 1222.3 506.2 1224.8 506.2 1227.3 506.2 1229.8 506.2 1232.3 506.2 1234.8 506.2 1237.3 506.2 1239.8 506.2 1242.3 506.2 1244.8 506.2 1247.3 506.2 1249.9 506.2 1252.4 506.2 1254.9 506.2 1257.4 506.2 1259.9 506.2 1262.4 506.2 1264.9 506.2 1267.4 506.2 1269.9 506.3 1272.4 506.3 1274.9 506.3 1277.4 506.3 1279.9 506.3 1282.4 506.3 1284.9 506.3 1287.4 506.3 1289.9 506.3 1292.4 506.4 1294.9 506.4 1297.4 506.4 1299.9 506.4 1302.4 506.4 1304.9 506.4 1307.4 506.4 1309.9 506.4 1312.4 506.5 1314.9 506.5 1317.4 506.5 1319.9 506.5 1322.4 506.5 1324.9 506.5 1327.4 506.5 1329.9 506.5 1332.4 506.6 1334.9 506.6 1337.4 506.6 1339.9 506.6 1342.4 506.6 1345 506.6 1347.5 506.6 1350 506.6 1352.5 506.7 1355 506.7 1357.5 506.7 1360 506.7 1362.5 506.7 1365 506.7 1367.5 506.7 1370 506.7 1372.5 506.8 1375 506.8 1377.5 506.8 1380 506.8 1382.5 506.8 1385 506.8 1387.5 506.8 1390 506.8 1392.5 506.9 1395 506.9 1397.5 506.9 1400 506.9 1402.5 506.9 1405 506.9 1407.5 506.9 1410 506.9 1412.5 507 1415 507 1417.5 507 1420 507 1422.5 507 1425 507 1427.5 507 1430 507 1432.5 507.1 1435 507.1 1437.6 507.1 1440.1 507.1 1442.6 507.1 1445.1 507.1 1447.6 507.1 1450.1 507.1 1452.6 507.2 1455.1 507.2 1457.6 507.2 1460.1 507.2 1462.6 507.2 1465.1 507.2 1467.6 507.2 1470.1 507.2 1472.6 507.3 1475.1 507.3 1477.6 507.3 1480.1 507.3 1482.6 507.3 1485.1 507.3 1487.6 507.4 1490.1 507.4 1492.6 507.4 1495.1 507.4 1497.6 507.4 1500.1 507.4 1502.6 507.4 1505.1 507.5 1507.6 507.5 1510.1 507.5 1512.6 507.5 1515.1 507.5 1517.6 507.5 1520.1 507.5 1522.6 507.6 1525.1 507.6 1527.6 507.6 1530.1 507.6 1532.7 507.6 1535.2 507.6 1537.7 507.6 1540.2 507.7 1542.7 507.7 1545.2 507.7 1547.7 507.7 1550.2 507.7 1552.7 507.7 1555.2 507.8 1557.7 507.8 1560.2 507.8 1562.7 507.8 1565.2 507.8 1567.7 507.8 1570.2 507.8 1572.7 507.9 1575.2 507.9 1577.7 507.9 1580.2 507.9 1582.7 507.9 1585.2 507.9 1587.7 507.9 1590.2 508 1592.7 508 1595.2 508 1597.7 508 1600.2 508 1602.7 508 1605.2 508 1607.7 508.1 1610.2 508.1 1612.7 508.1 1615.2 508.1 1617.7 508.1 1620.2 508.1 1622.7 508.2 1625.3 508.2 1627.8 508.2 1630.3 508.2 1632.8 508.2 1635.3 508.2 1637.8 508.2 1640.3 508.3 1642.8 508.3 1645.3 508.3 1647.8 508.3 1650.3 508.3 1652.8 508.3 1655.3 508.3 1657.8 508.4 1660.3 508.4 1662.8 508.4 1665.3 508.4 1667.8 508.4 1670.3 508.5 1672.8 508.5 1675.3 508.5 1677.8 508.5 1680.3 508.6 1682.8 508.6 1685.3 508.6 1687.8 508.6 1690.3 508.7 1692.8 508.7 1695.3 508.7 1697.8 508.8 1700.3 508.8 1702.8 508.8 1705.3 508.8 1707.8 508.9 1710.3 508.9 1712.8 508.9 1715.3 508.9 1717.8 509 1720.3 509 1722.9 509 1725.4 509.1 1727.9 509.1 1730.4 509.1 1732.9 509.1 1735.4 509.2 1737.9 509.2 1740.4 509.2 1742.9 509.2 1745.4 509.3 1747.9 509.3 1750.4 509.3 1752.9 509.4 1755.4 509.4 1757.9 509.4 1760.4 509.4 1762.9 509.5 1765.4 509.5 1767.9 509.5 1770.4 509.5 1772.9 509.6 1775.4 509.6 1777.9 509.6 1780.4 509.7 1782.9 509.7 1785.4 509.7 1787.9 509.7 1790.4 509.8 1792.9 509.8 1795.4 509.8 1797.9 509.8 1800.4 509.9 1802.9 509.9 1805.4 509.9 1807.9 509.9 1810.4 510 1812.9 510 1815.4 510 1817.9 510.1 1820.5 510.1 1823 510.1 1825.5 510.1 1828 510.2 1830.5 510.2 1833 510.2 1835.5 510.2 1838 510.3 1840.5 510.3 1843 510.3 1845.5 510.4 1848 510.4 1850.5 510.4 1853 510.4 1855.5 510.5 1858 510.5 1860.5 510.5 1863 510.5 1865.5 510.6 1868 510.6" fill="none" stroke="#800000" stroke-width="6" stroke-linejoin="round" stroke-linecap="butt"/>
<polygon points="245.8,809.6 261.8,825.6 245.8,841.6 229.8,825.6" fill="#fff" stroke="#800000" stroke-width="1.0"/>
<polygon points="448.5,503.4 464.5,519.4 448.5,535.4 432.5,519.4" fill="#fff" stroke="#800000" stroke-width="1.0"/>
<polygon points="570.1,500.5 586.1,516.5 570.1,532.5 554.1,516.5" fill="#fff" stroke="#800000" stroke-width="1.0"/>
<polygon points="651.2,495.3 667.2,511.3 651.2,527.3 635.2,511.3" fill="#fff" stroke="#800000" stroke-width="1.0"/>
<polygon points="853.9,491.6 869.9,507.6 853.9,523.6 837.9,507.6" fill="#fff" stroke="#800000" stroke-width="1.0"/>
<polygon points="1056.6,489 1072.6,505 1056.6,521 1040.6,505" fill="#fff" stroke="#800000" stroke-width="1.0"/>
<polygon points="1259.4,490.2 1275.4,506.2 1259.4,522.2 1243.4,506.2" fill="#fff" stroke="#800000" stroke-width="1.0"/>
<polygon points="1462.1,490.9 1478.1,506.9 1462.1,522.9 1446.1,506.9" fill="#fff" stroke="#800000" stroke-width="1.0"/>
<polygon points="1664.8,492.6 1680.8,508.6 1664.8,524.6 1648.8,508.6" fill="#fff" stroke="#800000" stroke-width="1.0"/>
<polygon points="1867.5,494.6 1883.5,510.6 1867.5,526.6 1851.5,510.6" fill="#fff" stroke="#800000" stroke-width="1.0"/>
</g>
<g clip-path="url(#cc)">
<path d="M246 1237.8L248.5 1237.8 251 1237.8 253.5 1237.8 256 1237.8 258.5 1237.8 261 1237.8 263.5 1237.8 266 1237.8 268.5 1237.8 271 1237.8 273.5 1237.8 276 1237.8 278.5 1237.8 281 1237.8 283.5 1237.8 286 1237.8 288.5 1237.8 291 1237.8 293.5 1237.8 296 1237.8 298.5 1237.8 301 1237.8 303.5 1237.8 306 1237.8 308.6 1237.8 311.1 1237.8 313.6 1237.8 316.1 1237.8 318.6 1237.8 321.1 1237.8 323.6 1237.8 326.1 1237.8 328.6 1237.8 331.1 1237.8 333.6 1237.8 336.1 1237.8 338.6 1237.8 341.1 1237.8 343.6 1237.8 346.1 1237.8 348.6 1237.8 351.1 1237.8 353.6 1237.8 356.1 1237.8 358.6 1237.8 361.1 1237.8 363.6 1237.8 366.1 1237.8 368.6 1237.8 371.1 1237.8 373.6 1237.8 376.1 1237.8 378.6 1237.8 381.1 1237.8 383.6 1237.8 386.1 1237.8 388.6 1237.8 391.1 1237.8 393.6 1237.8 396.1 1237.8 398.6 1237.8 401.1 1237.8 403.6 1237.8 406.1 1237.8 408.6 1237.8 411.1 1237.8 413.6 1237.8 416.1 1237.8 418.6 1237.8 421.1 1237.8 423.6 1237.8 426.1 1237.8 428.7 1237.8 431.2 1237.8 433.7 1237.8 436.2 1237.8 438.7 1237.8 441.2 1237.8 443.7 1237.8 446.2 1237.8 448.7 1237.8 451.2 1237.8 453.7 1237.8 456.2 1237.8 458.7 1237.8 461.2 1237.8 463.7 1237.8 466.2 1237.8 468.7 1237.8 471.2 1237.8 473.7 1237.8 476.2 1237.8 478.7 1237.8 481.2 1237.8 483.7 1237.8 486.2 1237.8 488.7 1237.8 491.2 1237.8 493.7 1237.8 496.2 1237.8 498.7 1237.8 501.2 1237.8 503.7 1237.8 506.2 1237.8 508.7 1237.8 511.2 1237.8 513.7 1237.8 516.2 1237.8 518.7 1237.8 521.2 1237.8 523.7 1237.8 526.2 1237.7 528.7 1237.7 531.2 1237.7 533.7 1237.6 536.2 1237.6 538.7 1237.5 541.2 1237.4 543.7 1237.4 546.2 1237.3 548.7 1237.2 551.2 1237 553.7 1236.9 556.2 1236.8 558.7 1236.7 561.2 1236.5 563.7 1236.4 566.2 1236.2 568.7 1236.1 571.2 1235.9 573.7 1235.7 576.2 1235.5 578.7 1235.4 581.2 1235.1 583.7 1234.9 586.2 1234.7 588.6 1234.4 591.1 1234.2 593.6 1233.9 596.1 1233.6 598.6 1233.3 601.1 1232.9 603.5 1232.6 606 1232.3 608.5 1231.9 611 1231.6 613.4 1231.2 615.9 1230.9 618.4 1230.5 620.9 1230.2 623.4 1229.9 625.8 1229.5 628.3 1229.2 630.8 1228.9 633.3 1228.6 635.8 1228.2 638.2 1227.9 640.7 1227.6 643.2 1227.3 645.7 1227 648.2 1226.6 650.6 1226.3 653.1 1225.9 655.6 1225.6 658.1 1225.2 660.5 1224.8 663 1224.4 665.4 1223.9 667.9 1223.5 670.3 1223 672.8 1222.5 675.2 1222 677.7 1221.4 680.1 1220.9 682.6 1220.3 685 1219.7 687.4 1219.2 689.8 1218.6 692.3 1217.9 694.7 1217.3 697.1 1216.6 699.5 1216 701.9 1215.3 704.3 1214.6 706.7 1213.9 709.1 1213.1 711.5 1212.4 713.9 1211.6 716.2 1210.9 718.6 1210.1 721 1209.3 723.4 1208.6 725.8 1207.8 728.1 1207 730.5 1206.3 732.9 1205.5 735.3 1204.8 737.7 1204 740.1 1203.3 742.5 1202.6 744.9 1201.8 747.3 1201.1 749.7 1200.4 752.1 1199.7 754.5 1199 756.9 1198.3 759.3 1197.6 761.7 1196.9 764.1 1196.3 766.5 1195.6 768.9 1195 771.3 1194.3 773.8 1193.7 776.2 1193.1 778.6 1192.5 781 1191.9 783.5 1191.3 785.9 1190.7 788.3 1190.1 790.8 1189.5 793.2 1188.9 795.6 1188.3 798 1187.7 800.5 1187.1 802.9 1186.5 805.3 1185.8 807.7 1185.2 810.1 1184.5 812.5 1183.8 814.9 1183.1 817.3 1182.5 819.7 1181.8 822.1 1181.1 824.5 1180.3 826.9 1179.6 829.3 1178.9 831.7 1178.2 834.1 1177.4 836.5 1176.7 838.9 1176 841.3 1175.2 843.7 1174.5 846.1 1173.7 848.4 1172.9 850.8 1172.2 853.2 1171.4 855.6 1170.6 857.9 1169.8 860.3 1169 862.7 1168.2 865.1 1167.4 867.4 1166.6 869.8 1165.8 872.2 1165 874.5 1164.2 876.9 1163.5 879.3 1162.7 881.6 1161.9 884 1161.2 886.4 1160.5 888.8 1159.8 891.2 1159.2 893.6 1158.6 896 1158 898.4 1157.5 900.9 1157 903.3 1156.6 905.7 1156.1 908.2 1155.7 910.6 1155.3 913.1 1154.8 915.5 1154.4 918 1153.9 920.4 1153.4 922.9 1152.9 925.3 1152.4 927.7 1151.9 930.1 1151.3 932.6 1150.7 935 1150.1 937.4 1149.4 939.8 1148.8 942.2 1148.2 944.7 1147.5 947.1 1146.8 949.5 1146.2 951.9 1145.5 954.3 1144.9 956.7 1144.2 959.1 1143.5 961.6 1142.9 964 1142.2 966.4 1141.5 968.8 1140.9 971.2 1140.2 973.6 1139.6 976 1138.9 978.4 1138.2 980.9 1137.6 983.3 1136.9 985.7 1136.2 988.1 1135.6 990.5 1134.9 992.9 1134.3 995.3 1133.6 997.7 1132.9 1000.2 1132.3 1002.6 1131.6 1005 1131 1007.4 1130.3 1009.8 1129.7 1012.2 1129.1 1014.7 1128.4 1017.1 1127.8 1019.5 1127.2 1021.9 1126.6 1024.4 1126 1026.8 1125.5 1029.2 1124.9 1031.7 1124.4 1034.1 1123.8 1036.6 1123.3 1039 1122.7 1041.4 1122.2 1043.9 1121.6 1046.3 1121.1 1048.8 1120.5 1051.2 1119.9 1053.6 1119.3 1056 1118.7 1058.5 1118.1 1060.9 1117.5 1063.3 1116.8 1065.7 1116.2 1068.1 1115.5 1070.5 1114.8 1072.9 1114.1 1075.3 1113.4 1077.7 1112.7 1080.1 1112 1082.5 1111.3 1084.9 1110.5 1087.3 1109.8 1089.7 1109.1 1092.1 1108.4 1094.5 1107.6 1096.9 1106.9 1099.3 1106.2 1101.7 1105.5 1104.1 1104.7 1106.5 1104 1108.9 1103.3 1111.2 1102.5 1113.6 1101.8 1116 1101.1 1118.4 1100.3 1120.8 1099.6 1123.2 1098.8 1125.6 1098.1 1128 1097.4 1130.4 1096.7 1132.8 1095.9 1135.2 1095.2 1137.6 1094.5 1140 1093.8 1142.4 1093.1 1144.8 1092.4 1147.2 1091.7 1149.6 1091 1152 1090.3 1154.4 1089.6 1156.8 1089 1159.2 1088.3 1161.6 1087.6 1164 1087 1166.5 1086.3 1168.9 1085.7 1171.3 1085 1173.7 1084.4 1176.1 1083.7 1178.5 1083.1 1181 1082.4 1183.4 1081.8 1185.8 1081.1 1188.2 1080.5 1190.6 1079.8 1193 1079.2 1195.4 1078.5 1197.9 1077.9 1200.3 1077.2 1202.7 1076.5 1205.1 1075.9 1207.5 1075.2 1209.9 1074.6 1212.3 1073.9 1214.8 1073.2 1217.2 1072.6 1219.6 1071.9 1222 1071.2 1224.4 1070.5 1226.8 1069.9 1229.2 1069.2 1231.6 1068.5 1234 1067.8 1236.4 1067.2 1238.8 1066.5 1241.3 1065.8 1243.7 1065.1 1246.1 1064.5 1248.5 1063.8 1250.9 1063.1 1253.3 1062.5 1255.7 1061.8 1258.1 1061.2 1260.6 1060.5 1263 1059.8 1265.4 1059.2 1267.8 1058.5 1270.2 1057.8 1272.6 1057.2 1275 1056.5 1277.4 1055.8 1279.8 1055.1 1282.2 1054.4 1284.6 1053.7 1287 1053 1289.4 1052.3 1291.8 1051.6 1294.2 1050.9 1296.6 1050.2 1299 1049.5 1301.4 1048.8 1303.8 1048.1 1306.2 1047.4 1308.7 1046.7 1311.1 1046 1313.5 1045.3 1315.9 1044.7 1318.3 1044 1320.7 1043.3 1323.1 1042.6 1325.5 1042 1327.9 1041.3 1330.3 1040.7 1332.8 1040 1335.2 1039.4 1337.6 1038.8 1340 1038.2 1342.5 1037.6 1344.9 1036.9 1347.3 1036.4 1349.7 1035.8 1352.2 1035.2 1354.6 1034.6 1357.1 1034.1 1359.5 1033.6 1361.9 1033 1364.4 1032.5 1366.8 1032 1369.3 1031.5 1371.7 1031 1374.2 1030.5 1376.6 1030 1379.1 1029.5 1381.5 1029 1384 1028.5 1386.5 1028 1388.9 1027.5 1391.4 1027 1393.8 1026.5 1396.3 1026 1398.7 1025.6 1401.2 1025.1 1403.6 1024.6 1406.1 1024.1 1408.5 1023.6 1411 1023.1 1413.5 1022.7 1415.9 1022.2 1418.4 1021.7 1420.8 1021.3 1423.3 1020.8 1425.8 1020.4 1428.2 1020 1430.7 1019.5 1433.1 1019.1 1435.6 1018.7 1438.1 1018.3 1440.6 1017.9 1443 1017.5 1445.5 1017.1 1448 1016.7 1450.4 1016.3 1452.9 1016 1455.4 1015.6 1457.9 1015.2 1460.3 1014.8 1462.8 1014.4 1465.3 1014 1467.7 1013.6 1470.2 1013.2 1472.7 1012.8 1475.1 1012.4 1477.6 1011.9 1480.1 1011.5 1482.5 1011.1 1485 1010.7 1487.5 1010.3 1489.9 1009.9 1492.4 1009.4 1494.9 1009 1497.3 1008.6 1499.8 1008.2 1502.3 1007.7 1504.7 1007.3 1507.2 1006.9 1509.7 1006.4 1512.1 1006 1514.6 1005.6 1517 1005.1 1519.5 1004.7 1522 1004.2 1524.4 1003.7 1526.9 1003.3 1529.3 1002.8 1531.8 1002.3 1534.3 1001.8 1536.7 1001.3 1539.2 1000.9 1541.6 1000.4 1544.1 999.9 1546.5 999.4 1549 998.9 1551.4 998.4 1553.9 998 1556.3 997.5 1558.8 997 1561.3 996.5 1563.7 996.1 1566.2 995.6 1568.6 995.2 1571.1 994.7 1573.6 994.3 1576 993.8 1578.5 993.4 1581 993 1583.4 992.5 1585.9 992.1 1588.4 991.7 1590.8 991.3 1593.3 990.9 1595.8 990.5 1598.2 990 1600.7 989.6 1603.2 989.2 1605.6 988.8 1608.1 988.4 1610.6 988 1613 987.6 1615.5 987.2 1618 986.8 1620.4 986.3 1622.9 985.9 1625.4 985.5 1627.8 985.1 1630.3 984.7 1632.8 984.3 1635.2 983.8 1637.7 983.4 1640.2 983 1642.6 982.6 1645.1 982.1 1647.6 981.7 1650 981.3 1652.5 980.8 1655 980.4 1657.4 980 1659.9 979.6 1662.3 979.1 1664.8 978.7 1667.3 978.3 1669.7 977.8 1672.2 977.4 1674.7 977 1677.1 976.5 1679.6 976.1 1682 975.6 1684.5 975.1 1686.9 974.6 1689.4 974.1 1691.8 973.6 1694.3 973.1 1696.7 972.6 1699.2 972 1701.6 971.5 1704.1 970.9 1706.5 970.4 1708.9 969.8 1711.4 969.3 1713.8 968.7 1716.3 968.2 1718.7 967.6 1721.1 967 1723.6 966.5 1726 965.9 1728.5 965.4 1730.9 964.8 1733.3 964.3 1735.8 963.7 1738.2 963.2 1740.7 962.6 1743.1 962.1 1745.5 961.5 1748 961 1750.4 960.4 1752.9 959.9 1755.3 959.3 1757.7 958.8 1760.2 958.2 1762.6 957.6 1765.1 957.1 1767.5 956.5 1769.9 956 1772.4 955.4 1774.8 954.8 1777.2 954.3 1779.7 953.7 1782.1 953.1 1784.5 952.5 1787 951.9 1789.4 951.3 1791.8 950.8 1794.3 950.2 1796.7 949.6 1799.1 949 1801.6 948.4 1804 947.8 1806.4 947.2 1808.8 946.6 1811.3 946 1813.7 945.4 1816.1 944.8 1818.6 944.3 1821 943.7 1823.5 943.2 1825.9 942.6 1828.3 942.1 1830.8 941.6 1833.2 941.1 1835.7 940.7 1838.2 940.2 1840.6 939.8 1843.1 939.3 1845.5 938.9 1848 938.5 1850.5 938.1 1853 937.8 1855.4 937.4 1857.9 937 1860.4 936.6 1862.9 936.3 1865.3 935.9 1867.8 935.5" fill="none" stroke="#000000" stroke-width="6" stroke-linejoin="round" stroke-linecap="butt"/>
<rect x="233" y="1225" width="25.6" height="25.6" fill="#000"/>
<rect x="435.7" y="1225" width="25.6" height="25.6" fill="#000"/>
<rect x="638.4" y="1219.1" width="25.6" height="25.6" fill="#000"/>
<rect x="881.7" y="1140.6" width="25.6" height="25.6" fill="#000"/>
<rect x="1043.8" y="1106.4" width="25.6" height="25.6" fill="#000"/>
<rect x="1246.6" y="1046.3" width="25.6" height="25.6" fill="#000"/>
<rect x="1449.3" y="1005.6" width="25.6" height="25.6" fill="#000"/>
<rect x="1652" y="967.7" width="25.6" height="25.6" fill="#000"/>
<rect x="1854.7" y="927.4" width="25.6" height="25.6" fill="#000"/>
<path d="M246 1237.8L248.5 1237.8 251 1237.8 253.5 1237.8 256 1237.8 258.5 1237.8 261 1237.8 263.5 1237.8 266 1237.8 268.5 1237.8 271 1237.8 273.5 1237.8 276 1237.8 278.5 1237.8 281 1237.8 283.5 1237.8 286 1237.8 288.5 1237.8 291 1237.8 293.5 1237.8 296 1237.8 298.5 1237.8 301 1237.8 303.5 1237.8 306 1237.8 308.5 1237.8 311 1237.8 313.5 1237.8 316 1237.8 318.5 1237.8 321 1237.8 323.5 1237.8 326 1237.8 328.5 1237.8 331 1237.8 333.5 1237.8 336 1237.8 338.5 1237.8 341 1237.8 343.5 1237.8 346 1237.8 348.5 1237.8 351 1237.8 353.5 1237.8 356 1237.8 358.5 1237.8 361 1237.8 363.5 1237.8 366 1237.8 368.5 1237.8 371 1237.8 373.5 1237.8 376 1237.8 378.5 1237.8 381 1237.8 383.5 1237.8 386 1237.8 388.5 1237.8 391 1237.8 393.5 1237.8 396 1237.8 398.5 1237.8 401 1237.8 403.5 1237.8 406 1237.8 408.5 1237.8 411 1237.8 413.5 1237.8 416 1237.8 418.5 1237.8 421 1237.8 423.5 1237.8 426 1237.8 428.5 1237.8 431.1 1237.8 433.6 1237.8 436.1 1237.8 438.6 1237.8 441.1 1237.8 443.6 1237.8 446.1 1237.8 448.6 1237.8 451.1 1237.8 453.6 1237.8 456.1 1237.7 458.6 1237.7 461.1 1237.7 463.6 1237.6 466.1 1237.6 468.6 1237.5 471.1 1237.5 473.5 1237.4 476 1237.3 478.5 1237.2 481 1237.1 483.5 1237 486 1236.8 488.5 1236.7 491 1236.6 493.5 1236.4 496 1236.3 498.5 1236.2 501 1236 503.5 1235.9 506 1235.7 508.5 1235.6 511 1235.4 513.5 1235.2 516 1235.1 518.5 1234.9 521 1234.7 523.5 1234.5 526 1234.3 528.5 1234.1 531 1234 533.4 1233.7 535.9 1233.5 538.4 1233.3 540.9 1233.1 543.4 1232.9 545.9 1232.7 548.4 1232.5 550.9 1232.2 553.4 1232 555.9 1231.7 558.3 1231.5 560.8 1231.2 563.3 1231 565.8 1230.7 568.3 1230.4 570.8 1230.1 573.2 1229.8 575.7 1229.5 578.2 1229.2 580.7 1228.8 583.2 1228.5 585.6 1228.2 588.1 1227.8 590.6 1227.4 593.1 1227.1 595.5 1226.7 598 1226.3 600.5 1225.9 602.9 1225.5 605.4 1225 607.9 1224.6 610.3 1224.2 612.8 1223.7 615.2 1223.2 617.7 1222.7 620.1 1222.2 622.6 1221.7 625 1221.2 627.5 1220.7 629.9 1220.1 632.3 1219.6 634.8 1219 637.2 1218.4 639.6 1217.8 642 1217.2 644.4 1216.5 646.9 1215.9 649.3 1215.2 651.7 1214.5 654.1 1213.8 656.4 1213.1 658.8 1212.4 661.2 1211.6 663.6 1210.8 666 1210 668.3 1209.2 670.7 1208.4 673 1207.5 675.3 1206.7 677.7 1205.8 680 1204.8 682.3 1203.9 684.6 1202.9 686.9 1201.9 689.2 1200.9 691.4 1199.9 693.7 1198.9 696 1197.9 698.3 1196.8 700.6 1195.8 702.9 1194.8 705.1 1193.8 707.4 1192.8 709.7 1191.8 712 1190.8 714.3 1189.8 716.6 1188.8 718.9 1187.8 721.2 1186.8 723.4 1185.7 725.7 1184.7 728 1183.7 730.3 1182.7 732.6 1181.6 734.8 1180.6 737.1 1179.5 739.4 1178.5 741.6 1177.4 743.9 1176.3 746.2 1175.3 748.4 1174.2 750.7 1173.1 752.9 1172 755.2 1171 757.4 1169.9 759.7 1168.8 761.9 1167.7 764.2 1166.6 766.5 1165.6 768.7 1164.5 771 1163.4 773.2 1162.4 775.5 1161.3 777.8 1160.2 780 1159.2 782.3 1158.1 784.6 1157.1 786.8 1156 789.1 1155 791.4 1153.9 793.6 1152.9 795.9 1151.9 798.2 1150.8 800.5 1149.8 802.8 1148.8 805.1 1147.8 807.4 1146.8 809.7 1145.8 812 1144.9 814.3 1143.9 816.6 1143 818.9 1142 821.2 1141.1 823.5 1140.1 825.9 1139.2 828.2 1138.3 830.5 1137.4 832.8 1136.4 835.2 1135.5 837.5 1134.6 839.8 1133.7 842.2 1132.9 844.5 1132 846.8 1131.1 849.2 1130.2 851.5 1129.3 853.9 1128.5 856.2 1127.6 858.6 1126.7 860.9 1125.9 863.3 1125 865.6 1124.2 868 1123.3 870.3 1122.5 872.7 1121.7 875 1120.8 877.4 1120 879.8 1119.2 882.1 1118.4 884.5 1117.6 886.9 1116.9 889.3 1116.1 891.7 1115.4 894 1114.6 896.4 1113.9 898.8 1113.2 901.2 1112.5 903.6 1111.8 906 1111.1 908.4 1110.4 910.8 1109.7 913.3 1109.1 915.7 1108.5 918.1 1107.9 920.5 1107.3 922.9 1106.7 925.4 1106.1 927.8 1105.5 930.3 1105 932.7 1104.4 935.1 1103.9 937.6 1103.4 940 1102.9 942.5 1102.4 944.9 1101.8 947.4 1101.3 949.8 1100.8 952.3 1100.3 954.7 1099.8 957.2 1099.3 959.6 1098.8 962.1 1098.3 964.5 1097.7 966.9 1097.2 969.4 1096.7 971.8 1096.1 974.3 1095.6 976.7 1095.1 979.2 1094.5 981.6 1094 984 1093.4 986.5 1092.8 988.9 1092.3 991.3 1091.7 993.8 1091.2 996.2 1090.6 998.7 1090 1001.1 1089.5 1003.5 1088.9 1006 1088.4 1008.4 1087.8 1010.8 1087.2 1013.3 1086.7 1015.7 1086.1 1018.2 1085.6 1020.6 1085 1023 1084.5 1025.5 1083.9 1027.9 1083.4 1030.4 1082.8 1032.8 1082.3 1035.2 1081.7 1037.7 1081.2 1040.1 1080.6 1042.6 1080.1 1045 1079.5 1047.4 1079 1049.9 1078.4 1052.3 1077.9 1054.7 1077.3 1057.2 1076.8 1059.6 1076.2 1062 1075.6 1064.5 1075 1066.9 1074.5 1069.3 1073.9 1071.8 1073.3 1074.2 1072.6 1076.6 1072 1079 1071.4 1081.4 1070.7 1083.9 1070.1 1086.3 1069.4 1088.7 1068.8 1091.1 1068.1 1093.5 1067.5 1095.9 1066.8 1098.3 1066.1 1100.7 1065.5 1103.1 1064.8 1105.5 1064.1 1108 1063.4 1110.4 1062.8 1112.8 1062.1 1115.2 1061.4 1117.6 1060.7 1120 1060.1 1122.4 1059.4 1124.8 1058.7 1127.2 1058.1 1129.6 1057.4 1132 1056.7 1134.5 1056.1 1136.9 1055.4 1139.3 1054.8 1141.7 1054.1 1144.1 1053.5 1146.5 1052.9 1149 1052.2 1151.4 1051.6 1153.8 1051 1156.2 1050.4 1158.7 1049.8 1161.1 1049.3 1163.5 1048.7 1166 1048.1 1168.4 1047.5 1170.8 1046.9 1173.3 1046.4 1175.7 1045.8 1178.1 1045.2 1180.6 1044.6 1183 1044 1185.4 1043.5 1187.9 1042.9 1190.3 1042.3 1192.7 1041.7 1195.2 1041.1 1197.6 1040.5 1200 1039.9 1202.4 1039.3 1204.9 1038.7 1207.3 1038.1 1209.7 1037.5 1212.2 1036.9 1214.6 1036.3 1217 1035.7 1219.4 1035.1 1221.9 1034.5 1224.3 1033.9 1226.7 1033.3 1229.1 1032.7 1231.6 1032.1 1234 1031.5 1236.4 1030.9 1238.9 1030.3 1241.3 1029.7 1243.7 1029.2 1246.1 1028.6 1248.6 1028 1251 1027.4 1253.5 1026.9 1255.9 1026.4 1258.3 1025.8 1260.8 1025.3 1263.2 1024.8 1265.7 1024.3 1268.1 1023.8 1270.6 1023.4 1273.1 1022.9 1275.5 1022.5 1278 1022.1 1280.4 1021.7 1282.9 1021.3 1285.4 1020.9 1287.9 1020.5 1290.3 1020.2 1292.8 1019.8 1295.3 1019.5 1297.7 1019.1 1300.2 1018.7 1302.7 1018.4 1305.2 1018 1307.6 1017.6 1310.1 1017.2 1312.6 1016.9 1315.1 1016.5 1317.5 1016.1 1320 1015.7 1322.4 1015.2 1324.9 1014.8 1327.4 1014.4 1329.8 1014 1332.3 1013.5 1334.8 1013.1 1337.2 1012.7 1339.7 1012.2 1342.2 1011.8 1344.6 1011.4 1347.1 1011 1349.6 1010.6 1352 1010.2 1354.5 1009.8 1357 1009.4 1359.4 1009.1 1361.9 1008.7 1364.4 1008.3 1366.9 1008 1369.3 1007.7 1371.8 1007.3 1374.3 1007 1376.8 1006.6 1379.2 1006.3 1381.7 1006 1384.2 1005.6 1386.7 1005.3 1389.2 1005 1391.6 1004.6 1394.1 1004.3 1396.6 1004 1399.1 1003.7 1401.6 1003.3 1404 1003 1406.5 1002.7 1409 1002.4 1411.5 1002 1414 1001.7 1416.4 1001.4 1418.9 1001.1 1421.4 1000.8 1423.9 1000.5 1426.4 1000.2 1428.9 999.9 1431.3 999.7 1433.8 999.4 1436.3 999.1 1438.8 998.9 1441.3 998.6 1443.8 998.3 1446.3 998.1 1448.7 997.8 1451.2 997.6 1453.7 997.3 1456.2 997.1 1458.7 996.8 1461.2 996.6 1463.7 996.3 1466.2 996 1468.6 995.7 1471.1 995.5 1473.6 995.2 1476.1 994.9 1478.6 994.6 1481.1 994.3 1483.5 994.1 1486 993.8 1488.5 993.5 1491 993.2 1493.5 992.9 1496 992.6 1498.5 992.3 1500.9 992 1503.4 991.7 1505.9 991.4 1508.4 991.1 1510.9 990.8 1513.3 990.5 1515.8 990.2 1518.3 989.8 1520.8 989.5 1523.3 989.2 1525.7 988.8 1528.2 988.5 1530.7 988.1 1533.2 987.8 1535.6 987.4 1538.1 987 1540.6 986.7 1543.1 986.3 1545.5 985.9 1548 985.6 1550.5 985.2 1552.9 984.8 1555.4 984.5 1557.9 984.1 1560.4 983.8 1562.8 983.4 1565.3 983 1567.8 982.7 1570.3 982.3 1572.7 982 1575.2 981.6 1577.7 981.3 1580.2 981 1582.7 980.6 1585.1 980.3 1587.6 980 1590.1 979.6 1592.6 979.3 1595 979 1597.5 978.6 1600 978.3 1602.5 978 1605 977.6 1607.4 977.3 1609.9 977 1612.4 976.6 1614.9 976.3 1617.4 976 1619.8 975.7 1622.3 975.3 1624.8 975 1627.3 974.7 1629.8 974.3 1632.2 974 1634.7 973.7 1637.2 973.3 1639.7 973 1642.1 972.6 1644.6 972.3 1647.1 971.9 1649.6 971.6 1652 971.2 1654.5 970.9 1657 970.5 1659.5 970.1 1661.9 969.7 1664.4 969.3 1666.9 968.9 1669.3 968.5 1671.8 968 1674.2 967.6 1676.7 967.1 1679.1 966.6 1681.6 966.2 1684.1 965.7 1686.5 965.2 1688.9 964.6 1691.4 964.1 1693.8 963.6 1696.3 963.1 1698.7 962.5 1701.2 962 1703.6 961.5 1706 960.9 1708.5 960.4 1710.9 959.8 1713.4 959.3 1715.8 958.7 1718.3 958.2 1720.7 957.6 1723.1 957.1 1725.6 956.5 1728 956 1730.4 955.4 1732.9 954.9 1735.3 954.3 1737.8 953.7 1740.2 953.2 1742.6 952.6 1745.1 952 1747.5 951.4 1749.9 950.9 1752.4 950.3 1754.8 949.7 1757.2 949.1 1759.7 948.6 1762.1 948 1764.5 947.4 1767 946.9 1769.4 946.3 1771.8 945.7 1774.3 945.1 1776.7 944.6 1779.1 944 1781.6 943.5 1784 942.9 1786.5 942.3 1788.9 941.8 1791.3 941.2 1793.8 940.7 1796.2 940.1 1798.6 939.6 1801.1 939 1803.5 938.5 1806 937.9 1808.4 937.4 1810.8 936.8 1813.3 936.3 1815.7 935.7 1818.2 935.2 1820.6 934.6 1823 934.1 1825.5 933.5 1827.9 933 1830.4 932.5 1832.8 931.9 1835.2 931.4 1837.7 930.8 1840.1 930.3 1842.6 929.8 1845 929.2 1847.5 928.7 1849.9 928.1 1852.3 927.6 1854.8 927.1 1857.2 926.5 1859.7 926 1862.1 925.5 1864.6 924.9 1867 924.4" fill="none" stroke="#FF0000" stroke-width="6" stroke-linejoin="round" stroke-linecap="butt"/>
<circle cx="245.8" cy="1237.8" r="14.7" fill="#F00"/>
<circle cx="448.5" cy="1237.8" r="14.7" fill="#F00"/>
<circle cx="651.2" cy="1236.6" r="14.7" fill="#F00"/>
<circle cx="853.9" cy="1111.9" r="14.7" fill="#F00"/>
<circle cx="1056.6" cy="1082.6" r="14.7" fill="#F00"/>
<circle cx="1259.4" cy="1021.2" r="14.7" fill="#F00"/>
<circle cx="1462.1" cy="996.3" r="14.7" fill="#F00"/>
<circle cx="1664.8" cy="972.2" r="14.7" fill="#F00"/>
<circle cx="1867.5" cy="924.7" r="14.7" fill="#F00"/>
<path d="M448.7 1237.8L451.2 1237.8 453.7 1237.8 456.2 1237.8 458.7 1237.8 461.2 1237.8 463.7 1237.7 466.2 1237.7 468.7 1237.7 471.2 1237.7 473.7 1237.7 476.2 1237.7 478.7 1237.7 481.3 1237.7 483.8 1237.7 486.3 1237.7 488.8 1237.7 491.3 1237.7 493.8 1237.6 496.3 1237.6 498.8 1237.6 501.3 1237.6 503.8 1237.6 506.3 1237.6 508.8 1237.6 511.3 1237.6 513.8 1237.6 516.3 1237.5 518.8 1237.5 521.3 1237.5 523.8 1237.4 526.3 1237.4 528.8 1237.3 531.3 1237.2 533.8 1237.1 536.3 1236.9 538.8 1236.8 541.3 1236.6 543.8 1236.4 546.3 1236.2 548.8 1235.9 551.2 1235.7 553.7 1235.4 556.2 1235.1 558.7 1234.9 561.2 1234.6 563.7 1234.3 566.2 1234 568.6 1233.6 571.1 1233.3 573.6 1233 576.1 1232.7 578.6 1232.3 581.1 1232 583.5 1231.7 586 1231.3 588.5 1230.9 591 1230.6 593.4 1230.2 595.9 1229.8 598.4 1229.4 600.9 1229 603.3 1228.6 605.8 1228.2 608.3 1227.8 610.7 1227.4 613.2 1227 615.7 1226.6 618.1 1226.1 620.6 1225.7 623.1 1225.3 625.5 1224.8 628 1224.4 630.5 1223.9 632.9 1223.4 635.4 1223 637.8 1222.5 640.3 1222 642.7 1221.5 645.2 1221 647.6 1220.5 650.1 1220 652.5 1219.4 655 1218.9 657.4 1218.3 659.8 1217.7 662.3 1217.1 664.7 1216.5 667.1 1215.9 669.5 1215.3 672 1214.6 674.4 1213.9 676.8 1213.3 679.2 1212.6 681.6 1211.9 684 1211.1 686.4 1210.4 688.8 1209.7 691.2 1209 693.6 1208.2 696 1207.5 698.3 1206.7 700.7 1206 703.1 1205.2 705.5 1204.4 707.9 1203.6 710.2 1202.8 712.6 1202 715 1201.2 717.3 1200.4 719.7 1199.5 722 1198.7 724.4 1197.8 726.7 1196.9 729 1196 731.3 1195 733.7 1194.1 736 1193.1 738.3 1192.1 740.6 1191.1 742.8 1190.1 745.1 1189.1 747.4 1188.1 749.7 1187 751.9 1186 754.2 1184.9 756.5 1183.8 758.7 1182.7 761 1181.7 763.2 1180.6 765.5 1179.5 767.7 1178.4 770 1177.3 772.2 1176.1 774.5 1175 776.7 1173.9 778.9 1172.8 781.2 1171.7 783.4 1170.5 785.7 1169.4 787.9 1168.3 790.2 1167.3 792.4 1166.2 794.7 1165.2 797 1164.2 799.3 1163.3 801.6 1162.4 803.9 1161.5 806.2 1160.7 808.6 1159.9 811 1159.2 813.4 1158.6 815.8 1158 818.2 1157.5 820.6 1157 823.1 1156.5 825.5 1156.1 828 1155.7 830.4 1155.3 832.9 1155 835.4 1154.6 837.9 1154.3 840.3 1153.9 842.8 1153.5 845.3 1153.2 847.8 1152.8 850.2 1152.4 852.7 1152.1 855.2 1151.7 857.6 1151.2 860.1 1150.8 862.6 1150.4 865 1149.9 867.5 1149.4 869.9 1148.9 872.4 1148.4 874.8 1147.9 877.3 1147.4 879.7 1146.8 882.2 1146.3 884.6 1145.7 887 1145.1 889.5 1144.6 891.9 1144 894.3 1143.5 896.8 1142.9 899.2 1142.4 901.7 1141.9 904.1 1141.5 906.6 1141 909.1 1140.6 911.5 1140.2 914 1139.8 916.5 1139.4 918.9 1139.1 921.4 1138.7 923.9 1138.4 926.4 1138.1 928.9 1137.7 931.4 1137.4 933.8 1137.1 936.3 1136.8 938.8 1136.5 941.3 1136.2 943.8 1135.9 946.3 1135.6 948.7 1135.3 951.2 1135 953.7 1134.7 956.2 1134.3 958.7 1134 961.2 1133.7 963.6 1133.3 966.1 1133 968.6 1132.6 971.1 1132.2 973.5 1131.8 976 1131.4 978.5 1131 980.9 1130.5 983.4 1130.1 985.9 1129.6 988.3 1129.2 990.8 1128.7 993.2 1128.2 995.7 1127.7 998.1 1127.3 1000.6 1126.8 1003.1 1126.3 1005.5 1125.8 1008 1125.3 1010.4 1124.8 1012.9 1124.3 1015.3 1123.8 1017.8 1123.3 1020.2 1122.9 1022.7 1122.4 1025.2 1121.9 1027.6 1121.4 1030.1 1120.9 1032.5 1120.4 1035 1120 1037.4 1119.5 1039.9 1119 1042.3 1118.5 1044.8 1118 1047.3 1117.6 1049.7 1117.1 1052.2 1116.6 1054.6 1116.1 1057.1 1115.6 1059.5 1115.1 1062 1114.6 1064.4 1114 1066.9 1113.5 1069.3 1112.9 1071.7 1112.3 1074.2 1111.7 1076.6 1111.1 1079 1110.5 1081.4 1109.9 1083.9 1109.3 1086.3 1108.7 1088.7 1108 1091.1 1107.4 1093.6 1106.8 1096 1106.1 1098.4 1105.5 1100.8 1104.9 1103.3 1104.3 1105.7 1103.6 1108.1 1103 1110.5 1102.4 1113 1101.8 1115.4 1101.2 1117.8 1100.6 1120.3 1100 1122.7 1099.5 1125.1 1098.9 1127.6 1098.3 1130 1097.7 1132.4 1097.2 1134.9 1096.6 1137.3 1096 1139.8 1095.4 1142.2 1094.9 1144.6 1094.3 1147.1 1093.7 1149.5 1093.2 1152 1092.6 1154.4 1092 1156.8 1091.5 1159.3 1090.9 1161.7 1090.3 1164.1 1089.7 1166.6 1089.2 1169 1088.6 1171.5 1088 1173.9 1087.4 1176.3 1086.9 1178.8 1086.3 1181.2 1085.7 1183.6 1085.1 1186.1 1084.5 1188.5 1083.9 1190.9 1083.3 1193.4 1082.7 1195.8 1082.1 1198.2 1081.5 1200.6 1080.9 1203.1 1080.3 1205.5 1079.7 1207.9 1079.1 1210.4 1078.4 1212.8 1077.8 1215.2 1077.2 1217.6 1076.6 1220.1 1076 1222.5 1075.4 1224.9 1074.8 1227.4 1074.2 1229.8 1073.6 1232.2 1073 1234.6 1072.4 1237.1 1071.7 1239.5 1071.2 1241.9 1070.6 1244.4 1070 1246.8 1069.4 1249.2 1068.8 1251.7 1068.2 1254.1 1067.7 1256.6 1067.1 1259 1066.6 1261.4 1066 1263.9 1065.5 1266.3 1065 1268.8 1064.5 1271.2 1064 1273.7 1063.5 1276.1 1063 1278.6 1062.4 1281 1061.9 1283.5 1061.4 1285.9 1060.9 1288.4 1060.4 1290.8 1059.9 1293.3 1059.4 1295.7 1058.8 1298.2 1058.3 1300.6 1057.7 1303.1 1057.2 1305.5 1056.6 1307.9 1056 1310.4 1055.4 1312.8 1054.8 1315.2 1054.2 1317.6 1053.6 1320.1 1052.9 1322.5 1052.3 1324.9 1051.6 1327.3 1050.9 1329.7 1050.3 1332.1 1049.6 1334.5 1048.9 1336.9 1048.2 1339.3 1047.5 1341.7 1046.9 1344.2 1046.2 1346.6 1045.6 1349 1044.9 1351.4 1044.3 1353.8 1043.7 1356.3 1043.1 1358.7 1042.6 1361.2 1042 1363.6 1041.5 1366 1040.9 1368.5 1040.4 1370.9 1039.9 1373.4 1039.4 1375.8 1038.9 1378.3 1038.4 1380.7 1037.9 1383.2 1037.4 1385.7 1036.9 1388.1 1036.4 1390.6 1035.9 1393 1035.4 1395.5 1035 1397.9 1034.5 1400.4 1034 1402.8 1033.5 1405.3 1033 1407.8 1032.5 1410.2 1032 1412.7 1031.6 1415.1 1031.1 1417.6 1030.6 1420.1 1030.2 1422.5 1029.7 1425 1029.2 1427.4 1028.8 1429.9 1028.4 1432.4 1027.9 1434.8 1027.5 1437.3 1027.1 1439.8 1026.7 1442.2 1026.3 1444.7 1025.9 1447.2 1025.4 1449.7 1025 1452.1 1024.6 1454.6 1024.2 1457.1 1023.8 1459.5 1023.3 1462 1022.9 1464.5 1022.5 1466.9 1022 1469.4 1021.6 1471.8 1021.1 1474.3 1020.6 1476.8 1020.2 1479.2 1019.7 1481.7 1019.2 1484.1 1018.7 1486.6 1018.2 1489 1017.8 1491.5 1017.3 1494 1016.8 1496.4 1016.3 1498.9 1015.8 1501.3 1015.3 1503.8 1014.8 1506.2 1014.4 1508.7 1013.9 1511.2 1013.4 1513.6 1012.9 1516.1 1012.4 1518.5 1012 1521 1011.5 1523.4 1011 1525.9 1010.5 1528.4 1010.1 1530.8 1009.6 1533.3 1009.1 1535.7 1008.7 1538.2 1008.2 1540.7 1007.7 1543.1 1007.3 1545.6 1006.8 1548 1006.4 1550.5 1005.9 1553 1005.4 1555.4 1005 1557.9 1004.5 1560.4 1004.1 1562.8 1003.6 1565.3 1003.2 1567.7 1002.8 1570.2 1002.3 1572.7 1001.9 1575.1 1001.5 1577.6 1001 1580.1 1000.6 1582.5 1000.2 1585 999.8 1587.5 999.3 1590 998.9 1592.4 998.5 1594.9 998.1 1597.4 997.7 1599.8 997.2 1602.3 996.8 1604.8 996.4 1607.2 995.9 1609.7 995.5 1612.2 995.1 1614.6 994.6 1617.1 994.2 1619.6 993.7 1622 993.3 1624.5 992.8 1626.9 992.4 1629.4 991.9 1631.9 991.4 1634.3 990.9 1636.8 990.5 1639.2 989.9 1641.7 989.4 1644.1 988.9 1646.6 988.4 1649 987.9 1651.4 987.3 1653.9 986.8 1656.3 986.3 1658.8 985.7 1661.2 985.2 1663.7 984.7 1666.1 984.1 1668.6 983.6 1671 983.1 1673.5 982.6 1675.9 982.1 1678.4 981.7 1680.8 981.2 1683.3 980.7 1685.8 980.2 1688.2 979.7 1690.7 979.2 1693.1 978.7 1695.6 978.2 1698 977.8 1700.5 977.3 1702.9 976.8 1705.4 976.3 1707.8 975.8 1710.3 975.3 1712.8 974.8 1715.2 974.3 1717.7 973.8 1720.1 973.3 1722.6 972.8 1725 972.3 1727.5 971.8 1729.9 971.3 1732.4 970.8 1734.8 970.3 1737.3 969.8 1739.7 969.3 1742.2 968.8 1744.7 968.3 1747.1 967.8 1749.6 967.3 1752 966.8 1754.5 966.4 1756.9 965.9 1759.4 965.4 1761.8 964.9 1764.3 964.4 1766.8 963.9 1769.2 963.4 1771.7 962.9 1774.1 962.4 1776.6 961.9 1779 961.4 1781.5 961 1783.9 960.5 1786.4 960 1788.9 959.5 1791.3 959 1793.8 958.5 1796.2 958 1798.7 957.5 1801.1 957 1803.6 956.5 1806 956.1 1808.5 955.6 1811 955.1 1813.4 954.6 1815.9 954.1 1818.3 953.7 1820.8 953.2 1823.3 952.8 1825.7 952.3 1828.2 951.9 1830.7 951.5 1833.1 951.1 1835.6 950.7 1838.1 950.3 1840.5 949.9 1843 949.5 1845.5 949.1 1848 948.8 1850.4 948.4 1852.9 948.1 1855.4 947.7 1857.9 947.4 1860.4 947 1862.8 946.7 1865.3 946.3 1867.8 946" fill="none" stroke="#0000FF" stroke-width="6" stroke-linejoin="round" stroke-linecap="butt"/>
<polygon points="448.5,1217.5 466.1,1248 430.9,1248" fill="#00F"/>
<polygon points="651.2,1219.9 668.8,1250.3 633.6,1250.3" fill="#00F"/>
<polygon points="813.4,1135.7 831,1166.1 795.8,1166.1" fill="#00F"/>
<polygon points="1056.6,1099.3 1074.2,1129.7 1039.1,1129.7" fill="#00F"/>
<polygon points="1259.4,1041.3 1276.9,1071.7 1241.8,1071.7" fill="#00F"/>
<polygon points="1462.1,1003.7 1479.7,1034.2 1444.5,1034.2" fill="#00F"/>
<polygon points="1664.8,962.6 1682.4,993 1647.2,993" fill="#00F"/>
<polygon points="1867.5,927.7 1885.1,958.1 1849.9,958.1" fill="#00F"/>
<path d="M448.7 1237.8L451 1236.9 453.4 1236.1 455.7 1235.2 458.1 1234.4 460.5 1233.7 462.9 1233 465.3 1232.3 467.7 1231.7 470.1 1231.1 472.6 1230.5 475 1229.9 477.4 1229.3 479.8 1228.7 482.3 1228.1 484.7 1227.5 487.1 1226.9 489.6 1226.4 492 1225.8 494.4 1225.2 496.9 1224.6 499.3 1224 501.7 1223.4 504.2 1222.8 506.6 1222.2 509 1221.6 511.4 1221 513.9 1220.4 516.3 1219.8 518.7 1219.2 521.1 1218.5 523.6 1217.9 526 1217.3 528.4 1216.7 530.8 1216 533.2 1215.4 535.7 1214.8 538.1 1214.1 540.5 1213.5 542.9 1212.9 545.4 1212.3 547.8 1211.6 550.2 1211 552.6 1210.4 555.1 1209.9 557.5 1209.3 559.9 1208.7 562.4 1208.2 564.8 1207.7 567.3 1207.1 569.7 1206.6 572.2 1206.2 574.6 1205.7 577.1 1205.2 579.5 1204.8 582 1204.3 584.4 1203.8 586.9 1203.3 589.3 1202.9 591.8 1202.4 594.2 1201.9 596.7 1201.4 599.1 1200.9 601.5 1200.4 604 1199.9 606.4 1199.4 608.8 1198.9 611.3 1198.4 613.7 1198 616.1 1197.6 618.6 1197.2 621.1 1196.9 623.5 1196.6 626 1196.2 628.4 1195.9 630.9 1195.6 633.4 1195.3 635.9 1195 638.3 1194.6 640.8 1194.3 643.3 1193.9 645.7 1193.5 648.2 1193.1 650.7 1192.7 653.1 1192.3 655.6 1191.8 658 1191.4 660.5 1191 663 1190.6 665.4 1190.2 667.9 1189.8 670.4 1189.5 672.8 1189.1 675.3 1188.8 677.8 1188.5 680.3 1188.3 682.8 1188 685.3 1187.8 687.8 1187.6 690.2 1187.4 692.7 1187.2 695.2 1187 697.7 1186.9 700.2 1186.7 702.7 1186.6 705.2 1186.4 707.7 1186.3 710.2 1186.1 712.7 1186 715.2 1185.9 717.7 1185.7 720.2 1185.6 722.7 1185.5 725.2 1185.3 727.7 1185.2 730.2 1185.1 732.7 1185 735.2 1184.9 737.7 1184.8 740.2 1184.6 742.7 1184.5 745.2 1184.4 747.7 1184.3 750.2 1184.2 752.7 1184.1 755.2 1184 757.7 1183.9 760.2 1183.8 762.7 1183.7 765.2 1183.6 767.7 1183.5 770.2 1183.4 772.7 1183.3 775.2 1183.2 777.7 1183.1 780.2 1183 782.7 1182.9 785.2 1182.8 787.7 1182.6 790.2 1182.5 792.7 1182.4 795.2 1182.2 797.7 1182.1 800.2 1182 802.7 1181.8 805.2 1181.7 807.7 1181.6 810.2 1181.4 812.7 1181.3 815.2 1181.2 817.7 1181 820.2 1180.9 822.7 1180.7 825.2 1180.6 827.7 1180.4 830.2 1180.3 832.7 1180.1 835.2 1180 837.6 1179.8 840.1 1179.7 842.6 1179.5 845.1 1179.3 847.6 1179.1 850.1 1178.8 852.6 1178.6 855.1 1178.4 857.6 1178.1 860 1177.8 862.5 1177.5 865 1177.2 867.5 1176.9 870 1176.6 872.5 1176.2 874.9 1175.9 877.4 1175.6 879.9 1175.3 882.4 1175 884.9 1174.7 887.3 1174.4 889.8 1174.1 892.3 1173.9 894.8 1173.6 897.3 1173.3 899.8 1173.1 902.3 1172.8 904.8 1172.6 907.3 1172.3 909.7 1172.1 912.2 1171.8 914.7 1171.6 917.2 1171.4 919.7 1171.1 922.2 1170.9 924.7 1170.6 927.2 1170.4 929.7 1170.1 932.2 1169.9 934.6 1169.7 937.1 1169.4 939.6 1169.2 942.1 1168.9 944.6 1168.7 947.1 1168.4 949.6 1168.2 952.1 1167.9 954.6 1167.6 957 1167.4 959.5 1167.1 962 1166.8 964.5 1166.5 967 1166.2 969.4 1165.8 971.9 1165.5 974.4 1165.1 976.9 1164.7 979.3 1164.3 981.8 1163.9 984.3 1163.5 986.7 1163.1 989.2 1162.6 991.6 1162.2 994.1 1161.7 996.6 1161.2 999 1160.7 1001.5 1160.3 1003.9 1159.8 1006.4 1159.3 1008.8 1158.8 1011.3 1158.3 1013.7 1157.8 1016.2 1157.3 1018.6 1156.8 1021.1 1156.3 1023.5 1155.9 1026 1155.4 1028.5 1154.9 1030.9 1154.4 1033.4 1154 1035.8 1153.5 1038.3 1153.1 1040.7 1152.6 1043.2 1152.2 1045.7 1151.8 1048.1 1151.3 1050.6 1150.9 1053.1 1150.5 1055.5 1150.1 1058 1149.7 1060.5 1149.3 1062.9 1148.8 1065.4 1148.4 1067.8 1147.9 1070.3 1147.4 1072.8 1147 1075.2 1146.5 1077.7 1146 1080.1 1145.4 1082.5 1144.9 1085 1144.4 1087.4 1143.8 1089.9 1143.3 1092.3 1142.7 1094.7 1142.1 1097.2 1141.6 1099.6 1141 1102 1140.4 1104.5 1139.8 1106.9 1139.2 1109.3 1138.6 1111.8 1138 1114.2 1137.4 1116.6 1136.8 1119 1136.1 1121.5 1135.5 1123.9 1134.9 1126.3 1134.3 1128.7 1133.6 1131.1 1133 1133.6 1132.4 1136 1131.7 1138.4 1131.1 1140.8 1130.5 1143.2 1129.9 1145.7 1129.3 1148.1 1128.7 1150.5 1128.1 1153 1127.5 1155.4 1126.9 1157.8 1126.3 1160.2 1125.7 1162.7 1125.1 1165.1 1124.5 1167.5 1123.9 1170 1123.3 1172.4 1122.7 1174.8 1122.1 1177.2 1121.4 1179.6 1120.8 1182.1 1120.1 1184.5 1119.5 1186.9 1118.8 1189.3 1118.1 1191.7 1117.3 1194 1116.6 1196.4 1115.9 1198.8 1115.1 1201.2 1114.4 1203.6 1113.7 1206 1113 1208.4 1112.2 1210.8 1111.6 1213.2 1110.9 1215.6 1110.2 1218 1109.6 1220.4 1108.9 1222.9 1108.3 1225.3 1107.7 1227.7 1107.2 1230.1 1106.6 1232.6 1106 1235 1105.5 1237.5 1104.9 1239.9 1104.4 1242.4 1103.8 1244.8 1103.3 1247.2 1102.8 1249.7 1102.2 1252.1 1101.7 1254.6 1101.1 1257 1100.6 1259.4 1100 1261.9 1099.5 1264.3 1098.9 1266.7 1098.3 1269.2 1097.7 1271.6 1097.1 1274 1096.5 1276.4 1095.9 1278.9 1095.2 1281.3 1094.6 1283.7 1093.9 1286.1 1093.2 1288.5 1092.6 1290.9 1091.9 1293.3 1091.2 1295.7 1090.5 1298.1 1089.8 1300.5 1089.1 1302.9 1088.4 1305.3 1087.7 1307.7 1087 1310.1 1086.3 1312.5 1085.6 1314.9 1084.9 1317.3 1084.2 1319.8 1083.6 1322.2 1082.9 1324.6 1082.2 1327 1081.6 1329.4 1080.9 1331.8 1080.3 1334.2 1079.6 1336.7 1079 1339.1 1078.3 1341.5 1077.7 1343.9 1077 1346.3 1076.4 1348.7 1075.7 1351.2 1075.1 1353.6 1074.4 1356 1073.8 1358.4 1073.2 1360.8 1072.5 1363.2 1071.9 1365.7 1071.2 1368.1 1070.6 1370.5 1070 1372.9 1069.3 1375.3 1068.7 1377.8 1068.1 1380.2 1067.5 1382.6 1066.9 1385.1 1066.3 1387.5 1065.7 1389.9 1065.1 1392.4 1064.6 1394.8 1064 1397.2 1063.5 1399.7 1063 1402.1 1062.5 1404.6 1061.9 1407 1061.4 1409.5 1060.9 1411.9 1060.4 1414.4 1059.9 1416.8 1059.4 1419.3 1058.9 1421.7 1058.4 1424.2 1057.9 1426.6 1057.4 1429.1 1056.9 1431.5 1056.4 1434 1055.9 1436.4 1055.4 1438.9 1054.9 1441.3 1054.4 1443.8 1053.9 1446.2 1053.4 1448.7 1052.9 1451.1 1052.3 1453.6 1051.8 1456 1051.3 1458.5 1050.7 1460.9 1050.2 1463.3 1049.6 1465.8 1049.1 1468.2 1048.5 1470.7 1047.9 1473.1 1047.4 1475.5 1046.8 1478 1046.2 1480.4 1045.6 1482.8 1045 1485.3 1044.4 1487.7 1043.8 1490.1 1043.2 1492.5 1042.6 1495 1042.1 1497.4 1041.5 1499.8 1040.9 1502.3 1040.3 1504.7 1039.7 1507.1 1039.1 1509.6 1038.5 1512 1037.9 1514.4 1037.3 1516.9 1036.8 1519.3 1036.2 1521.7 1035.6 1524.2 1035 1526.6 1034.5 1529 1033.9 1531.5 1033.4 1533.9 1032.8 1536.4 1032.2 1538.8 1031.7 1541.2 1031.1 1543.7 1030.6 1546.1 1030 1548.6 1029.5 1551 1028.9 1553.4 1028.4 1555.9 1027.8 1558.3 1027.3 1560.8 1026.7 1563.2 1026.2 1565.6 1025.6 1568.1 1025.1 1570.5 1024.5 1573 1023.9 1575.4 1023.4 1577.8 1022.8 1580.3 1022.2 1582.7 1021.7 1585.1 1021.1 1587.6 1020.5 1590 1020 1592.5 1019.4 1594.9 1018.8 1597.3 1018.3 1599.8 1017.7 1602.2 1017.1 1604.6 1016.6 1607.1 1016 1609.5 1015.4 1611.9 1014.9 1614.4 1014.3 1616.8 1013.7 1619.3 1013.2 1621.7 1012.6 1624.1 1012 1626.6 1011.5 1629 1010.9 1631.5 1010.4 1633.9 1009.9 1636.3 1009.3 1638.8 1008.8 1641.2 1008.3 1643.7 1007.8 1646.1 1007.3 1648.6 1006.9 1651.1 1006.4 1653.5 1005.9 1656 1005.5 1658.4 1005.1 1660.9 1004.6 1663.4 1004.2 1665.8 1003.7 1668.3 1003.3 1670.7 1002.9 1673.2 1002.4 1675.7 1001.9 1678.1 1001.5 1680.6 1001 1683 1000.5 1685.5 1000 1687.9 999.5 1690.4 999 1692.8 998.4 1695.3 997.9 1697.7 997.4 1700.1 996.8 1702.6 996.3 1705 995.7 1707.5 995.2 1709.9 994.6 1712.3 994.1 1714.8 993.5 1717.2 992.9 1719.7 992.4 1722.1 991.8 1724.5 991.3 1727 990.7 1729.4 990.2 1731.9 989.6 1734.3 989 1736.7 988.5 1739.2 987.9 1741.6 987.4 1744.1 986.8 1746.5 986.3 1748.9 985.7 1751.4 985.2 1753.8 984.6 1756.3 984.1 1758.7 983.5 1761.1 983 1763.6 982.4 1766 981.9 1768.5 981.3 1770.9 980.8 1773.4 980.2 1775.8 979.7 1778.2 979.1 1780.7 978.6 1783.1 978 1785.6 977.5 1788 977 1790.4 976.4 1792.9 975.9 1795.3 975.3 1797.8 974.8 1800.2 974.2 1802.6 973.6 1805.1 973.1 1807.5 972.5 1810 972 1812.4 971.4 1814.8 970.8 1817.3 970.3 1819.7 969.7 1822.1 969.1 1824.5 968.5 1827 967.9 1829.4 967.2 1831.8 966.6 1834.2 965.9 1836.6 965.3 1839 964.6 1841.4 963.9 1843.9 963.2 1846.3 962.5 1848.7 961.8 1851 961.1 1853.4 960.4 1855.8 959.6 1858.2 958.9 1860.6 958.2 1863 957.5 1865.4 956.7 1867.8 956" fill="none" stroke="#008080" stroke-width="6" stroke-linejoin="round" stroke-linecap="butt"/>
<polygon points="448.5,1258.1 466.1,1227.6 430.9,1227.6" fill="#008080"/>
<polygon points="610.7,1216 628.3,1185.6 593.1,1185.6" fill="#008080"/>
<polygon points="651.2,1212.7 668.8,1182.2 633.6,1182.2" fill="#008080"/>
<polygon points="853.9,1201.1 871.5,1170.6 836.4,1170.6" fill="#008080"/>
<polygon points="1056.6,1179.2 1074.2,1148.8 1039.1,1148.8" fill="#008080"/>
<polygon points="1259.4,1117 1276.9,1086.5 1241.8,1086.5" fill="#008080"/>
<polygon points="1462.1,1066 1479.7,1035.6 1444.5,1035.6" fill="#008080"/>
<polygon points="1664.8,1023.3 1682.4,992.9 1647.2,992.9" fill="#008080"/>
<polygon points="1867.5,975.4 1885.1,945 1849.9,945" fill="#008080"/>
<path d="M246 1237.8L248.4 1237 250.7 1236.2 253.1 1235.4 255.5 1234.7 257.9 1234 260.3 1233.3 262.7 1232.7 265.2 1232.1 267.6 1231.5 270 1230.8 272.4 1230.2 274.8 1229.6 277.3 1229 279.7 1228.4 282.1 1227.8 284.6 1227.3 287 1226.7 289.4 1226.1 291.9 1225.5 294.3 1224.9 296.7 1224.3 299.2 1223.7 301.6 1223.1 304 1222.6 306.4 1222 308.9 1221.4 311.3 1220.8 313.7 1220.2 316.2 1219.6 318.6 1219 321 1218.4 323.5 1217.8 325.9 1217.3 328.3 1216.7 330.8 1216.1 333.2 1215.5 335.6 1214.9 338 1214.3 340.5 1213.7 342.9 1213.1 345.3 1212.5 347.8 1211.9 350.2 1211.3 352.6 1210.7 355.1 1210.2 357.5 1209.6 359.9 1209 362.4 1208.4 364.8 1207.8 367.2 1207.2 369.7 1206.7 372.1 1206.1 374.5 1205.5 377 1205 379.4 1204.4 381.8 1203.8 384.3 1203.3 386.7 1202.7 389.2 1202.2 391.6 1201.7 394 1201.2 396.5 1200.7 398.9 1200.2 401.4 1199.8 403.9 1199.3 406.3 1198.9 408.8 1198.5 411.3 1198.2 413.7 1197.8 416.2 1197.5 418.7 1197.3 421.2 1197 423.7 1196.8 426.1 1196.6 428.6 1196.4 431.1 1196.2 433.6 1196.1 436.1 1196 438.6 1195.9 441.1 1195.8 443.6 1195.7 446.1 1195.6 448.6 1195.6 451.1 1195.5 453.6 1195.5 456.1 1195.5 458.6 1195.4 461.1 1195.4 463.6 1195.4 466.1 1195.4 468.6 1195.3 471.1 1195.3 473.6 1195.3 476.1 1195.3 478.6 1195.3 481.1 1195.3 483.6 1195.3 486.1 1195.2 488.6 1195.2 491.1 1195.2 493.6 1195.2 496.1 1195.2 498.6 1195.2 501.1 1195.2 503.6 1195.2 506.1 1195.2 508.6 1195.2 511.1 1195.2 513.6 1195.2 516.1 1195.2 518.6 1195.2 521.1 1195.2 523.6 1195.2 526.1 1195.2 528.6 1195.2 531.1 1195.2 533.6 1195.2 536.1 1195.2 538.7 1195.1 541.2 1195.1 543.7 1195.1 546.2 1195.1 548.7 1195 551.2 1195 553.7 1195 556.2 1194.9 558.7 1194.8 561.2 1194.8 563.7 1194.7 566.2 1194.6 568.7 1194.6 571.2 1194.5 573.7 1194.4 576.2 1194.3 578.7 1194.3 581.2 1194.2 583.7 1194.1 586.2 1194 588.7 1193.9 591.2 1193.8 593.7 1193.8 596.2 1193.7 598.7 1193.6 601.2 1193.5 603.7 1193.5 606.2 1193.4 608.7 1193.3 611.2 1193.2 613.7 1193.2 616.2 1193.1 618.7 1193.1 621.2 1193 623.7 1193 626.2 1192.9 628.7 1192.9 631.2 1192.8 633.7 1192.8 636.2 1192.7 638.7 1192.7 641.2 1192.6 643.7 1192.6 646.2 1192.5 648.7 1192.4 651.2 1192.4 653.7 1192.3 656.2 1192.2 658.7 1192.1 661.2 1192 663.7 1191.9 666.2 1191.8 668.7 1191.7 671.2 1191.6 673.7 1191.5 676.2 1191.4 678.7 1191.3 681.2 1191.2 683.7 1191.1 686.2 1191 688.7 1190.9 691.2 1190.7 693.7 1190.6 696.2 1190.5 698.7 1190.4 701.1 1190.3 703.6 1190.2 706.1 1190.1 708.6 1190 711.1 1189.8 713.6 1189.7 716.1 1189.6 718.6 1189.5 721.1 1189.4 723.6 1189.3 726.1 1189.2 728.6 1189.1 731.1 1189 733.6 1188.8 736.1 1188.7 738.6 1188.6 741.1 1188.5 743.6 1188.4 746.1 1188.3 748.6 1188.2 751.1 1188.1 753.6 1188 756.1 1187.9 758.6 1187.7 761.1 1187.6 763.6 1187.5 766.1 1187.4 768.6 1187.3 771.1 1187.2 773.6 1187.1 776.1 1187 778.6 1186.9 781.1 1186.7 783.6 1186.6 786.1 1186.5 788.6 1186.4 791.1 1186.3 793.6 1186.1 796.1 1186 798.6 1185.9 801.1 1185.8 803.6 1185.6 806.1 1185.5 808.6 1185.4 811.1 1185.3 813.6 1185.1 816.1 1185 818.6 1184.9 821.1 1184.7 823.6 1184.6 826.1 1184.5 828.6 1184.3 831.1 1184.2 833.6 1184.1 836.1 1183.9 838.6 1183.8 841.1 1183.6 843.6 1183.4 846.1 1183.3 848.5 1183.1 851 1182.9 853.5 1182.7 856 1182.5 858.5 1182.3 861 1182 863.5 1181.8 866 1181.5 868.5 1181.3 871 1181 873.4 1180.7 875.9 1180.5 878.4 1180.2 880.9 1179.9 883.4 1179.7 885.9 1179.4 888.4 1179.1 890.8 1178.8 893.3 1178.6 895.8 1178.3 898.3 1178 900.8 1177.7 903.3 1177.5 905.8 1177.2 908.2 1176.9 910.7 1176.7 913.2 1176.4 915.7 1176.1 918.2 1175.8 920.7 1175.6 923.2 1175.3 925.7 1175 928.1 1174.8 930.6 1174.5 933.1 1174.2 935.6 1174 938.1 1173.7 940.6 1173.4 943.1 1173.1 945.5 1172.9 948 1172.6 950.5 1172.3 953 1172 955.5 1171.7 958 1171.5 960.5 1171.2 962.9 1170.9 965.4 1170.6 967.9 1170.2 970.4 1169.9 972.9 1169.6 975.3 1169.2 977.8 1168.9 980.3 1168.5 982.8 1168.1 985.2 1167.7 987.7 1167.3 990.2 1167 992.6 1166.6 995.1 1166.2 997.6 1165.8 1000 1165.4 1002.5 1165 1005 1164.7 1007.5 1164.3 1009.9 1163.9 1012.4 1163.6 1014.9 1163.2 1017.4 1162.9 1019.9 1162.6 1022.3 1162.3 1024.8 1161.9 1027.3 1161.6 1029.8 1161.3 1032.3 1161 1034.7 1160.7 1037.2 1160.3 1039.7 1160 1042.2 1159.6 1044.6 1159.3 1047.1 1158.9 1049.6 1158.5 1052 1158.1 1054.5 1157.6 1056.9 1157.2 1059.4 1156.7 1061.8 1156.2 1064.3 1155.7 1066.7 1155.1 1069.1 1154.5 1071.6 1154 1074 1153.4 1076.4 1152.8 1078.8 1152.2 1081.3 1151.7 1083.7 1151.1 1086.1 1150.5 1088.6 1149.9 1091 1149.3 1093.4 1148.7 1095.9 1148.2 1098.3 1147.6 1100.7 1147 1103.2 1146.4 1105.6 1145.8 1108 1145.2 1110.4 1144.6 1112.9 1144 1115.3 1143.4 1117.7 1142.7 1120.1 1142.1 1122.6 1141.5 1125 1140.9 1127.4 1140.2 1129.8 1139.6 1132.2 1139 1134.7 1138.3 1137.1 1137.7 1139.5 1137.1 1141.9 1136.5 1144.4 1135.8 1146.8 1135.2 1149.2 1134.6 1151.6 1134 1154.1 1133.4 1156.5 1132.8 1158.9 1132.3 1161.4 1131.7 1163.8 1131.1 1166.2 1130.5 1168.7 1129.9 1171.1 1129.4 1173.5 1128.8 1176 1128.2 1178.4 1127.6 1180.8 1127 1183.3 1126.4 1185.7 1125.8 1188.1 1125.3 1190.5 1124.7 1193 1124.1 1195.4 1123.5 1197.8 1122.9 1200.3 1122.3 1202.7 1121.6 1205.1 1121 1207.5 1120.4 1210 1119.8 1212.4 1119.3 1214.8 1118.7 1217.3 1118.1 1219.7 1117.5 1222.1 1116.9 1224.6 1116.3 1227 1115.7 1229.4 1115.2 1231.9 1114.6 1234.3 1114 1236.7 1113.5 1239.2 1112.9 1241.6 1112.4 1244 1111.8 1246.5 1111.3 1248.9 1110.8 1251.4 1110.3 1253.8 1109.8 1256.3 1109.3 1258.7 1108.8 1261.2 1108.3 1263.6 1107.9 1266.1 1107.4 1268.5 1106.9 1271 1106.4 1273.4 1105.9 1275.8 1105.4 1278.3 1104.9 1280.7 1104.3 1283.1 1103.8 1285.6 1103.2 1288 1102.5 1290.4 1101.9 1292.8 1101.2 1295.2 1100.6 1297.6 1099.9 1300 1099.2 1302.4 1098.5 1304.8 1097.8 1307.2 1097.1 1309.6 1096.4 1312 1095.7 1314.4 1095.1 1316.8 1094.4 1319.2 1093.7 1321.7 1093 1324.1 1092.4 1326.5 1091.7 1328.9 1091.1 1331.3 1090.4 1333.7 1089.8 1336.1 1089.1 1338.6 1088.5 1341 1087.9 1343.4 1087.2 1345.8 1086.6 1348.2 1086 1350.7 1085.4 1353.1 1084.8 1355.5 1084.2 1358 1083.6 1360.4 1083 1362.8 1082.4 1365.3 1081.8 1367.7 1081.2 1370.1 1080.7 1372.6 1080.1 1375 1079.5 1377.4 1079 1379.9 1078.4 1382.3 1077.8 1384.7 1077.2 1387.2 1076.7 1389.6 1076.1 1392 1075.5 1394.5 1075 1396.9 1074.4 1399.3 1073.9 1401.8 1073.3 1404.2 1072.7 1406.7 1072.2 1409.1 1071.7 1411.5 1071.1 1414 1070.6 1416.4 1070.1 1418.9 1069.7 1421.3 1069.2 1423.8 1068.8 1426.3 1068.4 1428.7 1068 1431.2 1067.7 1433.7 1067.4 1436.2 1067.1 1438.6 1066.8 1441.1 1066.5 1443.6 1066.3 1446.1 1066 1448.6 1065.8 1451.1 1065.6 1453.6 1065.3 1456 1065.1 1458.5 1064.8 1461 1064.6 1463.5 1064.3 1466 1064 1468.4 1063.7 1470.9 1063.3 1473.4 1062.9 1475.8 1062.5 1478.3 1062.1 1480.7 1061.6 1483.2 1061.1 1485.6 1060.6 1488.1 1060 1490.5 1059.5 1492.9 1058.9 1495.3 1058.3 1497.8 1057.7 1500.2 1057.1 1502.6 1056.5 1505 1055.9 1507.5 1055.3 1509.9 1054.6 1512.3 1054 1514.7 1053.4 1517.2 1052.7 1519.6 1052.1 1522 1051.5 1524.4 1050.8 1526.8 1050.2 1529.2 1049.5 1531.6 1048.9 1534.1 1048.2 1536.5 1047.5 1538.9 1046.9 1541.3 1046.2 1543.7 1045.6 1546.1 1044.9 1548.5 1044.2 1550.9 1043.6 1553.4 1042.9 1555.8 1042.2 1558.2 1041.5 1560.6 1040.9 1563 1040.2 1565.4 1039.5 1567.8 1038.8 1570.2 1038.1 1572.6 1037.4 1575 1036.7 1577.4 1036 1579.8 1035.3 1582.2 1034.6 1584.6 1033.9 1587 1033.2 1589.4 1032.5 1591.8 1031.8 1594.2 1031.2 1596.6 1030.5 1599 1029.8 1601.4 1029.2 1603.9 1028.5 1606.3 1027.9 1608.7 1027.3 1611.1 1026.7 1613.6 1026.1 1616 1025.5 1618.4 1025 1620.9 1024.4 1623.3 1023.9 1625.8 1023.4 1628.2 1022.9 1630.7 1022.4 1633.1 1021.9 1635.6 1021.4 1638 1020.9 1640.5 1020.5 1642.9 1020 1645.4 1019.6 1647.9 1019.2 1650.3 1018.8 1652.8 1018.4 1655.3 1018 1657.7 1017.7 1660.2 1017.3 1662.7 1016.9 1665.2 1016.6 1667.7 1016.2 1670.1 1015.9 1672.6 1015.6 1675.1 1015.2 1677.6 1014.9 1680 1014.5 1682.5 1014.2 1685 1013.8 1687.5 1013.5 1689.9 1013.2 1692.4 1012.8 1694.9 1012.5 1697.4 1012.1 1699.9 1011.8 1702.3 1011.4 1704.8 1011.1 1707.3 1010.7 1709.8 1010.3 1712.2 1010 1714.7 1009.6 1717.2 1009.3 1719.7 1008.9 1722.1 1008.5 1724.6 1008.2 1727.1 1007.8 1729.6 1007.4 1732 1007 1734.5 1006.6 1737 1006.2 1739.4 1005.8 1741.9 1005.4 1744.4 1005 1746.8 1004.5 1749.3 1004.1 1751.8 1003.7 1754.2 1003.3 1756.7 1002.8 1759.1 1002.4 1761.6 1002 1764.1 1001.5 1766.5 1001.1 1769 1000.7 1771.5 1000.2 1773.9 999.8 1776.4 999.4 1778.9 998.9 1781.3 998.5 1783.8 998.1 1786.2 997.7 1788.7 997.2 1791.2 996.8 1793.6 996.4 1796.1 995.9 1798.6 995.5 1801 995.1 1803.5 994.6 1806 994.2 1808.4 993.8 1810.9 993.4 1813.4 992.9 1815.8 992.5 1818.3 992.1 1820.8 991.7 1823.2 991.3 1825.7 990.9 1828.2 990.5 1830.6 990.1 1833.1 989.8 1835.6 989.4 1838.1 989 1840.5 988.7 1843 988.3 1845.5 988 1848 987.6 1850.4 987.3 1852.9 987 1855.4 986.6 1857.9 986.3 1860.4 986 1862.8 985.7 1865.3 985.3 1867.8 985" fill="none" stroke="#FF00FF" stroke-width="6" stroke-linejoin="round" stroke-linecap="butt"/>
<polygon points="245.8,1220.9 250.6,1231.2 261.9,1232.6 253.6,1240.3 255.7,1251.5 245.8,1246 235.9,1251.5 238,1240.3 229.7,1232.6 241,1231.2" fill="#F0F"/>
<polygon points="408,1183.9 412.8,1194.2 424,1195.6 415.8,1203.3 417.9,1214.5 408,1209 398,1214.5 400.2,1203.3 391.9,1195.6 403.2,1194.2" fill="#F0F"/>
<polygon points="448.5,1181.8 453.3,1192 464.6,1193.4 456.3,1201.2 458.4,1212.3 448.5,1206.9 438.6,1212.3 440.7,1201.2 432.4,1193.4 443.7,1192" fill="#F0F"/>
<polygon points="651.2,1180.1 656,1190.4 667.3,1191.8 659,1199.5 661.2,1210.7 651.2,1205.2 641.3,1210.7 643.4,1199.5 635.2,1191.8 646.4,1190.4" fill="#F0F"/>
<polygon points="853.9,1167.5 858.8,1177.8 870,1179.2 861.7,1187 863.9,1198.1 853.9,1192.6 844,1198.1 846.1,1187 837.9,1179.2 849.1,1177.8" fill="#F0F"/>
<polygon points="1056.6,1149.5 1061.5,1159.8 1072.7,1161.2 1064.4,1168.9 1066.6,1180.1 1056.6,1174.6 1046.7,1180.1 1048.9,1168.9 1040.6,1161.2 1051.8,1159.8" fill="#F0F"/>
<polygon points="1259.4,1086.9 1264.2,1097.2 1275.4,1098.6 1267.2,1106.3 1269.3,1117.5 1259.4,1112 1249.4,1117.5 1251.6,1106.3 1243.3,1098.6 1254.5,1097.2" fill="#F0F"/>
<polygon points="1462.1,1050.6 1466.9,1060.9 1478.1,1062.3 1469.9,1070.1 1472,1081.2 1462.1,1075.7 1452.1,1081.2 1454.3,1070.1 1446,1062.3 1457.3,1060.9" fill="#F0F"/>
<polygon points="1664.8,998.8 1669.6,1009.1 1680.9,1010.5 1672.6,1018.2 1674.7,1029.4 1664.8,1023.9 1654.9,1029.4 1657,1018.2 1648.7,1010.5 1660,1009.1" fill="#F0F"/>
<polygon points="1867.5,967.7 1872.3,978 1883.6,979.4 1875.3,987.2 1877.4,998.3 1867.5,992.8 1857.6,998.3 1859.7,987.2 1851.4,979.4 1862.7,978" fill="#F0F"/>
<path d="M246 1237.8L248.4 1237.1 250.8 1236.5 253.2 1235.9 255.7 1235.3 258.1 1234.7 260.6 1234.2 263 1233.7 265.5 1233.2 267.9 1232.7 270.4 1232.2 272.8 1231.8 275.3 1231.3 277.7 1230.8 280.2 1230.3 282.6 1229.9 285.1 1229.4 287.6 1228.9 290 1228.5 292.5 1228 294.9 1227.5 297.4 1227.1 299.8 1226.6 302.3 1226.1 304.7 1225.6 307.2 1225.1 309.6 1224.7 312.1 1224.2 314.6 1223.7 317 1223.2 319.5 1222.7 321.9 1222.2 324.4 1221.7 326.8 1221.2 329.2 1220.6 331.7 1220.1 334.1 1219.6 336.6 1219.1 339 1218.6 341.5 1218.1 343.9 1217.6 346.4 1217.1 348.8 1216.6 351.3 1216.1 353.7 1215.6 356.2 1215.1 358.6 1214.6 361.1 1214.1 363.5 1213.6 366 1213.1 368.5 1212.7 370.9 1212.2 373.4 1211.8 375.8 1211.4 378.3 1211 380.8 1210.5 383.2 1210.1 385.7 1209.8 388.2 1209.4 390.7 1209 393.1 1208.6 395.6 1208.2 398.1 1207.8 400.5 1207.5 403 1207.1 405.5 1206.7 408 1206.3 410.4 1206 412.9 1205.6 415.4 1205.2 417.8 1204.9 420.3 1204.5 422.8 1204.1 425.3 1203.7 427.7 1203.4 430.2 1203 432.7 1202.7 435.2 1202.4 437.6 1202 440.1 1201.7 442.6 1201.5 445.1 1201.2 447.6 1201 450 1200.8 452.5 1200.6 455 1200.5 457.5 1200.4 460 1200.3 462.5 1200.2 465 1200.1 467.5 1200 470 1200 472.5 1199.9 475 1199.8 477.5 1199.7 480 1199.6 482.5 1199.5 485 1199.4 487.4 1199.2 489.9 1199 492.4 1198.8 494.9 1198.6 497.4 1198.3 499.9 1198 502.3 1197.7 504.8 1197.4 507.3 1197.1 509.8 1196.8 512.3 1196.5 514.7 1196.2 517.2 1195.9 519.7 1195.6 522.2 1195.3 524.7 1195 527.1 1194.8 529.6 1194.5 532.1 1194.3 534.6 1194.1 537.1 1193.9 539.6 1193.7 542.1 1193.6 544.6 1193.4 547.1 1193.2 549.6 1193 552 1192.8 554.5 1192.6 557 1192.3 559.5 1192.1 561.9 1191.8 564.4 1191.4 566.8 1191 569.2 1190.5 571.7 1190 574.1 1189.5 576.5 1188.9 578.9 1188.2 581.3 1187.6 583.6 1186.9 586 1186.2 588.4 1185.4 590.8 1184.7 593.2 1183.9 595.5 1183.2 597.9 1182.4 600.3 1181.7 602.7 1180.9 605.1 1180.2 607.5 1179.5 609.9 1178.8 612.3 1178.1 614.7 1177.4 617.1 1176.7 619.5 1176 621.9 1175.3 624.3 1174.7 626.7 1174 629.1 1173.4 631.5 1172.7 633.9 1172 636.3 1171.4 638.7 1170.8 641.1 1170.2 643.5 1169.6 645.9 1169 648.4 1168.5 650.8 1168 653.2 1167.6 655.6 1167.1 658.1 1166.7 660.5 1166.4 663 1166 665.4 1165.7 667.9 1165.4 670.3 1165 672.8 1164.7 675.3 1164.3 677.7 1164 680.2 1163.6 682.7 1163.2 685.1 1162.9 687.6 1162.5 690.1 1162.1 692.5 1161.8 695 1161.5 697.5 1161.1 700 1160.8 702.4 1160.6 704.9 1160.3 707.4 1160.1 709.9 1159.9 712.4 1159.7 714.9 1159.5 717.4 1159.3 719.9 1159.1 722.3 1158.9 724.8 1158.7 727.3 1158.5 729.8 1158.3 732.3 1158.1 734.8 1157.9 737.3 1157.6 739.8 1157.4 742.3 1157.1 744.7 1156.8 747.2 1156.5 749.7 1156.3 752.2 1156 754.7 1155.7 757.2 1155.4 759.6 1155.1 762.1 1154.8 764.6 1154.5 767.1 1154.2 769.6 1153.9 772.1 1153.7 774.5 1153.4 777 1153.1 779.5 1152.9 782 1152.7 784.5 1152.5 787 1152.3 789.5 1152.1 792 1151.9 794.5 1151.7 797 1151.5 799.5 1151.4 802 1151.2 804.4 1151.1 806.9 1150.9 809.4 1150.8 811.9 1150.6 814.4 1150.5 816.9 1150.3 819.4 1150.2 821.9 1150 824.4 1149.9 826.9 1149.7 829.4 1149.6 831.9 1149.4 834.4 1149.2 836.9 1149.1 839.4 1148.9 841.9 1148.7 844.4 1148.6 846.9 1148.4 849.4 1148.2 851.9 1148 854.3 1147.7 856.8 1147.5 859.3 1147.3 861.8 1147.1 864.3 1146.8 866.8 1146.6 869.3 1146.3 871.8 1146.1 874.3 1145.9 876.7 1145.7 879.2 1145.5 881.7 1145.2 884.2 1145 886.7 1144.8 889.2 1144.6 891.7 1144.5 894.2 1144.3 896.7 1144.1 899.2 1143.9 901.7 1143.7 904.2 1143.5 906.7 1143.3 909.2 1143.2 911.7 1143 914.1 1142.8 916.6 1142.7 919.1 1142.5 921.6 1142.3 924.1 1142.2 926.6 1142 929.1 1141.9 931.6 1141.7 934.1 1141.6 936.6 1141.4 939.1 1141.3 941.6 1141.1 944.1 1141 946.6 1140.8 949.1 1140.7 951.6 1140.5 954.1 1140.4 956.6 1140.2 959.1 1140.1 961.6 1139.9 964.1 1139.7 966.6 1139.5 969 1139.3 971.5 1139.1 974 1138.9 976.5 1138.7 979 1138.4 981.5 1138.2 984 1137.9 986.5 1137.6 989 1137.4 991.4 1137.1 993.9 1136.8 996.4 1136.6 998.9 1136.3 1001.4 1136 1003.9 1135.8 1006.4 1135.5 1008.8 1135.3 1011.3 1135 1013.8 1134.8 1016.3 1134.6 1018.8 1134.3 1021.3 1134.1 1023.8 1133.9 1026.3 1133.7 1028.8 1133.4 1031.3 1133.2 1033.7 1133 1036.2 1132.8 1038.7 1132.5 1041.2 1132.3 1043.7 1132 1046.2 1131.7 1048.6 1131.4 1051.1 1131 1053.6 1130.7 1056 1130.3 1058.5 1129.9 1060.9 1129.4 1063.4 1129 1065.8 1128.5 1068.3 1128 1070.7 1127.5 1073.2 1127 1075.6 1126.5 1078.1 1126 1080.5 1125.5 1083 1125 1085.4 1124.5 1087.9 1124 1090.3 1123.6 1092.8 1123.1 1095.2 1122.6 1097.7 1122.2 1100.1 1121.7 1102.6 1121.2 1105.1 1120.8 1107.5 1120.3 1110 1119.8 1112.4 1119.4 1114.9 1118.9 1117.3 1118.4 1119.8 1117.9 1122.2 1117.4 1124.7 1117 1127.2 1116.5 1129.6 1116 1132.1 1115.5 1134.5 1115.1 1137 1114.6 1139.4 1114.2 1141.9 1113.7 1144.4 1113.3 1146.8 1112.9 1149.3 1112.5 1151.8 1112.1 1154.2 1111.7 1156.7 1111.3 1159.2 1111 1161.6 1110.6 1164.1 1110.2 1166.6 1109.9 1169.1 1109.5 1171.5 1109.2 1174 1108.8 1176.5 1108.5 1179 1108.1 1181.4 1107.8 1183.9 1107.4 1186.4 1107 1188.9 1106.6 1191.3 1106.2 1193.8 1105.8 1196.3 1105.4 1198.7 1105 1201.2 1104.6 1203.7 1104.2 1206.1 1103.7 1208.6 1103.3 1211 1102.8 1213.5 1102.4 1216 1101.9 1218.4 1101.4 1220.9 1101 1223.3 1100.5 1225.8 1100 1228.2 1099.5 1230.7 1099 1233.1 1098.5 1235.6 1098 1238 1097.5 1240.5 1097 1242.9 1096.5 1245.4 1095.9 1247.8 1095.4 1250.3 1094.9 1252.7 1094.4 1255.1 1093.8 1257.6 1093.3 1260 1092.7 1262.4 1092.1 1264.9 1091.6 1267.3 1091 1269.7 1090.4 1272.2 1089.8 1274.6 1089.1 1277 1088.5 1279.4 1087.9 1281.9 1087.3 1284.3 1086.6 1286.7 1086 1289.1 1085.4 1291.5 1084.7 1293.9 1084.1 1296.4 1083.4 1298.8 1082.8 1301.2 1082.1 1303.6 1081.5 1306 1080.8 1308.4 1080.1 1310.8 1079.5 1313.2 1078.8 1315.6 1078.1 1318 1077.4 1320.4 1076.7 1322.8 1076 1325.3 1075.3 1327.6 1074.6 1330 1073.9 1332.4 1073.2 1334.8 1072.5 1337.2 1071.8 1339.6 1071.1 1342 1070.4 1344.4 1069.7 1346.8 1069 1349.3 1068.3 1351.7 1067.6 1354.1 1067 1356.5 1066.3 1358.9 1065.6 1361.3 1065 1363.7 1064.3 1366.1 1063.6 1368.5 1063 1371 1062.3 1373.4 1061.7 1375.8 1061.1 1378.2 1060.4 1380.6 1059.8 1383.1 1059.2 1385.5 1058.6 1387.9 1058 1390.3 1057.3 1392.8 1056.7 1395.2 1056.2 1397.6 1055.6 1400 1055 1402.5 1054.4 1404.9 1053.8 1407.3 1053.3 1409.8 1052.7 1412.2 1052.1 1414.7 1051.6 1417.1 1051 1419.5 1050.5 1422 1049.9 1424.4 1049.4 1426.9 1048.9 1429.3 1048.3 1431.7 1047.8 1434.2 1047.3 1436.6 1046.8 1439.1 1046.3 1441.5 1045.8 1444 1045.3 1446.4 1044.7 1448.9 1044.2 1451.3 1043.7 1453.8 1043.2 1456.2 1042.7 1458.7 1042.2 1461.1 1041.7 1463.6 1041.2 1466 1040.6 1468.5 1040.1 1470.9 1039.6 1473.3 1039 1475.8 1038.5 1478.2 1037.9 1480.7 1037.4 1483.1 1036.8 1485.5 1036.3 1488 1035.7 1490.4 1035.2 1492.9 1034.6 1495.3 1034 1497.7 1033.5 1500.2 1032.9 1502.6 1032.4 1505 1031.8 1507.5 1031.2 1509.9 1030.7 1512.3 1030.1 1514.8 1029.5 1517.2 1028.9 1519.6 1028.4 1522.1 1027.8 1524.5 1027.2 1526.9 1026.6 1529.4 1026 1531.8 1025.4 1534.2 1024.8 1536.7 1024.2 1539.1 1023.6 1541.5 1023 1543.9 1022.4 1546.4 1021.8 1548.8 1021.2 1551.2 1020.6 1553.6 1020 1556.1 1019.4 1558.5 1018.8 1560.9 1018.2 1563.4 1017.6 1565.8 1017 1568.2 1016.4 1570.6 1015.8 1573.1 1015.2 1575.5 1014.7 1577.9 1014.1 1580.4 1013.5 1582.8 1012.9 1585.2 1012.4 1587.7 1011.8 1590.1 1011.2 1592.6 1010.7 1595 1010.1 1597.4 1009.6 1599.9 1009 1602.3 1008.5 1604.8 1008 1607.2 1007.4 1609.6 1006.9 1612.1 1006.4 1614.5 1005.9 1617 1005.4 1619.4 1004.9 1621.9 1004.4 1624.3 1003.9 1626.8 1003.4 1629.3 1002.9 1631.7 1002.4 1634.2 1001.9 1636.6 1001.5 1639.1 1001 1641.5 1000.5 1644 1000.1 1646.5 999.6 1648.9 999.2 1651.4 998.8 1653.8 998.3 1656.3 997.9 1658.8 997.5 1661.2 997 1663.7 996.6 1666.2 996.2 1668.6 995.8 1671.1 995.3 1673.5 994.9 1676 994.5 1678.5 994 1680.9 993.6 1683.4 993.1 1685.8 992.6 1688.3 992.2 1690.8 991.7 1693.2 991.2 1695.7 990.7 1698.1 990.2 1700.6 989.7 1703 989.2 1705.5 988.8 1707.9 988.3 1710.4 987.8 1712.8 987.3 1715.3 986.8 1717.7 986.3 1720.2 985.8 1722.6 985.3 1725.1 984.8 1727.5 984.3 1730 983.8 1732.4 983.3 1734.9 982.8 1737.3 982.3 1739.8 981.8 1742.2 981.3 1744.7 980.8 1747.1 980.3 1749.6 979.8 1752 979.3 1754.5 978.9 1756.9 978.4 1759.4 977.9 1761.9 977.4 1764.3 976.9 1766.8 976.4 1769.2 975.9 1771.7 975.5 1774.1 975 1776.6 974.5 1779 974.1 1781.5 973.6 1784 973.2 1786.4 972.7 1788.9 972.2 1791.3 971.8 1793.8 971.4 1796.3 970.9 1798.7 970.5 1801.2 970.1 1803.7 969.6 1806.1 969.2 1808.6 968.8 1811 968.3 1813.5 967.9 1816 967.5 1818.4 967 1820.9 966.6 1823.4 966.2 1825.8 965.8 1828.3 965.4 1830.8 965 1833.2 964.6 1835.7 964.1 1838.2 963.7 1840.6 963.3 1843.1 962.9 1845.6 962.5 1848 962.1 1850.5 961.7 1853 961.4 1855.4 961 1857.9 960.6 1860.4 960.2 1862.9 959.8 1865.3 959.4 1867.8 959" fill="none" stroke="#800000" stroke-width="6" stroke-linejoin="round" stroke-linecap="butt"/>
<polygon points="245.8,1221.8 261.8,1237.8 245.8,1253.8 229.8,1237.8" fill="#fff" stroke="#800000" stroke-width="1.0"/>
<polygon points="448.5,1183.4 464.5,1199.4 448.5,1215.4 432.5,1199.4" fill="#fff" stroke="#800000" stroke-width="1.0"/>
<polygon points="570.1,1178.5 586.1,1194.5 570.1,1210.5 554.1,1194.5" fill="#fff" stroke="#800000" stroke-width="1.0"/>
<polygon points="651.2,1146.5 667.2,1162.5 651.2,1178.5 635.2,1162.5" fill="#fff" stroke="#800000" stroke-width="1.0"/>
<polygon points="853.9,1131.9 869.9,1147.9 853.9,1163.9 837.9,1147.9" fill="#fff" stroke="#800000" stroke-width="1.0"/>
<polygon points="1056.6,1116.9 1072.6,1132.9 1056.6,1148.9 1040.6,1132.9" fill="#fff" stroke="#800000" stroke-width="1.0"/>
<polygon points="1259.4,1078.3 1275.4,1094.3 1259.4,1110.3 1243.4,1094.3" fill="#fff" stroke="#800000" stroke-width="1.0"/>
<polygon points="1462.1,1027.1 1478.1,1043.1 1462.1,1059.1 1446.1,1043.1" fill="#fff" stroke="#800000" stroke-width="1.0"/>
<polygon points="1664.8,981 1680.8,997 1664.8,1013 1648.8,997" fill="#fff" stroke="#800000" stroke-width="1.0"/>
<polygon points="1867.5,944.6 1883.5,960.6 1867.5,976.6 1851.5,960.6" fill="#fff" stroke="#800000" stroke-width="1.0"/>
</g>
<text transform="translate(192.70 426.05) scale(0.9750 1)" font-family="'Liberation Sans', Arial, sans-serif" font-size="48.00">0</text>
<text transform="translate(166.72 358.17) scale(0.9750 1)" font-family="'Liberation Sans', Arial, sans-serif" font-size="48.00">20</text>
<text transform="translate(166.72 290.29) scale(0.9750 1)" font-family="'Liberation Sans', Arial, sans-serif" font-size="48.00">40</text>
<text transform="translate(166.72 222.41) scale(0.9750 1)" font-family="'Liberation Sans', Arial, sans-serif" font-size="48.00">60</text>
<text transform="translate(166.72 154.53) scale(0.9750 1)" font-family="'Liberation Sans', Arial, sans-serif" font-size="48.00">80</text>
<text transform="translate(140.75 86.65) scale(0.9750 1)" font-family="'Liberation Sans', Arial, sans-serif" font-size="48.00">100</text>
<text transform="translate(192.70 837.17) scale(0.9750 1)" font-family="'Liberation Sans', Arial, sans-serif" font-size="48.00">0</text>
<text transform="translate(166.72 769.29) scale(0.9750 1)" font-family="'Liberation Sans', Arial, sans-serif" font-size="48.00">20</text>
<text transform="translate(166.72 701.41) scale(0.9750 1)" font-family="'Liberation Sans', Arial, sans-serif" font-size="48.00">40</text>
<text transform="translate(166.72 633.53) scale(0.9750 1)" font-family="'Liberation Sans', Arial, sans-serif" font-size="48.00">60</text>
<text transform="translate(166.72 565.65) scale(0.9750 1)" font-family="'Liberation Sans', Arial, sans-serif" font-size="48.00">80</text>
<text transform="translate(140.75 497.77) scale(0.9750 1)" font-family="'Liberation Sans', Arial, sans-serif" font-size="48.00">100</text>
<text transform="translate(192.70 1249.40) scale(0.9750 1)" font-family="'Liberation Sans', Arial, sans-serif" font-size="48.00">0</text>
<text transform="translate(192.70 1190.11) scale(0.9750 1)" font-family="'Liberation Sans', Arial, sans-serif" font-size="48.00">5</text>
<text transform="translate(166.72 1130.82) scale(0.9750 1)" font-family="'Liberation Sans', Arial, sans-serif" font-size="48.00">10</text>
<text transform="translate(166.72 1071.53) scale(0.9750 1)" font-family="'Liberation Sans', Arial, sans-serif" font-size="48.00">15</text>
<text transform="translate(166.72 1012.24) scale(0.9750 1)" font-family="'Liberation Sans', Arial, sans-serif" font-size="48.00">20</text>
<text transform="translate(166.72 952.95) scale(0.9750 1)" font-family="'Liberation Sans', Arial, sans-serif" font-size="48.00">25</text>
<text transform="translate(166.72 893.66) scale(0.9750 1)" font-family="'Liberation Sans', Arial, sans-serif" font-size="48.00">30</text>
<text transform="translate(206.23 1334.30) scale(0.9780 1)" font-family="'Liberation Serif', 'Times New Roman', serif" font-size="52.60">100</text>
<text transform="translate(408.94 1334.30) scale(0.9780 1)" font-family="'Liberation Serif', 'Times New Roman', serif" font-size="52.60">125</text>
<text transform="translate(611.66 1334.30) scale(0.9780 1)" font-family="'Liberation Serif', 'Times New Roman', serif" font-size="52.60">150</text>
<text transform="translate(814.37 1334.30) scale(0.9780 1)" font-family="'Liberation Serif', 'Times New Roman', serif" font-size="52.60">175</text>
<text transform="translate(1018.24 1334.30) scale(0.9780 1)" font-family="'Liberation Serif', 'Times New Roman', serif" font-size="52.60">200</text>
<text transform="translate(1220.95 1334.30) scale(0.9780 1)" font-family="'Liberation Serif', 'Times New Roman', serif" font-size="52.60">225</text>
<text transform="translate(1423.66 1334.30) scale(0.9780 1)" font-family="'Liberation Serif', 'Times New Roman', serif" font-size="52.60">250</text>
<text transform="translate(1626.38 1334.30) scale(0.9780 1)" font-family="'Liberation Serif', 'Times New Roman', serif" font-size="52.60">275</text>
<text transform="translate(1828.96 1334.30) scale(0.9780 1)" font-family="'Liberation Serif', 'Times New Roman', serif" font-size="52.60">300</text>
<text transform="translate(276.87 99.21) scale(1.0305 1)" font-family="'Liberation Serif', 'Times New Roman', serif" font-size="56.70">(a)</text>
<text transform="translate(283.48 508.41) scale(1.0271 1)" font-family="'Liberation Serif', 'Times New Roman', serif" font-size="56.70">(b)</text>
<text transform="translate(283.46 918.71) scale(1.0339 1)" font-family="'Liberation Serif', 'Times New Roman', serif" font-size="56.70">(c)</text>
<text x="805" y="1446.5" font-family="'Liberation Serif', 'Times New Roman', serif" font-size="65">Temperature</text>
<text transform="translate(1150.32 1444.76) scale(1.0553 1)" font-family="'Liberation Serif', 'Times New Roman', serif" font-size="56.48">(</text>
<text transform="translate(1170.25 1413.68) scale(1.0626 1)" font-family="'Liberation Serif', 'Times New Roman', serif" font-size="62.29">o</text>
<text transform="translate(1201.44 1446.42) scale(0.9834 1)" font-family="'Liberation Serif', 'Times New Roman', serif" font-size="67.61">C</text>
<text transform="translate(1245.63 1444.91) scale(0.9765 1)" font-family="'Liberation Serif', 'Times New Roman', serif" font-size="57.11">)</text>
<text transform="translate(73.67 378.85) rotate(-90) scale(0.9744 1)" font-family="'Liberation Serif', 'Times New Roman', serif" font-size="62.84">C</text>
<text transform="translate(95.55 339.37) rotate(-90) scale(1.0113 1)" font-family="'Liberation Serif', 'Times New Roman', serif" font-size="35.37">MeOH</text>
<text transform="translate(73.37 226.19) rotate(-90) scale(1.0092 1)" font-family="'Liberation Serif', 'Times New Roman', serif" font-size="61.91">%</text>
<text transform="translate(77.56 756.47) rotate(-90) scale(1.0095 1)" font-family="'Liberation Serif', 'Times New Roman', serif" font-size="63.58">S</text>
<text transform="translate(100.90 723.73) rotate(-90) scale(1.0236 1)" font-family="'Liberation Serif', 'Times New Roman', serif" font-size="36.67">H2</text>
<text transform="translate(77.26 680.07) rotate(-90) scale(0.9911 1)" font-family="'Liberation Serif', 'Times New Roman', serif" font-size="62.65">%</text>
<text transform="translate(87.47 1140.68) rotate(-90) scale(0.8816 1)" font-family="'Liberation Sans', Arial, sans-serif" font-size="62.54">S</text>
<text transform="translate(109.05 1102.78) rotate(-90) scale(1.0143 1)" font-family="'Liberation Sans', Arial, sans-serif" font-size="35.07">CO</text>
<text transform="translate(86.60 1046.40) rotate(-90) scale(0.8917 1)" font-family="'Liberation Sans', Arial, sans-serif" font-size="60.86">%</text>
</svg>
</body></html>
